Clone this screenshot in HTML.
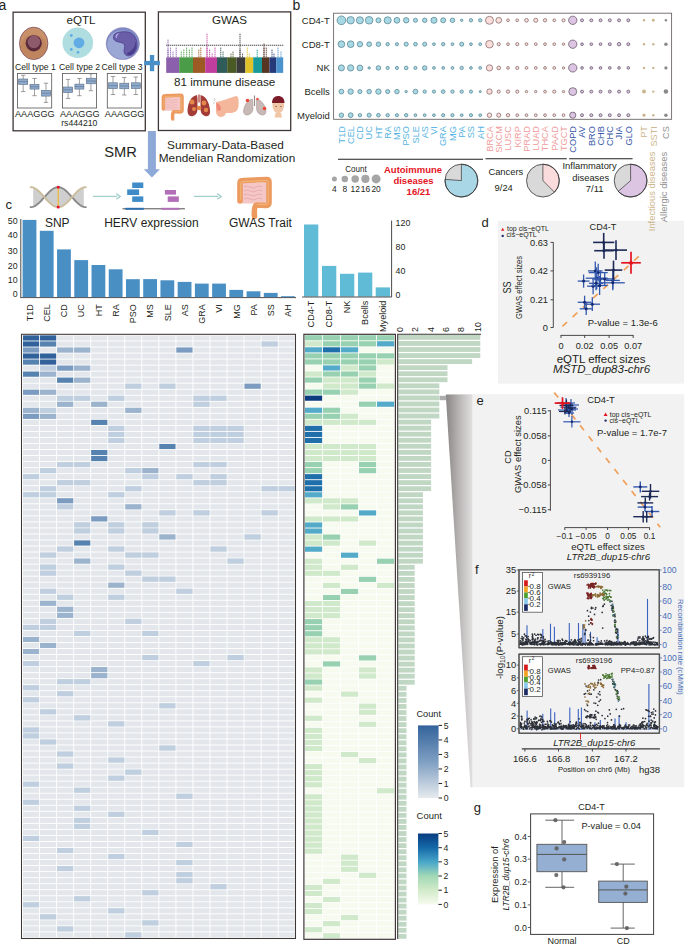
<!DOCTYPE html>
<html><head><meta charset="utf-8"><title>Figure</title>
<style>
html,body{margin:0;padding:0;background:#fff;}
body{width:685px;height:944px;overflow:hidden;}
svg{display:block;font-family:"Liberation Sans", sans-serif;}
</style></head><body>
<svg width="685" height="944" viewBox="0 0 685 944">
<text x="-1.50" y="9.90" font-size="14" fill="#231f20" text-anchor="start">a</text>
<text x="292.60" y="9.90" font-size="14" fill="#231f20" text-anchor="start">b</text>
<rect x="13.10" y="12.20" width="132.20" height="118.60" fill="none" stroke="#3f3636" stroke-width="1.3"/>
<rect x="158.40" y="11.90" width="132.30" height="118.60" fill="none" stroke="#3f3636" stroke-width="1.3"/>
<text x="81.00" y="23.60" font-size="11.6" fill="#231f20" text-anchor="middle">eQTL</text>
<text x="229.50" y="23.60" font-size="11.6" fill="#231f20" text-anchor="middle">GWAS</text>
<ellipse cx="33.7" cy="43.4" rx="14.2" ry="16.2" fill="#c8916a" stroke="#7d4a5c" stroke-width="0.8"/>
<ellipse cx="33.7" cy="46.5" rx="12.5" ry="12" fill="#b77d58" opacity="0.6"/>
<circle cx="33.70" cy="43.30" r="8.10" fill="#5a2a3c"/>
<circle cx="33.90" cy="41.90" r="6.30" fill="#8c5a6a"/>
<circle cx="77.80" cy="42.80" r="15.30" fill="#afdde0"/>
<circle cx="79.00" cy="42.80" r="5.40" fill="#62ace6"/>
<circle cx="71.30" cy="35.50" r="1.40" fill="#62ace6"/>
<circle cx="71.30" cy="49.50" r="1.40" fill="#62ace6"/>
<circle cx="78.00" cy="52.30" r="1.40" fill="#62ace6"/>
<ellipse cx="122.8" cy="43.6" rx="16.7" ry="16.0" fill="#7f8bc6" stroke="#8e7aa8" stroke-width="0.4"/>
<ellipse cx="122.3" cy="44.6" rx="15.0" ry="14.2" fill="#9ba7d5"/>
<path d="M113.5 36.5 C114 32.5 120 31.5 126 31.8 C133 32 137.5 38 137 46 C136.5 52 132 56 128 55.8 C124.5 55.5 123.5 52 124.3 49 C125 46 125 43.5 121 42.5 C117 41.8 113 41 113.5 36.5 Z" fill="#6a5ea8" stroke="#4a3d8c" stroke-width="0.8"/>
<path d="M129 52 C133 50 135.5 46 135.5 41 C136.8 45 136.5 51 132 54.5 C130 55.5 127.5 55 126.5 53.5 Z" fill="#4a3d8c"/>
<path d="M115.5 37 C115.5 34.5 117 33.5 119.5 33.2 C117.5 34.5 116.8 36 117 38.2 Z" fill="#b0a8ea"/>
<text x="14.90" y="69.90" font-size="8.7" fill="#231f20" text-anchor="start">Cell type 1</text>
<text x="59.00" y="69.90" font-size="8.7" fill="#231f20" text-anchor="start">Cell type 2</text>
<text x="101.60" y="69.90" font-size="8.7" fill="#231f20" text-anchor="start">Cell type 3</text>
<rect x="17.50" y="73.40" width="34.20" height="34.60" fill="white" stroke="#555" stroke-width="0.8"/>
<line x1="23.20" y1="75.30" x2="23.20" y2="79.00" stroke="#777" stroke-width="0.7"/>
<line x1="23.20" y1="84.40" x2="23.20" y2="91.60" stroke="#777" stroke-width="0.7"/>
<line x1="21.00" y1="75.30" x2="25.40" y2="75.30" stroke="#777" stroke-width="0.7"/>
<line x1="21.00" y1="91.60" x2="25.40" y2="91.60" stroke="#777" stroke-width="0.7"/>
<rect x="18.70" y="79.00" width="9.00" height="5.40" fill="#8eabcf" stroke="#5c6d84" stroke-width="0.6"/>
<line x1="18.70" y1="81.70" x2="27.70" y2="81.70" stroke="#5c6d84" stroke-width="0.6"/>
<line x1="34.50" y1="78.50" x2="34.50" y2="84.40" stroke="#777" stroke-width="0.7"/>
<line x1="34.50" y1="89.10" x2="34.50" y2="95.70" stroke="#777" stroke-width="0.7"/>
<line x1="32.30" y1="78.50" x2="36.70" y2="78.50" stroke="#777" stroke-width="0.7"/>
<line x1="32.30" y1="95.70" x2="36.70" y2="95.70" stroke="#777" stroke-width="0.7"/>
<rect x="30.00" y="84.40" width="9.00" height="4.70" fill="#8eabcf" stroke="#5c6d84" stroke-width="0.6"/>
<line x1="30.00" y1="86.75" x2="39.00" y2="86.75" stroke="#5c6d84" stroke-width="0.6"/>
<line x1="46.00" y1="83.20" x2="46.00" y2="90.30" stroke="#777" stroke-width="0.7"/>
<line x1="46.00" y1="96.10" x2="46.00" y2="102.40" stroke="#777" stroke-width="0.7"/>
<line x1="43.80" y1="83.20" x2="48.20" y2="83.20" stroke="#777" stroke-width="0.7"/>
<line x1="43.80" y1="102.40" x2="48.20" y2="102.40" stroke="#777" stroke-width="0.7"/>
<rect x="41.50" y="90.30" width="9.00" height="5.80" fill="#8eabcf" stroke="#5c6d84" stroke-width="0.6"/>
<line x1="41.50" y1="93.20" x2="50.50" y2="93.20" stroke="#5c6d84" stroke-width="0.6"/>
<rect x="62.40" y="73.40" width="34.20" height="34.60" fill="white" stroke="#555" stroke-width="0.8"/>
<line x1="68.10" y1="79.40" x2="68.10" y2="87.00" stroke="#777" stroke-width="0.7"/>
<line x1="68.10" y1="92.60" x2="68.10" y2="98.40" stroke="#777" stroke-width="0.7"/>
<line x1="65.90" y1="79.40" x2="70.30" y2="79.40" stroke="#777" stroke-width="0.7"/>
<line x1="65.90" y1="98.40" x2="70.30" y2="98.40" stroke="#777" stroke-width="0.7"/>
<rect x="63.60" y="87.00" width="9.00" height="5.60" fill="#8eabcf" stroke="#5c6d84" stroke-width="0.6"/>
<line x1="63.60" y1="89.80" x2="72.60" y2="89.80" stroke="#5c6d84" stroke-width="0.6"/>
<line x1="79.40" y1="78.50" x2="79.40" y2="84.10" stroke="#777" stroke-width="0.7"/>
<line x1="79.40" y1="89.10" x2="79.40" y2="95.70" stroke="#777" stroke-width="0.7"/>
<line x1="77.20" y1="78.50" x2="81.60" y2="78.50" stroke="#777" stroke-width="0.7"/>
<line x1="77.20" y1="95.70" x2="81.60" y2="95.70" stroke="#777" stroke-width="0.7"/>
<rect x="74.90" y="84.10" width="9.00" height="5.00" fill="#8eabcf" stroke="#5c6d84" stroke-width="0.6"/>
<line x1="74.90" y1="86.60" x2="83.90" y2="86.60" stroke="#5c6d84" stroke-width="0.6"/>
<line x1="90.90" y1="73.80" x2="90.90" y2="78.20" stroke="#777" stroke-width="0.7"/>
<line x1="90.90" y1="83.80" x2="90.90" y2="90.70" stroke="#777" stroke-width="0.7"/>
<line x1="88.70" y1="73.80" x2="93.10" y2="73.80" stroke="#777" stroke-width="0.7"/>
<line x1="88.70" y1="90.70" x2="93.10" y2="90.70" stroke="#777" stroke-width="0.7"/>
<rect x="86.40" y="78.20" width="9.00" height="5.60" fill="#8eabcf" stroke="#5c6d84" stroke-width="0.6"/>
<line x1="86.40" y1="81.00" x2="95.40" y2="81.00" stroke="#5c6d84" stroke-width="0.6"/>
<rect x="107.30" y="73.40" width="34.20" height="34.60" fill="white" stroke="#555" stroke-width="0.8"/>
<line x1="113.00" y1="76.50" x2="113.00" y2="82.80" stroke="#777" stroke-width="0.7"/>
<line x1="113.00" y1="88.60" x2="113.00" y2="94.50" stroke="#777" stroke-width="0.7"/>
<line x1="110.80" y1="76.50" x2="115.20" y2="76.50" stroke="#777" stroke-width="0.7"/>
<line x1="110.80" y1="94.50" x2="115.20" y2="94.50" stroke="#777" stroke-width="0.7"/>
<rect x="108.50" y="82.80" width="9.00" height="5.80" fill="#8eabcf" stroke="#5c6d84" stroke-width="0.6"/>
<line x1="108.50" y1="85.70" x2="117.50" y2="85.70" stroke="#5c6d84" stroke-width="0.6"/>
<line x1="124.30" y1="77.50" x2="124.30" y2="83.20" stroke="#777" stroke-width="0.7"/>
<line x1="124.30" y1="88.80" x2="124.30" y2="95.00" stroke="#777" stroke-width="0.7"/>
<line x1="122.10" y1="77.50" x2="126.50" y2="77.50" stroke="#777" stroke-width="0.7"/>
<line x1="122.10" y1="95.00" x2="126.50" y2="95.00" stroke="#777" stroke-width="0.7"/>
<rect x="119.80" y="83.20" width="9.00" height="5.60" fill="#8eabcf" stroke="#5c6d84" stroke-width="0.6"/>
<line x1="119.80" y1="86.00" x2="128.80" y2="86.00" stroke="#5c6d84" stroke-width="0.6"/>
<line x1="135.80" y1="77.00" x2="135.80" y2="82.80" stroke="#777" stroke-width="0.7"/>
<line x1="135.80" y1="88.60" x2="135.80" y2="94.50" stroke="#777" stroke-width="0.7"/>
<line x1="133.60" y1="77.00" x2="138.00" y2="77.00" stroke="#777" stroke-width="0.7"/>
<line x1="133.60" y1="94.50" x2="138.00" y2="94.50" stroke="#777" stroke-width="0.7"/>
<rect x="131.30" y="82.80" width="9.00" height="5.80" fill="#8eabcf" stroke="#5c6d84" stroke-width="0.6"/>
<line x1="131.30" y1="85.70" x2="140.30" y2="85.70" stroke="#5c6d84" stroke-width="0.6"/>
<text x="15.00" y="116.60" font-size="9.1" fill="#231f20" text-anchor="start" textLength="39.6" lengthAdjust="spacingAndGlyphs">AAAGGG</text>
<text x="60.00" y="116.60" font-size="9.1" fill="#231f20" text-anchor="start" textLength="39.6" lengthAdjust="spacingAndGlyphs">AAAGGG</text>
<text x="104.80" y="116.60" font-size="9.1" fill="#231f20" text-anchor="start" textLength="39.6" lengthAdjust="spacingAndGlyphs">AAAGGG</text>
<text x="79.30" y="125.90" font-size="8.7" fill="#231f20" text-anchor="middle">rs444210</text>
<rect x="166.20" y="57.30" width="13.00" height="15.60" fill="#8b5fac"/>
<rect x="179.20" y="57.30" width="13.80" height="15.60" fill="#4a9c49"/>
<rect x="193.00" y="57.30" width="12.20" height="15.60" fill="#9c5a25"/>
<rect x="205.20" y="57.30" width="11.80" height="15.60" fill="#c03f9e"/>
<rect x="217.00" y="57.30" width="10.20" height="15.60" fill="#2f5c58"/>
<rect x="227.20" y="57.30" width="9.30" height="15.60" fill="#4a5a24"/>
<rect x="236.50" y="57.30" width="8.90" height="15.60" fill="#3a3a3a"/>
<rect x="245.40" y="57.30" width="7.80" height="15.60" fill="#e0c12a"/>
<rect x="253.20" y="57.30" width="8.80" height="15.60" fill="#17999a"/>
<rect x="262.00" y="57.30" width="7.50" height="15.60" fill="#563522"/>
<rect x="269.50" y="57.30" width="6.70" height="15.60" fill="#263a7a"/>
<rect x="276.20" y="57.30" width="7.00" height="15.60" fill="#4a93cc"/>
<rect x="167.45" y="55.65" width="1.10" height="1.10" fill="#8b5fac"/>
<rect x="167.45" y="53.65" width="1.10" height="1.10" fill="#8b5fac"/>
<rect x="167.45" y="51.65" width="1.10" height="1.10" fill="#8b5fac"/>
<rect x="167.45" y="49.65" width="1.10" height="1.10" fill="#8b5fac"/>
<rect x="169.95" y="55.65" width="1.10" height="1.10" fill="#8b5fac"/>
<rect x="169.95" y="53.65" width="1.10" height="1.10" fill="#8b5fac"/>
<rect x="169.95" y="51.65" width="1.10" height="1.10" fill="#8b5fac"/>
<rect x="169.95" y="49.65" width="1.10" height="1.10" fill="#8b5fac"/>
<rect x="169.95" y="47.65" width="1.10" height="1.10" fill="#8b5fac"/>
<rect x="172.45" y="55.65" width="1.10" height="1.10" fill="#8b5fac"/>
<rect x="172.45" y="53.65" width="1.10" height="1.10" fill="#8b5fac"/>
<rect x="172.45" y="51.65" width="1.10" height="1.10" fill="#8b5fac"/>
<rect x="175.65" y="55.65" width="1.10" height="1.10" fill="#8b5fac"/>
<rect x="175.65" y="53.65" width="1.10" height="1.10" fill="#8b5fac"/>
<rect x="175.65" y="51.65" width="1.10" height="1.10" fill="#8b5fac"/>
<rect x="175.65" y="49.65" width="1.10" height="1.10" fill="#8b5fac"/>
<rect x="175.65" y="47.65" width="1.10" height="1.10" fill="#8b5fac"/>
<rect x="180.75" y="55.65" width="1.10" height="1.10" fill="#4a9c49"/>
<rect x="180.75" y="53.65" width="1.10" height="1.10" fill="#4a9c49"/>
<rect x="180.75" y="51.65" width="1.10" height="1.10" fill="#4a9c49"/>
<rect x="183.25" y="55.65" width="1.10" height="1.10" fill="#4a9c49"/>
<rect x="183.25" y="53.65" width="1.10" height="1.10" fill="#4a9c49"/>
<rect x="183.25" y="51.65" width="1.10" height="1.10" fill="#4a9c49"/>
<rect x="183.25" y="49.65" width="1.10" height="1.10" fill="#4a9c49"/>
<rect x="186.05" y="55.65" width="1.10" height="1.10" fill="#4a9c49"/>
<rect x="186.05" y="53.65" width="1.10" height="1.10" fill="#4a9c49"/>
<rect x="186.05" y="51.65" width="1.10" height="1.10" fill="#4a9c49"/>
<rect x="186.05" y="49.65" width="1.10" height="1.10" fill="#4a9c49"/>
<rect x="186.05" y="47.65" width="1.10" height="1.10" fill="#4a9c49"/>
<rect x="188.85" y="55.65" width="1.10" height="1.10" fill="#4a9c49"/>
<rect x="188.85" y="53.65" width="1.10" height="1.10" fill="#4a9c49"/>
<rect x="188.85" y="51.65" width="1.10" height="1.10" fill="#4a9c49"/>
<rect x="188.85" y="49.65" width="1.10" height="1.10" fill="#4a9c49"/>
<rect x="191.45" y="55.65" width="1.10" height="1.10" fill="#4a9c49"/>
<rect x="191.45" y="53.65" width="1.10" height="1.10" fill="#4a9c49"/>
<rect x="191.45" y="51.65" width="1.10" height="1.10" fill="#4a9c49"/>
<rect x="191.45" y="49.65" width="1.10" height="1.10" fill="#4a9c49"/>
<rect x="191.45" y="47.65" width="1.10" height="1.10" fill="#4a9c49"/>
<rect x="198.25" y="55.65" width="1.10" height="1.10" fill="#9c5a25"/>
<rect x="198.25" y="53.65" width="1.10" height="1.10" fill="#9c5a25"/>
<rect x="198.25" y="51.65" width="1.10" height="1.10" fill="#9c5a25"/>
<rect x="198.25" y="49.65" width="1.10" height="1.10" fill="#9c5a25"/>
<rect x="200.25" y="55.65" width="1.10" height="1.10" fill="#9c5a25"/>
<rect x="200.25" y="53.65" width="1.10" height="1.10" fill="#9c5a25"/>
<rect x="200.25" y="51.65" width="1.10" height="1.10" fill="#9c5a25"/>
<rect x="200.25" y="49.65" width="1.10" height="1.10" fill="#9c5a25"/>
<rect x="200.25" y="47.65" width="1.10" height="1.10" fill="#9c5a25"/>
<rect x="206.45" y="55.65" width="1.10" height="1.10" fill="#c03f9e"/>
<rect x="206.45" y="53.65" width="1.10" height="1.10" fill="#c03f9e"/>
<rect x="206.45" y="51.65" width="1.10" height="1.10" fill="#c03f9e"/>
<rect x="206.45" y="49.65" width="1.10" height="1.10" fill="#c03f9e"/>
<rect x="206.45" y="47.65" width="1.10" height="1.10" fill="#c03f9e"/>
<rect x="209.05" y="55.65" width="1.10" height="1.10" fill="#c03f9e"/>
<rect x="209.05" y="53.65" width="1.10" height="1.10" fill="#c03f9e"/>
<rect x="209.05" y="51.65" width="1.10" height="1.10" fill="#c03f9e"/>
<rect x="209.05" y="49.65" width="1.10" height="1.10" fill="#c03f9e"/>
<rect x="211.65" y="55.65" width="1.10" height="1.10" fill="#c03f9e"/>
<rect x="211.65" y="53.65" width="1.10" height="1.10" fill="#c03f9e"/>
<rect x="214.45" y="55.65" width="1.10" height="1.10" fill="#c03f9e"/>
<rect x="214.45" y="53.65" width="1.10" height="1.10" fill="#c03f9e"/>
<rect x="214.45" y="51.65" width="1.10" height="1.10" fill="#c03f9e"/>
<rect x="214.45" y="49.65" width="1.10" height="1.10" fill="#c03f9e"/>
<rect x="214.45" y="47.65" width="1.10" height="1.10" fill="#c03f9e"/>
<rect x="220.15" y="55.65" width="1.10" height="1.10" fill="#2f5c58"/>
<rect x="220.15" y="53.65" width="1.10" height="1.10" fill="#2f5c58"/>
<rect x="220.15" y="51.65" width="1.10" height="1.10" fill="#2f5c58"/>
<rect x="220.15" y="49.65" width="1.10" height="1.10" fill="#2f5c58"/>
<rect x="220.15" y="47.65" width="1.10" height="1.10" fill="#2f5c58"/>
<rect x="222.45" y="55.65" width="1.10" height="1.10" fill="#2f5c58"/>
<rect x="222.45" y="53.65" width="1.10" height="1.10" fill="#2f5c58"/>
<rect x="222.45" y="51.65" width="1.10" height="1.10" fill="#2f5c58"/>
<rect x="230.45" y="55.65" width="1.10" height="1.10" fill="#4a5a24"/>
<rect x="230.45" y="53.65" width="1.10" height="1.10" fill="#4a5a24"/>
<rect x="232.45" y="55.65" width="1.10" height="1.10" fill="#4a5a24"/>
<rect x="232.45" y="53.65" width="1.10" height="1.10" fill="#4a5a24"/>
<rect x="232.45" y="51.65" width="1.10" height="1.10" fill="#4a5a24"/>
<rect x="239.45" y="55.65" width="1.10" height="1.10" fill="#3a3a3a"/>
<rect x="239.45" y="53.65" width="1.10" height="1.10" fill="#3a3a3a"/>
<rect x="239.45" y="51.65" width="1.10" height="1.10" fill="#3a3a3a"/>
<rect x="239.45" y="49.65" width="1.10" height="1.10" fill="#3a3a3a"/>
<rect x="241.95" y="55.65" width="1.10" height="1.10" fill="#3a3a3a"/>
<rect x="241.95" y="53.65" width="1.10" height="1.10" fill="#3a3a3a"/>
<rect x="246.75" y="55.65" width="1.10" height="1.10" fill="#e0c12a"/>
<rect x="246.75" y="53.65" width="1.10" height="1.10" fill="#e0c12a"/>
<rect x="246.75" y="51.65" width="1.10" height="1.10" fill="#e0c12a"/>
<rect x="246.75" y="49.65" width="1.10" height="1.10" fill="#e0c12a"/>
<rect x="246.75" y="47.65" width="1.10" height="1.10" fill="#e0c12a"/>
<rect x="248.65" y="55.65" width="1.10" height="1.10" fill="#e0c12a"/>
<rect x="248.65" y="53.65" width="1.10" height="1.10" fill="#e0c12a"/>
<rect x="256.65" y="55.65" width="1.10" height="1.10" fill="#17999a"/>
<rect x="256.65" y="53.65" width="1.10" height="1.10" fill="#17999a"/>
<rect x="256.65" y="51.65" width="1.10" height="1.10" fill="#17999a"/>
<rect x="256.65" y="49.65" width="1.10" height="1.10" fill="#17999a"/>
<rect x="263.45" y="55.65" width="1.10" height="1.10" fill="#563522"/>
<rect x="263.45" y="53.65" width="1.10" height="1.10" fill="#563522"/>
<rect x="263.45" y="51.65" width="1.10" height="1.10" fill="#563522"/>
<rect x="263.45" y="49.65" width="1.10" height="1.10" fill="#563522"/>
<rect x="263.45" y="47.65" width="1.10" height="1.10" fill="#563522"/>
<rect x="265.75" y="55.65" width="1.10" height="1.10" fill="#563522"/>
<rect x="265.75" y="53.65" width="1.10" height="1.10" fill="#563522"/>
<rect x="265.75" y="51.65" width="1.10" height="1.10" fill="#563522"/>
<rect x="265.75" y="49.65" width="1.10" height="1.10" fill="#563522"/>
<rect x="265.75" y="47.65" width="1.10" height="1.10" fill="#563522"/>
<rect x="271.45" y="55.65" width="1.10" height="1.10" fill="#263a7a"/>
<rect x="271.45" y="53.65" width="1.10" height="1.10" fill="#263a7a"/>
<rect x="271.45" y="51.65" width="1.10" height="1.10" fill="#263a7a"/>
<rect x="271.45" y="49.65" width="1.10" height="1.10" fill="#263a7a"/>
<rect x="273.45" y="55.65" width="1.10" height="1.10" fill="#263a7a"/>
<rect x="273.45" y="53.65" width="1.10" height="1.10" fill="#263a7a"/>
<rect x="277.45" y="55.65" width="1.10" height="1.10" fill="#4a93cc"/>
<rect x="277.45" y="53.65" width="1.10" height="1.10" fill="#4a93cc"/>
<rect x="277.45" y="51.65" width="1.10" height="1.10" fill="#4a93cc"/>
<rect x="277.45" y="49.65" width="1.10" height="1.10" fill="#4a93cc"/>
<rect x="277.45" y="47.65" width="1.10" height="1.10" fill="#4a93cc"/>
<rect x="280.45" y="55.65" width="1.10" height="1.10" fill="#4a93cc"/>
<rect x="280.45" y="53.65" width="1.10" height="1.10" fill="#4a93cc"/>
<rect x="280.45" y="51.65" width="1.10" height="1.10" fill="#4a93cc"/>
<rect x="167.45" y="55.65" width="1.10" height="1.10" fill="#8b5fac"/>
<rect x="167.45" y="53.65" width="1.10" height="1.10" fill="#8b5fac"/>
<rect x="167.45" y="51.65" width="1.10" height="1.10" fill="#8b5fac"/>
<rect x="167.45" y="49.65" width="1.10" height="1.10" fill="#8b5fac"/>
<rect x="167.45" y="47.65" width="1.10" height="1.10" fill="#8b5fac"/>
<rect x="167.45" y="45.65" width="1.10" height="1.10" fill="#8b5fac"/>
<rect x="167.45" y="43.65" width="1.10" height="1.10" fill="#8b5fac"/>
<rect x="167.45" y="41.65" width="1.10" height="1.10" fill="#8b5fac"/>
<rect x="167.45" y="39.65" width="1.10" height="1.10" fill="#8b5fac"/>
<rect x="206.45" y="55.65" width="1.10" height="1.10" fill="#c03f9e"/>
<rect x="206.45" y="53.65" width="1.10" height="1.10" fill="#c03f9e"/>
<rect x="206.45" y="51.65" width="1.10" height="1.10" fill="#c03f9e"/>
<rect x="206.45" y="49.65" width="1.10" height="1.10" fill="#c03f9e"/>
<rect x="206.45" y="47.65" width="1.10" height="1.10" fill="#c03f9e"/>
<rect x="206.45" y="45.65" width="1.10" height="1.10" fill="#c03f9e"/>
<rect x="206.45" y="43.65" width="1.10" height="1.10" fill="#c03f9e"/>
<rect x="206.45" y="41.65" width="1.10" height="1.10" fill="#c03f9e"/>
<rect x="206.45" y="39.65" width="1.10" height="1.10" fill="#c03f9e"/>
<rect x="206.45" y="37.65" width="1.10" height="1.10" fill="#c03f9e"/>
<rect x="206.45" y="35.65" width="1.10" height="1.10" fill="#c03f9e"/>
<rect x="206.45" y="33.65" width="1.10" height="1.10" fill="#c03f9e"/>
<rect x="239.45" y="55.65" width="1.10" height="1.10" fill="#3a3a3a"/>
<rect x="239.45" y="53.65" width="1.10" height="1.10" fill="#3a3a3a"/>
<rect x="239.45" y="51.65" width="1.10" height="1.10" fill="#3a3a3a"/>
<rect x="239.45" y="49.65" width="1.10" height="1.10" fill="#3a3a3a"/>
<rect x="239.45" y="47.65" width="1.10" height="1.10" fill="#3a3a3a"/>
<rect x="239.45" y="45.65" width="1.10" height="1.10" fill="#3a3a3a"/>
<rect x="239.45" y="43.65" width="1.10" height="1.10" fill="#3a3a3a"/>
<rect x="239.45" y="41.65" width="1.10" height="1.10" fill="#3a3a3a"/>
<rect x="239.45" y="39.65" width="1.10" height="1.10" fill="#3a3a3a"/>
<rect x="239.45" y="37.65" width="1.10" height="1.10" fill="#3a3a3a"/>
<rect x="239.45" y="35.65" width="1.10" height="1.10" fill="#3a3a3a"/>
<rect x="239.45" y="33.65" width="1.10" height="1.10" fill="#3a3a3a"/>
<rect x="263.45" y="55.65" width="1.10" height="1.10" fill="#563522"/>
<rect x="263.45" y="53.65" width="1.10" height="1.10" fill="#563522"/>
<rect x="263.45" y="51.65" width="1.10" height="1.10" fill="#563522"/>
<rect x="263.45" y="49.65" width="1.10" height="1.10" fill="#563522"/>
<rect x="263.45" y="47.65" width="1.10" height="1.10" fill="#563522"/>
<rect x="263.45" y="45.65" width="1.10" height="1.10" fill="#563522"/>
<rect x="263.45" y="43.65" width="1.10" height="1.10" fill="#563522"/>
<line x1="166.20" y1="45.20" x2="283.20" y2="45.20" stroke="#222" stroke-width="1.1" stroke-dasharray="1.1 0.9"/>
<text x="224.60" y="86.40" font-size="11.7" fill="#231f20" text-anchor="middle">81 immune disease</text>
<g transform="translate(9.82 -19.64) scale(0.64)">
<rect x="242" y="182.6" width="25" height="21" rx="1" fill="#f5c6c6"/>
<path d="M244 187 Q247 185 250 187 T256 187 T262 187 M244 191 Q247 189 250 191 T256 191 T262 191 M244 195 Q247 193 250 195 T256 195 T262 195 M244 199 Q247 197 250 199 T256 199 T262 199" fill="none" stroke="#e2a2a8" stroke-width="0.7"/>
<path d="M240 201 L240 183 Q240 180.5 243 180.5 L266.5 179.5 Q269 179.5 269 182 L269 202.5 Q269 205.5 265.5 205.5 L257 205 Q253.5 205.5 254.5 216.5" fill="none" stroke="#ec9a60" stroke-width="5.6" stroke-linecap="round" stroke-linejoin="round"/>
<path d="M240.8 200 L240.8 183.5 Q240.8 181.5 243 181.5 L266.5 180.5 Q268.2 180.5 268.2 182.5 L268.2 202 Q268.2 204.5 265.5 204.5 L257 204.2" fill="none" stroke="#f4c07c" stroke-width="0.8"/>
</g>
<path d="M197 95 C191 96 188 103 187.5 110 C187.5 114 189 117 193 116 C196 115 197.5 113 197.5 108 L197.5 98 Z" fill="#a33c36"/>
<path d="M200.5 95 C206 96 209.5 103 210 110 C210.5 114 209 117 205 116 C202 115 200.5 113 200.5 108 L200.5 98 Z" fill="#a33c36"/>
<rect x="198.3" y="94.5" width="1.4" height="8" fill="#b5544a"/>
<circle cx="192.00" cy="102.00" r="2.50" fill="#e4884a"/>
<circle cx="194.00" cy="109.00" r="2.00" fill="#e4884a"/>
<circle cx="204.00" cy="103.00" r="2.40" fill="#e4884a"/>
<circle cx="206.00" cy="110.00" r="2.20" fill="#e4884a"/>
<circle cx="199.00" cy="108.00" r="2.30" fill="#e4884a"/>
<path d="M216 102 C222 101 229 98 236 96 C238.5 96 239 100 238.5 106 C238 111 235 113 230 113 L226 113 C225 116 223 117 220 117 C217 116 215.5 113 216 109 Z" fill="#f4b79c"/>
<path d="M216.5 103 C219 103 221 106 221 110 L218 111 C216.5 109 216 106 216.5 103 Z" fill="#ec7d74" opacity="0.8"/>
<line x1="213.50" y1="100.00" x2="215.50" y2="101.50" stroke="#999" stroke-width="0.5"/>
<line x1="213.00" y1="103.00" x2="215.00" y2="103.00" stroke="#999" stroke-width="0.5"/>
<line x1="214.00" y1="98.00" x2="215.50" y2="100.00" stroke="#999" stroke-width="0.5"/>
<path d="M252.5 99 C247 100 244 106 243.5 111 C243.5 114 245 115.5 248 115 C251 114 253 112 253 108 Z" fill="#c9b9b6" stroke="#8e7d7b" stroke-width="0.4"/>
<path d="M256.5 99 C262 100 265.5 106 266 111 C266 114 264.5 115.5 261.5 115 C258.5 114 256.5 112 256.5 108 Z" fill="#c9b9b6" stroke="#8e7d7b" stroke-width="0.4"/>
<line x1="254.50" y1="95.50" x2="254.50" y2="106.00" stroke="#9c8c8a" stroke-width="1.2"/>
<circle cx="247.50" cy="100.50" r="1.80" fill="#ee4a3a"/>
<circle cx="264.50" cy="108.50" r="1.80" fill="#ee4a3a"/>
<circle cx="257.50" cy="99.00" r="1.20" fill="#ee4a3a"/>
<path d="M272 103 C272 99 274 96 278 96 C282 96 284.5 98.5 284.5 103 Z" fill="#7c1c2a"/>
<path d="M272.5 103 C272 108 274 113 278.3 113.5 C282.5 113 284.5 108 284 103 Z" fill="#f1c6a6"/>
<path d="M275.5 113 L281 113 L282 117.5 L274.5 117.5 Z" fill="#f1c6a6"/>
<circle cx="276.00" cy="106.50" r="0.60" fill="#333"/>
<circle cx="281.00" cy="106.50" r="0.60" fill="#333"/>
<rect x="144.20" y="60.90" width="15.70" height="4.30" fill="#4a90c8"/>
<rect x="149.90" y="55.00" width="4.30" height="16.20" fill="#4a90c8"/>
<path d="M147.9 131.1 L155.9 131.1 L155.9 169.2 L159.9 169.2 L151.9 177.6 L143.8 169.2 L147.9 169.2 Z" fill="#8ea8d8"/>
<text x="104.20" y="156.80" font-size="14.7" fill="#231f20" text-anchor="start">SMR</text>
<text x="167.10" y="148.60" font-size="11.8" fill="#231f20" text-anchor="start">Summary-Data-Based</text>
<text x="158.80" y="162.40" font-size="11.8" fill="#231f20" text-anchor="start">Mendelian Randomization</text>
<text x="5.40" y="209.40" font-size="13" fill="#231f20" text-anchor="start">c</text>
<path d="M33.20 187.58 L34.04 187.91 L34.89 188.32 L35.73 188.81 L36.57 189.37 L37.42 190.01 L38.26 190.72 L39.10 191.48 L39.95 192.30 L40.79 193.16 L41.63 194.05 L42.48 194.98 L43.32 195.92 L44.16 196.88 L45.01 197.84 L45.85 198.79 L46.69 199.73 L47.54 200.64 L48.38 201.53 L49.22 202.37 L50.07 203.16 L50.91 203.90 L51.75 204.58 L52.60 205.18 L53.44 205.72 L54.28 206.17 L55.13 206.54 L55.97 206.83 L56.81 207.03 L57.66 207.13 L58.50 207.14 L59.34 207.07 L60.19 206.90 L61.03 206.64 L61.87 206.29 L62.72 205.86 L63.56 205.35 L64.40 204.76 L65.25 204.10 L66.09 203.38 L66.93 202.60 L67.78 201.77 L68.62 200.90 L69.46 200.00 L70.31 199.07 L71.15 198.12 L71.99 197.16 L72.84 196.20 L73.68 195.25 L74.52 194.32 L75.37 193.41 L76.21 192.54 L77.05 191.71 L77.90 190.93 L78.74 190.21 L79.58 189.55 L80.43 188.96 L81.27 188.45 L82.11 188.02 L82.96 187.67 L83.80 187.41 L83.80 206.89 L82.96 206.63 L82.11 206.28 L81.27 205.85 L80.43 205.34 L79.58 204.75 L78.74 204.09 L77.90 203.37 L77.05 202.59 L76.21 201.76 L75.37 200.89 L74.52 199.98 L73.68 199.05 L72.84 198.10 L71.99 197.14 L71.15 196.18 L70.31 195.23 L69.46 194.30 L68.62 193.40 L67.78 192.53 L66.93 191.70 L66.09 190.92 L65.25 190.20 L64.40 189.54 L63.56 188.95 L62.72 188.44 L61.87 188.01 L61.03 187.66 L60.19 187.40 L59.34 187.23 L58.50 187.16 L57.66 187.17 L56.81 187.27 L55.97 187.47 L55.13 187.76 L54.28 188.13 L53.44 188.58 L52.60 189.12 L51.75 189.72 L50.91 190.40 L50.07 191.14 L49.22 191.93 L48.38 192.77 L47.54 193.66 L46.69 194.57 L45.85 195.51 L45.01 196.46 L44.16 197.42 L43.32 198.38 L42.48 199.32 L41.63 200.25 L40.79 201.14 L39.95 202.00 L39.10 202.82 L38.26 203.58 L37.42 204.29 L36.57 204.93 L35.73 205.49 L34.89 205.98 L34.04 206.39 L33.20 206.72 Z" fill="#cfcfcf"/>
<path d="M30.60 207.15 L31.52 207.10 L32.44 206.93 L33.36 206.66 L34.28 206.29 L35.20 205.81 L36.12 205.24 L37.04 204.58 L37.96 203.84 L38.88 203.03 L39.80 202.15 L40.72 201.22 L41.64 200.24 L42.56 199.23 L43.48 198.20 L44.40 197.15 L45.32 196.10 L46.24 195.07 L47.16 194.06 L48.08 193.08 L49.00 192.15 L49.92 191.27 L50.84 190.46 L51.76 189.72 L52.68 189.06 L53.60 188.49 L54.52 188.01 L55.44 187.64 L56.36 187.37 L57.28 187.20 L58.20 187.15 L59.12 187.20 L60.04 187.37 L60.96 187.64 L61.88 188.01 L62.80 188.49 L63.72 189.06 L64.64 189.72 L65.56 190.46 L66.48 191.27 L67.40 192.15 L68.32 193.08 L69.24 194.06 L70.16 195.07 L71.08 196.10 L72.00 197.15 L72.92 198.20 L73.84 199.23 L74.76 200.24 L75.68 201.22 L76.60 202.15 L77.52 203.03 L78.44 203.84 L79.36 204.58 L80.28 205.24 L81.20 205.81 L82.12 206.29 L83.04 206.66 L83.96 206.93 L84.88 207.10 L85.80 207.15" fill="none" stroke="#8a8a8a" stroke-width="1.9" stroke-linecap="round"/>
<path d="M30.60 187.15 L31.52 187.20 L32.44 187.37 L33.36 187.64 L34.28 188.01 L35.20 188.49 L36.12 189.06 L37.04 189.72 L37.96 190.46 L38.88 191.27 L39.80 192.15 L40.72 193.08 L41.64 194.06 L42.56 195.07 L43.48 196.10 L44.40 197.15 L45.32 198.20 L46.24 199.23 L47.16 200.24 L48.08 201.22 L49.00 202.15 L49.92 203.03 L50.84 203.84 L51.76 204.58 L52.68 205.24 L53.60 205.81 L54.52 206.29 L55.44 206.66 L56.36 206.93 L57.28 207.10 L58.20 207.15 L59.12 207.10 L60.04 206.93 L60.96 206.66 L61.88 206.29 L62.80 205.81 L63.72 205.24 L64.64 204.58 L65.56 203.84 L66.48 203.03 L67.40 202.15 L68.32 201.22 L69.24 200.24 L70.16 199.23 L71.08 198.20 L72.00 197.15 L72.92 196.10 L73.84 195.07 L74.76 194.06 L75.68 193.08 L76.60 192.15 L77.52 191.27 L78.44 190.46 L79.36 189.72 L80.28 189.06 L81.20 188.49 L82.12 188.01 L83.04 187.64 L83.96 187.37 L84.88 187.20 L85.80 187.15" fill="none" stroke="#cbbd9b" stroke-width="1.9" stroke-linecap="round"/>
<line x1="58.20" y1="187.50" x2="58.20" y2="207.00" stroke="#f3b323" stroke-width="1.1"/>
<rect x="56.90" y="185.90" width="2.60" height="2.60" fill="#e5102a"/>
<rect x="56.90" y="205.80" width="2.60" height="2.60" fill="#e5102a"/>
<line x1="93.00" y1="196.40" x2="117.30" y2="196.40" stroke="#a5cfca" stroke-width="1.3"/>
<path d="M116.30 193.60 L120.30 196.40 L116.30 199.20" fill="none" stroke="#a5cfca" stroke-width="1.3"/>
<line x1="193.80" y1="196.40" x2="218.20" y2="196.40" stroke="#a5cfca" stroke-width="1.3"/>
<path d="M217.20 193.60 L221.20 196.40 L217.20 199.20" fill="none" stroke="#a5cfca" stroke-width="1.3"/>
<rect x="132.20" y="182.50" width="11.10" height="5.50" fill="#3f8cc8"/>
<rect x="127.20" y="189.40" width="11.90" height="5.60" fill="#3f8cc8"/>
<rect x="132.20" y="196.40" width="11.10" height="5.50" fill="#3f8cc8"/>
<rect x="164.90" y="190.00" width="11.10" height="4.60" fill="#b26fb8"/>
<rect x="167.70" y="196.40" width="11.10" height="5.50" fill="#b26fb8"/>
<line x1="122.50" y1="208.80" x2="184.90" y2="208.80" stroke="#222" stroke-width="0.8"/>
<line x1="125.30" y1="208.80" x2="143.80" y2="208.80" stroke="#2b6fb0" stroke-width="2.0"/>
<line x1="161.30" y1="208.80" x2="179.30" y2="208.80" stroke="#b26fb8" stroke-width="2.0"/>
<g transform="translate(0.00 0.00) scale(1)">
<rect x="242" y="182.6" width="25" height="21" rx="1" fill="#f5c6c6"/>
<path d="M244 187 Q247 185 250 187 T256 187 T262 187 M244 191 Q247 189 250 191 T256 191 T262 191 M244 195 Q247 193 250 195 T256 195 T262 195 M244 199 Q247 197 250 199 T256 199 T262 199" fill="none" stroke="#e2a2a8" stroke-width="0.7"/>
<path d="M240 201 L240 183 Q240 180.5 243 180.5 L266.5 179.5 Q269 179.5 269 182 L269 202.5 Q269 205.5 265.5 205.5 L257 205 Q253.5 205.5 254.5 216.5" fill="none" stroke="#ec9a60" stroke-width="5.6" stroke-linecap="round" stroke-linejoin="round"/>
<path d="M240.8 200 L240.8 183.5 Q240.8 181.5 243 181.5 L266.5 180.5 Q268.2 180.5 268.2 182.5 L268.2 202 Q268.2 204.5 265.5 204.5 L257 204.2" fill="none" stroke="#f4c07c" stroke-width="0.8"/>
</g>
<text x="44.90" y="227.10" font-size="12" fill="#231f20" text-anchor="start">SNP</text>
<text x="104.20" y="227.10" font-size="12" fill="#231f20" text-anchor="start">HERV expression</text>
<text x="229.00" y="227.10" font-size="12" fill="#231f20" text-anchor="start">GWAS Trait</text>
<line x1="20.80" y1="219.00" x2="20.80" y2="297.60" stroke="#3a3535" stroke-width="0.9"/>
<line x1="20.30" y1="297.60" x2="296.00" y2="297.60" stroke="#3a3535" stroke-width="0.9"/>
<text x="17.60" y="223.70" font-size="8.8" fill="#231f20" text-anchor="end">50</text>
<text x="17.60" y="238.30" font-size="8.8" fill="#231f20" text-anchor="end">40</text>
<text x="17.60" y="253.60" font-size="8.8" fill="#231f20" text-anchor="end">30</text>
<text x="17.60" y="268.50" font-size="8.8" fill="#231f20" text-anchor="end">20</text>
<text x="17.60" y="283.10" font-size="8.8" fill="#231f20" text-anchor="end">10</text>
<text x="17.60" y="297.40" font-size="8.8" fill="#231f20" text-anchor="end">0</text>
<rect x="22.60" y="219.90" width="13.80" height="77.20" fill="#4a8fc3"/>
<text x="32.80" y="304.20" font-size="9.0" fill="#231f20" text-anchor="end" transform="rotate(-90 32.80 304.20)">T1D</text>
<rect x="39.83" y="230.80" width="13.80" height="66.30" fill="#4a8fc3"/>
<text x="50.03" y="304.20" font-size="9.0" fill="#231f20" text-anchor="end" transform="rotate(-90 50.03 304.20)">CEL</text>
<rect x="57.06" y="249.40" width="13.80" height="47.70" fill="#4a8fc3"/>
<text x="67.26" y="304.20" font-size="9.0" fill="#231f20" text-anchor="end" transform="rotate(-90 67.26 304.20)">CD</text>
<rect x="74.29" y="260.10" width="13.80" height="37.00" fill="#4a8fc3"/>
<text x="84.49" y="304.20" font-size="9.0" fill="#231f20" text-anchor="end" transform="rotate(-90 84.49 304.20)">UC</text>
<rect x="91.52" y="265.00" width="13.80" height="32.10" fill="#4a8fc3"/>
<text x="101.72" y="304.20" font-size="9.0" fill="#231f20" text-anchor="end" transform="rotate(-90 101.72 304.20)">HT</text>
<rect x="108.75" y="269.30" width="13.80" height="27.80" fill="#4a8fc3"/>
<text x="118.95" y="304.20" font-size="9.0" fill="#231f20" text-anchor="end" transform="rotate(-90 118.95 304.20)">RA</text>
<rect x="125.98" y="279.20" width="13.80" height="17.90" fill="#4a8fc3"/>
<text x="136.18" y="304.20" font-size="9.0" fill="#231f20" text-anchor="end" transform="rotate(-90 136.18 304.20)">PSO</text>
<rect x="143.21" y="279.10" width="13.80" height="18.00" fill="#4a8fc3"/>
<text x="153.41" y="304.20" font-size="9.0" fill="#231f20" text-anchor="end" transform="rotate(-90 153.41 304.20)">MS</text>
<rect x="160.44" y="280.30" width="13.80" height="16.80" fill="#4a8fc3"/>
<text x="170.64" y="304.20" font-size="9.0" fill="#231f20" text-anchor="end" transform="rotate(-90 170.64 304.20)">SLE</text>
<rect x="177.67" y="281.90" width="13.80" height="15.20" fill="#4a8fc3"/>
<text x="187.87" y="304.20" font-size="9.0" fill="#231f20" text-anchor="end" transform="rotate(-90 187.87 304.20)">AS</text>
<rect x="194.90" y="283.60" width="13.80" height="13.50" fill="#4a8fc3"/>
<text x="205.10" y="304.20" font-size="9.0" fill="#231f20" text-anchor="end" transform="rotate(-90 205.10 304.20)">GRA</text>
<rect x="212.13" y="283.60" width="13.80" height="13.50" fill="#4a8fc3"/>
<text x="222.33" y="304.20" font-size="9.0" fill="#231f20" text-anchor="end" transform="rotate(-90 222.33 304.20)">VI</text>
<rect x="229.36" y="289.90" width="13.80" height="7.20" fill="#4a8fc3"/>
<text x="239.56" y="304.20" font-size="9.0" fill="#231f20" text-anchor="end" transform="rotate(-90 239.56 304.20)">MG</text>
<rect x="246.59" y="291.30" width="13.80" height="5.80" fill="#4a8fc3"/>
<text x="256.79" y="304.20" font-size="9.0" fill="#231f20" text-anchor="end" transform="rotate(-90 256.79 304.20)">PA</text>
<rect x="263.82" y="292.90" width="13.80" height="4.20" fill="#4a8fc3"/>
<text x="274.02" y="304.20" font-size="9.0" fill="#231f20" text-anchor="end" transform="rotate(-90 274.02 304.20)">SS</text>
<rect x="281.05" y="296.20" width="13.80" height="0.90" fill="#4a8fc3"/>
<text x="291.25" y="304.20" font-size="9.0" fill="#231f20" text-anchor="end" transform="rotate(-90 291.25 304.20)">AH</text>
<rect x="304.00" y="224.50" width="14.30" height="72.10" fill="#5fbbd6"/>
<text x="314.45" y="300.60" font-size="9.1" fill="#231f20" text-anchor="end" transform="rotate(-90 314.45 300.60)">CD4-T</text>
<rect x="322.00" y="265.90" width="14.30" height="30.70" fill="#5fbbd6"/>
<text x="332.45" y="300.60" font-size="9.1" fill="#231f20" text-anchor="end" transform="rotate(-90 332.45 300.60)">CD8-T</text>
<rect x="340.00" y="273.80" width="14.30" height="22.80" fill="#5fbbd6"/>
<text x="350.45" y="300.60" font-size="9.1" fill="#231f20" text-anchor="end" transform="rotate(-90 350.45 300.60)">NK</text>
<rect x="358.00" y="272.60" width="14.30" height="24.00" fill="#5fbbd6"/>
<text x="368.45" y="300.60" font-size="9.1" fill="#231f20" text-anchor="end" transform="rotate(-90 368.45 300.60)">Bcells</text>
<rect x="375.70" y="287.40" width="14.30" height="9.20" fill="#5fbbd6"/>
<text x="386.15" y="300.60" font-size="9.1" fill="#231f20" text-anchor="end" transform="rotate(-90 386.15 300.60)">Myeloid</text>
<line x1="391.60" y1="220.60" x2="391.60" y2="297.00" stroke="#3a3535" stroke-width="0.9"/>
<line x1="302.10" y1="297.00" x2="391.60" y2="297.00" stroke="#3a3535" stroke-width="0.9"/>
<text x="395.60" y="225.90" font-size="8.8" fill="#231f20" text-anchor="start">120</text>
<text x="395.60" y="249.90" font-size="8.8" fill="#231f20" text-anchor="start">80</text>
<text x="395.60" y="273.90" font-size="8.8" fill="#231f20" text-anchor="start">40</text>
<text x="395.60" y="298.00" font-size="8.8" fill="#231f20" text-anchor="start">0</text>
<rect x="21.50" y="334.30" width="274.00" height="604.20" fill="white"/>
<rect x="23.00" y="335.40" width="271.75" height="602.10" fill="#e3e7eb"/>
<rect x="23.00" y="340.53" width="271.75" height="0.90" fill="white"/>
<rect x="23.00" y="346.56" width="271.75" height="0.90" fill="white"/>
<rect x="23.00" y="352.59" width="271.75" height="0.90" fill="white"/>
<rect x="23.00" y="358.62" width="271.75" height="0.90" fill="white"/>
<rect x="23.00" y="364.65" width="271.75" height="0.90" fill="white"/>
<rect x="23.00" y="370.68" width="271.75" height="0.90" fill="white"/>
<rect x="23.00" y="376.71" width="271.75" height="0.90" fill="white"/>
<rect x="23.00" y="382.74" width="271.75" height="0.90" fill="white"/>
<rect x="23.00" y="388.77" width="271.75" height="0.90" fill="white"/>
<rect x="23.00" y="394.80" width="271.75" height="0.90" fill="white"/>
<rect x="23.00" y="400.83" width="271.75" height="0.90" fill="white"/>
<rect x="23.00" y="406.86" width="271.75" height="0.90" fill="white"/>
<rect x="23.00" y="412.89" width="271.75" height="0.90" fill="white"/>
<rect x="23.00" y="418.92" width="271.75" height="0.90" fill="white"/>
<rect x="23.00" y="424.95" width="271.75" height="0.90" fill="white"/>
<rect x="23.00" y="430.98" width="271.75" height="0.90" fill="white"/>
<rect x="23.00" y="437.01" width="271.75" height="0.90" fill="white"/>
<rect x="23.00" y="443.04" width="271.75" height="0.90" fill="white"/>
<rect x="23.00" y="449.07" width="271.75" height="0.90" fill="white"/>
<rect x="23.00" y="455.10" width="271.75" height="0.90" fill="white"/>
<rect x="23.00" y="461.13" width="271.75" height="0.90" fill="white"/>
<rect x="23.00" y="467.16" width="271.75" height="0.90" fill="white"/>
<rect x="23.00" y="473.19" width="271.75" height="0.90" fill="white"/>
<rect x="23.00" y="479.22" width="271.75" height="0.90" fill="white"/>
<rect x="23.00" y="485.25" width="271.75" height="0.90" fill="white"/>
<rect x="23.00" y="491.28" width="271.75" height="0.90" fill="white"/>
<rect x="23.00" y="497.31" width="271.75" height="0.90" fill="white"/>
<rect x="23.00" y="503.34" width="271.75" height="0.90" fill="white"/>
<rect x="23.00" y="509.37" width="271.75" height="0.90" fill="white"/>
<rect x="23.00" y="515.40" width="271.75" height="0.90" fill="white"/>
<rect x="23.00" y="521.43" width="271.75" height="0.90" fill="white"/>
<rect x="23.00" y="527.46" width="271.75" height="0.90" fill="white"/>
<rect x="23.00" y="533.49" width="271.75" height="0.90" fill="white"/>
<rect x="23.00" y="539.52" width="271.75" height="0.90" fill="white"/>
<rect x="23.00" y="545.55" width="271.75" height="0.90" fill="white"/>
<rect x="23.00" y="551.58" width="271.75" height="0.90" fill="white"/>
<rect x="23.00" y="557.61" width="271.75" height="0.90" fill="white"/>
<rect x="23.00" y="563.64" width="271.75" height="0.90" fill="white"/>
<rect x="23.00" y="569.67" width="271.75" height="0.90" fill="white"/>
<rect x="23.00" y="575.70" width="271.75" height="0.90" fill="white"/>
<rect x="23.00" y="581.73" width="271.75" height="0.90" fill="white"/>
<rect x="23.00" y="587.76" width="271.75" height="0.90" fill="white"/>
<rect x="23.00" y="593.79" width="271.75" height="0.90" fill="white"/>
<rect x="23.00" y="599.82" width="271.75" height="0.90" fill="white"/>
<rect x="23.00" y="605.85" width="271.75" height="0.90" fill="white"/>
<rect x="23.00" y="611.88" width="271.75" height="0.90" fill="white"/>
<rect x="23.00" y="617.91" width="271.75" height="0.90" fill="white"/>
<rect x="23.00" y="623.94" width="271.75" height="0.90" fill="white"/>
<rect x="23.00" y="629.97" width="271.75" height="0.90" fill="white"/>
<rect x="23.00" y="636.00" width="271.75" height="0.90" fill="white"/>
<rect x="23.00" y="642.03" width="271.75" height="0.90" fill="white"/>
<rect x="23.00" y="648.06" width="271.75" height="0.90" fill="white"/>
<rect x="23.00" y="654.09" width="271.75" height="0.90" fill="white"/>
<rect x="23.00" y="660.12" width="271.75" height="0.90" fill="white"/>
<rect x="23.00" y="666.15" width="271.75" height="0.90" fill="white"/>
<rect x="23.00" y="672.18" width="271.75" height="0.90" fill="white"/>
<rect x="23.00" y="678.21" width="271.75" height="0.90" fill="white"/>
<rect x="23.00" y="684.24" width="271.75" height="0.90" fill="white"/>
<rect x="23.00" y="690.27" width="271.75" height="0.90" fill="white"/>
<rect x="23.00" y="696.30" width="271.75" height="0.90" fill="white"/>
<rect x="23.00" y="702.33" width="271.75" height="0.90" fill="white"/>
<rect x="23.00" y="708.36" width="271.75" height="0.90" fill="white"/>
<rect x="23.00" y="714.39" width="271.75" height="0.90" fill="white"/>
<rect x="23.00" y="720.42" width="271.75" height="0.90" fill="white"/>
<rect x="23.00" y="726.45" width="271.75" height="0.90" fill="white"/>
<rect x="23.00" y="732.48" width="271.75" height="0.90" fill="white"/>
<rect x="23.00" y="738.51" width="271.75" height="0.90" fill="white"/>
<rect x="23.00" y="744.54" width="271.75" height="0.90" fill="white"/>
<rect x="23.00" y="750.57" width="271.75" height="0.90" fill="white"/>
<rect x="23.00" y="756.60" width="271.75" height="0.90" fill="white"/>
<rect x="23.00" y="762.63" width="271.75" height="0.90" fill="white"/>
<rect x="23.00" y="768.66" width="271.75" height="0.90" fill="white"/>
<rect x="23.00" y="774.69" width="271.75" height="0.90" fill="white"/>
<rect x="23.00" y="780.72" width="271.75" height="0.90" fill="white"/>
<rect x="23.00" y="786.75" width="271.75" height="0.90" fill="white"/>
<rect x="23.00" y="792.78" width="271.75" height="0.90" fill="white"/>
<rect x="23.00" y="798.81" width="271.75" height="0.90" fill="white"/>
<rect x="23.00" y="804.84" width="271.75" height="0.90" fill="white"/>
<rect x="23.00" y="810.87" width="271.75" height="0.90" fill="white"/>
<rect x="23.00" y="816.90" width="271.75" height="0.90" fill="white"/>
<rect x="23.00" y="822.93" width="271.75" height="0.90" fill="white"/>
<rect x="23.00" y="828.96" width="271.75" height="0.90" fill="white"/>
<rect x="23.00" y="834.99" width="271.75" height="0.90" fill="white"/>
<rect x="23.00" y="841.02" width="271.75" height="0.90" fill="white"/>
<rect x="23.00" y="847.05" width="271.75" height="0.90" fill="white"/>
<rect x="23.00" y="853.08" width="271.75" height="0.90" fill="white"/>
<rect x="23.00" y="859.11" width="271.75" height="0.90" fill="white"/>
<rect x="23.00" y="865.14" width="271.75" height="0.90" fill="white"/>
<rect x="23.00" y="871.17" width="271.75" height="0.90" fill="white"/>
<rect x="23.00" y="877.20" width="271.75" height="0.90" fill="white"/>
<rect x="23.00" y="883.23" width="271.75" height="0.90" fill="white"/>
<rect x="23.00" y="889.26" width="271.75" height="0.90" fill="white"/>
<rect x="23.00" y="895.29" width="271.75" height="0.90" fill="white"/>
<rect x="23.00" y="901.32" width="271.75" height="0.90" fill="white"/>
<rect x="23.00" y="907.35" width="271.75" height="0.90" fill="white"/>
<rect x="23.00" y="913.38" width="271.75" height="0.90" fill="white"/>
<rect x="23.00" y="919.41" width="271.75" height="0.90" fill="white"/>
<rect x="23.00" y="925.44" width="271.75" height="0.90" fill="white"/>
<rect x="23.00" y="931.47" width="271.75" height="0.90" fill="white"/>
<rect x="39.15" y="335.40" width="0.89" height="602.10" fill="white"/>
<rect x="56.19" y="335.40" width="0.89" height="602.10" fill="white"/>
<rect x="73.23" y="335.40" width="0.89" height="602.10" fill="white"/>
<rect x="90.27" y="335.40" width="0.89" height="602.10" fill="white"/>
<rect x="107.31" y="335.40" width="0.89" height="602.10" fill="white"/>
<rect x="124.35" y="335.40" width="0.89" height="602.10" fill="white"/>
<rect x="141.39" y="335.40" width="0.89" height="602.10" fill="white"/>
<rect x="158.43" y="335.40" width="0.89" height="602.10" fill="white"/>
<rect x="175.47" y="335.40" width="0.89" height="602.10" fill="white"/>
<rect x="192.51" y="335.40" width="0.89" height="602.10" fill="white"/>
<rect x="209.55" y="335.40" width="0.89" height="602.10" fill="white"/>
<rect x="226.59" y="335.40" width="0.89" height="602.10" fill="white"/>
<rect x="243.63" y="335.40" width="0.89" height="602.10" fill="white"/>
<rect x="260.67" y="335.40" width="0.89" height="602.10" fill="white"/>
<rect x="277.71" y="335.40" width="0.89" height="602.10" fill="white"/>
<rect x="23.00" y="335.40" width="16.15" height="5.13" fill="#30619b"/>
<rect x="40.04" y="335.40" width="16.15" height="5.13" fill="#30619b"/>
<rect x="23.00" y="341.43" width="16.15" height="5.13" fill="#30619b"/>
<rect x="40.04" y="341.43" width="16.15" height="5.13" fill="#5682b0"/>
<rect x="261.56" y="341.43" width="16.15" height="5.13" fill="#c0cfdf"/>
<rect x="23.00" y="347.46" width="16.15" height="5.13" fill="#7b9cc0"/>
<rect x="57.08" y="347.46" width="16.15" height="5.13" fill="#9cb3cd"/>
<rect x="74.12" y="347.46" width="16.15" height="5.13" fill="#9cb3cd"/>
<rect x="176.36" y="347.46" width="16.15" height="5.13" fill="#7b9cc0"/>
<rect x="23.00" y="353.49" width="16.15" height="5.13" fill="#30619b"/>
<rect x="40.04" y="353.49" width="16.15" height="5.13" fill="#30619b"/>
<rect x="23.00" y="359.52" width="16.15" height="5.13" fill="#5682b0"/>
<rect x="40.04" y="359.52" width="16.15" height="5.13" fill="#30619b"/>
<rect x="40.04" y="365.55" width="16.15" height="5.13" fill="#c0cfdf"/>
<rect x="57.08" y="365.55" width="16.15" height="5.13" fill="#7b9cc0"/>
<rect x="74.12" y="365.55" width="16.15" height="5.13" fill="#9cb3cd"/>
<rect x="23.00" y="371.58" width="16.15" height="5.13" fill="#5682b0"/>
<rect x="40.04" y="371.58" width="16.15" height="5.13" fill="#9cb3cd"/>
<rect x="57.08" y="377.61" width="16.15" height="5.13" fill="#5682b0"/>
<rect x="74.12" y="377.61" width="16.15" height="5.13" fill="#9cb3cd"/>
<rect x="125.24" y="383.64" width="16.15" height="5.13" fill="#c0cfdf"/>
<rect x="159.32" y="383.64" width="16.15" height="5.13" fill="#c0cfdf"/>
<rect x="244.52" y="383.64" width="16.15" height="5.13" fill="#7b9cc0"/>
<rect x="23.00" y="389.67" width="16.15" height="5.13" fill="#7b9cc0"/>
<rect x="40.04" y="389.67" width="16.15" height="5.13" fill="#9cb3cd"/>
<rect x="57.08" y="395.70" width="16.15" height="5.13" fill="#c0cfdf"/>
<rect x="74.12" y="395.70" width="16.15" height="5.13" fill="#c0cfdf"/>
<rect x="108.20" y="395.70" width="16.15" height="5.13" fill="#c0cfdf"/>
<rect x="193.40" y="395.70" width="16.15" height="5.13" fill="#c0cfdf"/>
<rect x="210.44" y="395.70" width="16.15" height="5.13" fill="#c0cfdf"/>
<rect x="57.08" y="401.73" width="16.15" height="5.13" fill="#9cb3cd"/>
<rect x="91.16" y="401.73" width="16.15" height="5.13" fill="#9cb3cd"/>
<rect x="193.40" y="401.73" width="16.15" height="5.13" fill="#c0cfdf"/>
<rect x="23.00" y="407.76" width="16.15" height="5.13" fill="#9cb3cd"/>
<rect x="40.04" y="407.76" width="16.15" height="5.13" fill="#c0cfdf"/>
<rect x="125.24" y="407.76" width="16.15" height="5.13" fill="#9cb3cd"/>
<rect x="23.00" y="413.79" width="16.15" height="5.13" fill="#7b9cc0"/>
<rect x="40.04" y="413.79" width="16.15" height="5.13" fill="#9cb3cd"/>
<rect x="91.16" y="419.82" width="16.15" height="5.13" fill="#5682b0"/>
<rect x="108.20" y="425.85" width="16.15" height="5.13" fill="#c0cfdf"/>
<rect x="193.40" y="425.85" width="16.15" height="5.13" fill="#c0cfdf"/>
<rect x="210.44" y="425.85" width="16.15" height="5.13" fill="#c0cfdf"/>
<rect x="227.48" y="425.85" width="16.15" height="5.13" fill="#c0cfdf"/>
<rect x="108.20" y="431.88" width="16.15" height="5.13" fill="#c0cfdf"/>
<rect x="193.40" y="431.88" width="16.15" height="5.13" fill="#c0cfdf"/>
<rect x="210.44" y="431.88" width="16.15" height="5.13" fill="#c0cfdf"/>
<rect x="227.48" y="431.88" width="16.15" height="5.13" fill="#c0cfdf"/>
<rect x="108.20" y="437.91" width="16.15" height="5.13" fill="#c0cfdf"/>
<rect x="193.40" y="437.91" width="16.15" height="5.13" fill="#c0cfdf"/>
<rect x="210.44" y="437.91" width="16.15" height="5.13" fill="#c0cfdf"/>
<rect x="227.48" y="437.91" width="16.15" height="5.13" fill="#c0cfdf"/>
<rect x="159.32" y="443.94" width="16.15" height="5.13" fill="#5682b0"/>
<rect x="91.16" y="449.97" width="16.15" height="5.13" fill="#5682b0"/>
<rect x="91.16" y="456.00" width="16.15" height="5.13" fill="#5682b0"/>
<rect x="57.08" y="462.03" width="16.15" height="5.13" fill="#c0cfdf"/>
<rect x="74.12" y="462.03" width="16.15" height="5.13" fill="#c0cfdf"/>
<rect x="193.40" y="462.03" width="16.15" height="5.13" fill="#c0cfdf"/>
<rect x="210.44" y="462.03" width="16.15" height="5.13" fill="#c0cfdf"/>
<rect x="40.04" y="468.06" width="16.15" height="5.13" fill="#c0cfdf"/>
<rect x="125.24" y="468.06" width="16.15" height="5.13" fill="#c0cfdf"/>
<rect x="142.28" y="468.06" width="16.15" height="5.13" fill="#9cb3cd"/>
<rect x="23.00" y="474.09" width="16.15" height="5.13" fill="#c0cfdf"/>
<rect x="142.28" y="474.09" width="16.15" height="5.13" fill="#c0cfdf"/>
<rect x="176.36" y="474.09" width="16.15" height="5.13" fill="#c0cfdf"/>
<rect x="210.44" y="474.09" width="16.15" height="5.13" fill="#c0cfdf"/>
<rect x="57.08" y="480.12" width="16.15" height="5.13" fill="#c0cfdf"/>
<rect x="74.12" y="480.12" width="16.15" height="5.13" fill="#c0cfdf"/>
<rect x="193.40" y="480.12" width="16.15" height="5.13" fill="#c0cfdf"/>
<rect x="210.44" y="480.12" width="16.15" height="5.13" fill="#c0cfdf"/>
<rect x="40.04" y="486.15" width="16.15" height="5.13" fill="#c0cfdf"/>
<rect x="125.24" y="486.15" width="16.15" height="5.13" fill="#c0cfdf"/>
<rect x="261.56" y="486.15" width="16.15" height="5.13" fill="#c0cfdf"/>
<rect x="278.60" y="486.15" width="16.15" height="5.13" fill="#c0cfdf"/>
<rect x="23.00" y="492.18" width="16.15" height="5.13" fill="#c0cfdf"/>
<rect x="40.04" y="492.18" width="16.15" height="5.13" fill="#c0cfdf"/>
<rect x="108.20" y="492.18" width="16.15" height="5.13" fill="#c0cfdf"/>
<rect x="57.08" y="498.21" width="16.15" height="5.13" fill="#7b9cc0"/>
<rect x="57.08" y="504.24" width="16.15" height="5.13" fill="#c0cfdf"/>
<rect x="125.24" y="504.24" width="16.15" height="5.13" fill="#9cb3cd"/>
<rect x="159.32" y="510.27" width="16.15" height="5.13" fill="#c0cfdf"/>
<rect x="193.40" y="510.27" width="16.15" height="5.13" fill="#c0cfdf"/>
<rect x="261.56" y="510.27" width="16.15" height="5.13" fill="#c0cfdf"/>
<rect x="91.16" y="516.30" width="16.15" height="5.13" fill="#7b9cc0"/>
<rect x="74.12" y="522.33" width="16.15" height="5.13" fill="#c0cfdf"/>
<rect x="108.20" y="522.33" width="16.15" height="5.13" fill="#c0cfdf"/>
<rect x="142.28" y="522.33" width="16.15" height="5.13" fill="#c0cfdf"/>
<rect x="74.12" y="528.36" width="16.15" height="5.13" fill="#c0cfdf"/>
<rect x="108.20" y="528.36" width="16.15" height="5.13" fill="#c0cfdf"/>
<rect x="142.28" y="528.36" width="16.15" height="5.13" fill="#c0cfdf"/>
<rect x="159.32" y="534.39" width="16.15" height="5.13" fill="#9cb3cd"/>
<rect x="244.52" y="534.39" width="16.15" height="5.13" fill="#c0cfdf"/>
<rect x="74.12" y="540.42" width="16.15" height="5.13" fill="#5682b0"/>
<rect x="57.08" y="546.45" width="16.15" height="5.13" fill="#c0cfdf"/>
<rect x="108.20" y="546.45" width="16.15" height="5.13" fill="#c0cfdf"/>
<rect x="210.44" y="546.45" width="16.15" height="5.13" fill="#c0cfdf"/>
<rect x="40.04" y="552.48" width="16.15" height="5.13" fill="#c0cfdf"/>
<rect x="125.24" y="552.48" width="16.15" height="5.13" fill="#c0cfdf"/>
<rect x="142.28" y="552.48" width="16.15" height="5.13" fill="#c0cfdf"/>
<rect x="74.12" y="558.51" width="16.15" height="5.13" fill="#9cb3cd"/>
<rect x="227.48" y="558.51" width="16.15" height="5.13" fill="#c0cfdf"/>
<rect x="40.04" y="564.54" width="16.15" height="5.13" fill="#c0cfdf"/>
<rect x="108.20" y="564.54" width="16.15" height="5.13" fill="#c0cfdf"/>
<rect x="40.04" y="570.57" width="16.15" height="5.13" fill="#c0cfdf"/>
<rect x="125.24" y="570.57" width="16.15" height="5.13" fill="#c0cfdf"/>
<rect x="142.28" y="576.60" width="16.15" height="5.13" fill="#c0cfdf"/>
<rect x="159.32" y="576.60" width="16.15" height="5.13" fill="#c0cfdf"/>
<rect x="108.20" y="582.63" width="16.15" height="5.13" fill="#9cb3cd"/>
<rect x="40.04" y="588.66" width="16.15" height="5.13" fill="#c0cfdf"/>
<rect x="176.36" y="588.66" width="16.15" height="5.13" fill="#c0cfdf"/>
<rect x="57.08" y="594.69" width="16.15" height="5.13" fill="#c0cfdf"/>
<rect x="108.20" y="594.69" width="16.15" height="5.13" fill="#c0cfdf"/>
<rect x="40.04" y="600.72" width="16.15" height="5.13" fill="#9cb3cd"/>
<rect x="57.08" y="606.75" width="16.15" height="5.13" fill="#9cb3cd"/>
<rect x="57.08" y="612.78" width="16.15" height="5.13" fill="#9cb3cd"/>
<rect x="40.04" y="618.81" width="16.15" height="5.13" fill="#c0cfdf"/>
<rect x="125.24" y="618.81" width="16.15" height="5.13" fill="#c0cfdf"/>
<rect x="23.00" y="624.84" width="16.15" height="5.13" fill="#c0cfdf"/>
<rect x="40.04" y="624.84" width="16.15" height="5.13" fill="#c0cfdf"/>
<rect x="74.12" y="630.87" width="16.15" height="5.13" fill="#c0cfdf"/>
<rect x="142.28" y="630.87" width="16.15" height="5.13" fill="#c0cfdf"/>
<rect x="23.00" y="636.90" width="16.15" height="5.13" fill="#9cb3cd"/>
<rect x="40.04" y="642.93" width="16.15" height="5.13" fill="#9cb3cd"/>
<rect x="23.00" y="648.96" width="16.15" height="5.13" fill="#9cb3cd"/>
<rect x="142.28" y="654.99" width="16.15" height="5.13" fill="#c0cfdf"/>
<rect x="227.48" y="654.99" width="16.15" height="5.13" fill="#c0cfdf"/>
<rect x="23.00" y="661.02" width="16.15" height="5.13" fill="#c0cfdf"/>
<rect x="193.40" y="661.02" width="16.15" height="5.13" fill="#c0cfdf"/>
<rect x="91.16" y="667.05" width="16.15" height="5.13" fill="#9cb3cd"/>
<rect x="91.16" y="673.08" width="16.15" height="5.13" fill="#9cb3cd"/>
<rect x="57.08" y="679.11" width="16.15" height="5.13" fill="#c0cfdf"/>
<rect x="74.12" y="679.11" width="16.15" height="5.13" fill="#c0cfdf"/>
<rect x="23.00" y="685.14" width="16.15" height="5.13" fill="#c0cfdf"/>
<rect x="57.08" y="691.17" width="16.15" height="5.13" fill="#c0cfdf"/>
<rect x="23.00" y="697.20" width="16.15" height="5.13" fill="#c0cfdf"/>
<rect x="159.32" y="703.23" width="16.15" height="5.13" fill="#c0cfdf"/>
<rect x="40.04" y="709.26" width="16.15" height="5.13" fill="#c0cfdf"/>
<rect x="74.12" y="715.29" width="16.15" height="5.13" fill="#c0cfdf"/>
<rect x="108.20" y="721.32" width="16.15" height="5.13" fill="#c0cfdf"/>
<rect x="23.00" y="727.35" width="16.15" height="5.13" fill="#c0cfdf"/>
<rect x="23.00" y="733.38" width="16.15" height="5.13" fill="#c0cfdf"/>
<rect x="40.04" y="739.41" width="16.15" height="5.13" fill="#c0cfdf"/>
<rect x="159.32" y="745.44" width="16.15" height="5.13" fill="#c0cfdf"/>
<rect x="57.08" y="751.47" width="16.15" height="5.13" fill="#c0cfdf"/>
<rect x="108.20" y="757.50" width="16.15" height="5.13" fill="#c0cfdf"/>
<rect x="57.08" y="763.53" width="16.15" height="5.13" fill="#c0cfdf"/>
<rect x="125.24" y="769.56" width="16.15" height="5.13" fill="#c0cfdf"/>
<rect x="108.20" y="775.59" width="16.15" height="5.13" fill="#c0cfdf"/>
<rect x="23.00" y="781.62" width="16.15" height="5.13" fill="#c0cfdf"/>
<rect x="74.12" y="787.65" width="16.15" height="5.13" fill="#c0cfdf"/>
<rect x="176.36" y="793.68" width="16.15" height="5.13" fill="#c0cfdf"/>
<rect x="23.00" y="799.71" width="16.15" height="5.13" fill="#c0cfdf"/>
<rect x="74.12" y="805.74" width="16.15" height="5.13" fill="#c0cfdf"/>
<rect x="108.20" y="811.77" width="16.15" height="5.13" fill="#c0cfdf"/>
<rect x="74.12" y="817.80" width="16.15" height="5.13" fill="#c0cfdf"/>
<rect x="74.12" y="823.83" width="16.15" height="5.13" fill="#c0cfdf"/>
<rect x="142.28" y="829.86" width="16.15" height="5.13" fill="#c0cfdf"/>
<rect x="23.00" y="835.89" width="16.15" height="5.13" fill="#c0cfdf"/>
<rect x="176.36" y="841.92" width="16.15" height="5.13" fill="#c0cfdf"/>
<rect x="57.08" y="847.95" width="16.15" height="5.13" fill="#c0cfdf"/>
<rect x="108.20" y="853.98" width="16.15" height="5.13" fill="#c0cfdf"/>
<rect x="176.36" y="860.01" width="16.15" height="5.13" fill="#c0cfdf"/>
<rect x="57.08" y="866.04" width="16.15" height="5.13" fill="#c0cfdf"/>
<rect x="176.36" y="872.07" width="16.15" height="5.13" fill="#c0cfdf"/>
<rect x="176.36" y="878.10" width="16.15" height="5.13" fill="#c0cfdf"/>
<rect x="210.44" y="884.13" width="16.15" height="5.13" fill="#c0cfdf"/>
<rect x="142.28" y="890.16" width="16.15" height="5.13" fill="#c0cfdf"/>
<rect x="74.12" y="896.19" width="16.15" height="5.13" fill="#c0cfdf"/>
<rect x="23.00" y="902.22" width="16.15" height="5.13" fill="#c0cfdf"/>
<rect x="108.20" y="908.25" width="16.15" height="5.13" fill="#c0cfdf"/>
<rect x="40.04" y="914.28" width="16.15" height="5.13" fill="#c0cfdf"/>
<rect x="142.28" y="920.31" width="16.15" height="5.13" fill="#c0cfdf"/>
<rect x="57.08" y="926.34" width="16.15" height="5.13" fill="#c0cfdf"/>
<rect x="125.24" y="932.37" width="16.15" height="5.13" fill="#c0cfdf"/>
<rect x="21.50" y="334.30" width="274.00" height="604.20" fill="none" stroke="#3f3636" stroke-width="1.05"/>
<rect x="303.90" y="334.30" width="91.50" height="605.00" fill="white"/>
<rect x="305.00" y="335.20" width="89.15" height="603.10" fill="#f6faef"/>
<rect x="305.00" y="340.34" width="89.15" height="0.90" fill="white"/>
<rect x="305.00" y="346.38" width="89.15" height="0.90" fill="white"/>
<rect x="305.00" y="352.42" width="89.15" height="0.90" fill="white"/>
<rect x="305.00" y="358.46" width="89.15" height="0.90" fill="white"/>
<rect x="305.00" y="364.50" width="89.15" height="0.90" fill="white"/>
<rect x="305.00" y="370.54" width="89.15" height="0.90" fill="white"/>
<rect x="305.00" y="376.58" width="89.15" height="0.90" fill="white"/>
<rect x="305.00" y="382.62" width="89.15" height="0.90" fill="white"/>
<rect x="305.00" y="388.66" width="89.15" height="0.90" fill="white"/>
<rect x="305.00" y="394.70" width="89.15" height="0.90" fill="white"/>
<rect x="305.00" y="400.74" width="89.15" height="0.90" fill="white"/>
<rect x="305.00" y="406.78" width="89.15" height="0.90" fill="white"/>
<rect x="305.00" y="412.82" width="89.15" height="0.90" fill="white"/>
<rect x="305.00" y="418.86" width="89.15" height="0.90" fill="white"/>
<rect x="305.00" y="424.90" width="89.15" height="0.90" fill="white"/>
<rect x="305.00" y="430.94" width="89.15" height="0.90" fill="white"/>
<rect x="305.00" y="436.98" width="89.15" height="0.90" fill="white"/>
<rect x="305.00" y="443.02" width="89.15" height="0.90" fill="white"/>
<rect x="305.00" y="449.06" width="89.15" height="0.90" fill="white"/>
<rect x="305.00" y="455.10" width="89.15" height="0.90" fill="white"/>
<rect x="305.00" y="461.14" width="89.15" height="0.90" fill="white"/>
<rect x="305.00" y="467.18" width="89.15" height="0.90" fill="white"/>
<rect x="305.00" y="473.22" width="89.15" height="0.90" fill="white"/>
<rect x="305.00" y="479.26" width="89.15" height="0.90" fill="white"/>
<rect x="305.00" y="485.30" width="89.15" height="0.90" fill="white"/>
<rect x="305.00" y="491.34" width="89.15" height="0.90" fill="white"/>
<rect x="305.00" y="497.38" width="89.15" height="0.90" fill="white"/>
<rect x="305.00" y="503.42" width="89.15" height="0.90" fill="white"/>
<rect x="305.00" y="509.46" width="89.15" height="0.90" fill="white"/>
<rect x="305.00" y="515.50" width="89.15" height="0.90" fill="white"/>
<rect x="305.00" y="521.54" width="89.15" height="0.90" fill="white"/>
<rect x="305.00" y="527.58" width="89.15" height="0.90" fill="white"/>
<rect x="305.00" y="533.62" width="89.15" height="0.90" fill="white"/>
<rect x="305.00" y="539.66" width="89.15" height="0.90" fill="white"/>
<rect x="305.00" y="545.70" width="89.15" height="0.90" fill="white"/>
<rect x="305.00" y="551.74" width="89.15" height="0.90" fill="white"/>
<rect x="305.00" y="557.78" width="89.15" height="0.90" fill="white"/>
<rect x="305.00" y="563.82" width="89.15" height="0.90" fill="white"/>
<rect x="305.00" y="569.86" width="89.15" height="0.90" fill="white"/>
<rect x="305.00" y="575.90" width="89.15" height="0.90" fill="white"/>
<rect x="305.00" y="581.94" width="89.15" height="0.90" fill="white"/>
<rect x="305.00" y="587.98" width="89.15" height="0.90" fill="white"/>
<rect x="305.00" y="594.02" width="89.15" height="0.90" fill="white"/>
<rect x="305.00" y="600.06" width="89.15" height="0.90" fill="white"/>
<rect x="305.00" y="606.10" width="89.15" height="0.90" fill="white"/>
<rect x="305.00" y="612.14" width="89.15" height="0.90" fill="white"/>
<rect x="305.00" y="618.18" width="89.15" height="0.90" fill="white"/>
<rect x="305.00" y="624.22" width="89.15" height="0.90" fill="white"/>
<rect x="305.00" y="630.26" width="89.15" height="0.90" fill="white"/>
<rect x="305.00" y="636.30" width="89.15" height="0.90" fill="white"/>
<rect x="305.00" y="642.34" width="89.15" height="0.90" fill="white"/>
<rect x="305.00" y="648.38" width="89.15" height="0.90" fill="white"/>
<rect x="305.00" y="654.42" width="89.15" height="0.90" fill="white"/>
<rect x="305.00" y="660.46" width="89.15" height="0.90" fill="white"/>
<rect x="305.00" y="666.50" width="89.15" height="0.90" fill="white"/>
<rect x="305.00" y="672.54" width="89.15" height="0.90" fill="white"/>
<rect x="305.00" y="678.58" width="89.15" height="0.90" fill="white"/>
<rect x="305.00" y="684.62" width="89.15" height="0.90" fill="white"/>
<rect x="305.00" y="690.66" width="89.15" height="0.90" fill="white"/>
<rect x="305.00" y="696.70" width="89.15" height="0.90" fill="white"/>
<rect x="305.00" y="702.74" width="89.15" height="0.90" fill="white"/>
<rect x="305.00" y="708.78" width="89.15" height="0.90" fill="white"/>
<rect x="305.00" y="714.82" width="89.15" height="0.90" fill="white"/>
<rect x="305.00" y="720.86" width="89.15" height="0.90" fill="white"/>
<rect x="305.00" y="726.90" width="89.15" height="0.90" fill="white"/>
<rect x="305.00" y="732.94" width="89.15" height="0.90" fill="white"/>
<rect x="305.00" y="738.98" width="89.15" height="0.90" fill="white"/>
<rect x="305.00" y="745.02" width="89.15" height="0.90" fill="white"/>
<rect x="305.00" y="751.06" width="89.15" height="0.90" fill="white"/>
<rect x="305.00" y="757.10" width="89.15" height="0.90" fill="white"/>
<rect x="305.00" y="763.14" width="89.15" height="0.90" fill="white"/>
<rect x="305.00" y="769.18" width="89.15" height="0.90" fill="white"/>
<rect x="305.00" y="775.22" width="89.15" height="0.90" fill="white"/>
<rect x="305.00" y="781.26" width="89.15" height="0.90" fill="white"/>
<rect x="305.00" y="787.30" width="89.15" height="0.90" fill="white"/>
<rect x="305.00" y="793.34" width="89.15" height="0.90" fill="white"/>
<rect x="305.00" y="799.38" width="89.15" height="0.90" fill="white"/>
<rect x="305.00" y="805.42" width="89.15" height="0.90" fill="white"/>
<rect x="305.00" y="811.46" width="89.15" height="0.90" fill="white"/>
<rect x="305.00" y="817.50" width="89.15" height="0.90" fill="white"/>
<rect x="305.00" y="823.54" width="89.15" height="0.90" fill="white"/>
<rect x="305.00" y="829.58" width="89.15" height="0.90" fill="white"/>
<rect x="305.00" y="835.62" width="89.15" height="0.90" fill="white"/>
<rect x="305.00" y="841.66" width="89.15" height="0.90" fill="white"/>
<rect x="305.00" y="847.70" width="89.15" height="0.90" fill="white"/>
<rect x="305.00" y="853.74" width="89.15" height="0.90" fill="white"/>
<rect x="305.00" y="859.78" width="89.15" height="0.90" fill="white"/>
<rect x="305.00" y="865.82" width="89.15" height="0.90" fill="white"/>
<rect x="305.00" y="871.86" width="89.15" height="0.90" fill="white"/>
<rect x="305.00" y="877.90" width="89.15" height="0.90" fill="white"/>
<rect x="305.00" y="883.94" width="89.15" height="0.90" fill="white"/>
<rect x="305.00" y="889.98" width="89.15" height="0.90" fill="white"/>
<rect x="305.00" y="896.02" width="89.15" height="0.90" fill="white"/>
<rect x="305.00" y="902.06" width="89.15" height="0.90" fill="white"/>
<rect x="305.00" y="908.10" width="89.15" height="0.90" fill="white"/>
<rect x="305.00" y="914.14" width="89.15" height="0.90" fill="white"/>
<rect x="305.00" y="920.18" width="89.15" height="0.90" fill="white"/>
<rect x="305.00" y="926.22" width="89.15" height="0.90" fill="white"/>
<rect x="305.00" y="932.26" width="89.15" height="0.90" fill="white"/>
<rect x="322.15" y="335.20" width="0.85" height="603.10" fill="white"/>
<rect x="340.15" y="335.20" width="0.85" height="603.10" fill="white"/>
<rect x="358.15" y="335.20" width="0.85" height="603.10" fill="white"/>
<rect x="376.15" y="335.20" width="0.85" height="603.10" fill="white"/>
<rect x="305.00" y="335.20" width="17.15" height="5.14" fill="#98d1b1"/>
<rect x="323.00" y="335.20" width="17.15" height="5.14" fill="#98d1b1"/>
<rect x="341.00" y="335.20" width="17.15" height="5.14" fill="#98d1b1"/>
<rect x="359.00" y="335.20" width="17.15" height="5.14" fill="#98d1b1"/>
<rect x="377.00" y="335.20" width="17.15" height="5.14" fill="#98d1b1"/>
<rect x="305.00" y="341.24" width="17.15" height="5.14" fill="#d1e9cb"/>
<rect x="323.00" y="341.24" width="17.15" height="5.14" fill="#98d1b1"/>
<rect x="341.00" y="341.24" width="17.15" height="5.14" fill="#98d1b1"/>
<rect x="359.00" y="341.24" width="17.15" height="5.14" fill="#98d1b1"/>
<rect x="377.00" y="341.24" width="17.15" height="5.14" fill="#53abc9"/>
<rect x="305.00" y="347.28" width="17.15" height="5.14" fill="#53abc9"/>
<rect x="323.00" y="347.28" width="17.15" height="5.14" fill="#1f6fab"/>
<rect x="341.00" y="347.28" width="17.15" height="5.14" fill="#53abc9"/>
<rect x="305.00" y="353.32" width="17.15" height="5.14" fill="#98d1b1"/>
<rect x="323.00" y="353.32" width="17.15" height="5.14" fill="#98d1b1"/>
<rect x="341.00" y="353.32" width="17.15" height="5.14" fill="#98d1b1"/>
<rect x="359.00" y="353.32" width="17.15" height="5.14" fill="#98d1b1"/>
<rect x="377.00" y="353.32" width="17.15" height="5.14" fill="#98d1b1"/>
<rect x="305.00" y="359.36" width="17.15" height="5.14" fill="#98d1b1"/>
<rect x="323.00" y="359.36" width="17.15" height="5.14" fill="#98d1b1"/>
<rect x="341.00" y="359.36" width="17.15" height="5.14" fill="#98d1b1"/>
<rect x="359.00" y="359.36" width="17.15" height="5.14" fill="#98d1b1"/>
<rect x="377.00" y="359.36" width="17.15" height="5.14" fill="#d1e9cb"/>
<rect x="323.00" y="365.40" width="17.15" height="5.14" fill="#53abc9"/>
<rect x="341.00" y="365.40" width="17.15" height="5.14" fill="#d1e9cb"/>
<rect x="359.00" y="365.40" width="17.15" height="5.14" fill="#98d1b1"/>
<rect x="305.00" y="371.44" width="17.15" height="5.14" fill="#d1e9cb"/>
<rect x="323.00" y="371.44" width="17.15" height="5.14" fill="#98d1b1"/>
<rect x="341.00" y="371.44" width="17.15" height="5.14" fill="#98d1b1"/>
<rect x="359.00" y="371.44" width="17.15" height="5.14" fill="#d1e9cb"/>
<rect x="305.00" y="377.48" width="17.15" height="5.14" fill="#98d1b1"/>
<rect x="323.00" y="377.48" width="17.15" height="5.14" fill="#d1e9cb"/>
<rect x="341.00" y="377.48" width="17.15" height="5.14" fill="#d1e9cb"/>
<rect x="359.00" y="377.48" width="17.15" height="5.14" fill="#98d1b1"/>
<rect x="323.00" y="383.52" width="17.15" height="5.14" fill="#d1e9cb"/>
<rect x="341.00" y="383.52" width="17.15" height="5.14" fill="#d1e9cb"/>
<rect x="359.00" y="383.52" width="17.15" height="5.14" fill="#98d1b1"/>
<rect x="377.00" y="383.52" width="17.15" height="5.14" fill="#d1e9cb"/>
<rect x="305.00" y="389.56" width="17.15" height="5.14" fill="#98d1b1"/>
<rect x="323.00" y="389.56" width="17.15" height="5.14" fill="#98d1b1"/>
<rect x="341.00" y="389.56" width="17.15" height="5.14" fill="#d1e9cb"/>
<rect x="305.00" y="395.60" width="17.15" height="5.14" fill="#0a3b7f"/>
<rect x="359.00" y="401.64" width="17.15" height="5.14" fill="#98d1b1"/>
<rect x="377.00" y="401.64" width="17.15" height="5.14" fill="#53abc9"/>
<rect x="305.00" y="407.68" width="17.15" height="5.14" fill="#53abc9"/>
<rect x="323.00" y="407.68" width="17.15" height="5.14" fill="#98d1b1"/>
<rect x="305.00" y="413.72" width="17.15" height="5.14" fill="#98d1b1"/>
<rect x="323.00" y="413.72" width="17.15" height="5.14" fill="#98d1b1"/>
<rect x="341.00" y="413.72" width="17.15" height="5.14" fill="#d1e9cb"/>
<rect x="305.00" y="419.76" width="17.15" height="5.14" fill="#d1e9cb"/>
<rect x="323.00" y="419.76" width="17.15" height="5.14" fill="#d1e9cb"/>
<rect x="341.00" y="419.76" width="17.15" height="5.14" fill="#d1e9cb"/>
<rect x="359.00" y="419.76" width="17.15" height="5.14" fill="#d1e9cb"/>
<rect x="305.00" y="425.80" width="17.15" height="5.14" fill="#1f6fab"/>
<rect x="305.00" y="431.84" width="17.15" height="5.14" fill="#1f6fab"/>
<rect x="305.00" y="437.88" width="17.15" height="5.14" fill="#1f6fab"/>
<rect x="305.00" y="443.92" width="17.15" height="5.14" fill="#d1e9cb"/>
<rect x="323.00" y="443.92" width="17.15" height="5.14" fill="#d1e9cb"/>
<rect x="341.00" y="443.92" width="17.15" height="5.14" fill="#d1e9cb"/>
<rect x="359.00" y="443.92" width="17.15" height="5.14" fill="#d1e9cb"/>
<rect x="305.00" y="449.96" width="17.15" height="5.14" fill="#d1e9cb"/>
<rect x="323.00" y="449.96" width="17.15" height="5.14" fill="#d1e9cb"/>
<rect x="341.00" y="449.96" width="17.15" height="5.14" fill="#d1e9cb"/>
<rect x="359.00" y="449.96" width="17.15" height="5.14" fill="#d1e9cb"/>
<rect x="305.00" y="456.00" width="17.15" height="5.14" fill="#d1e9cb"/>
<rect x="323.00" y="456.00" width="17.15" height="5.14" fill="#d1e9cb"/>
<rect x="341.00" y="456.00" width="17.15" height="5.14" fill="#d1e9cb"/>
<rect x="359.00" y="456.00" width="17.15" height="5.14" fill="#d1e9cb"/>
<rect x="305.00" y="462.04" width="17.15" height="5.14" fill="#98d1b1"/>
<rect x="359.00" y="462.04" width="17.15" height="5.14" fill="#98d1b1"/>
<rect x="305.00" y="468.08" width="17.15" height="5.14" fill="#98d1b1"/>
<rect x="359.00" y="468.08" width="17.15" height="5.14" fill="#98d1b1"/>
<rect x="305.00" y="474.12" width="17.15" height="5.14" fill="#1f6fab"/>
<rect x="305.00" y="480.16" width="17.15" height="5.14" fill="#1f6fab"/>
<rect x="305.00" y="486.20" width="17.15" height="5.14" fill="#1f6fab"/>
<rect x="305.00" y="492.24" width="17.15" height="5.14" fill="#53abc9"/>
<rect x="305.00" y="498.28" width="17.15" height="5.14" fill="#d1e9cb"/>
<rect x="323.00" y="498.28" width="17.15" height="5.14" fill="#d1e9cb"/>
<rect x="341.00" y="498.28" width="17.15" height="5.14" fill="#d1e9cb"/>
<rect x="323.00" y="504.32" width="17.15" height="5.14" fill="#d1e9cb"/>
<rect x="341.00" y="504.32" width="17.15" height="5.14" fill="#98d1b1"/>
<rect x="359.00" y="510.36" width="17.15" height="5.14" fill="#53abc9"/>
<rect x="305.00" y="516.40" width="17.15" height="5.14" fill="#d1e9cb"/>
<rect x="323.00" y="516.40" width="17.15" height="5.14" fill="#d1e9cb"/>
<rect x="341.00" y="516.40" width="17.15" height="5.14" fill="#d1e9cb"/>
<rect x="305.00" y="522.44" width="17.15" height="5.14" fill="#53abc9"/>
<rect x="305.00" y="528.48" width="17.15" height="5.14" fill="#53abc9"/>
<rect x="305.00" y="534.52" width="17.15" height="5.14" fill="#d1e9cb"/>
<rect x="323.00" y="534.52" width="17.15" height="5.14" fill="#98d1b1"/>
<rect x="305.00" y="540.56" width="17.15" height="5.14" fill="#d1e9cb"/>
<rect x="323.00" y="540.56" width="17.15" height="5.14" fill="#d1e9cb"/>
<rect x="359.00" y="540.56" width="17.15" height="5.14" fill="#d1e9cb"/>
<rect x="305.00" y="546.60" width="17.15" height="5.14" fill="#53abc9"/>
<rect x="341.00" y="552.64" width="17.15" height="5.14" fill="#53abc9"/>
<rect x="305.00" y="558.68" width="17.15" height="5.14" fill="#d1e9cb"/>
<rect x="377.00" y="558.68" width="17.15" height="5.14" fill="#98d1b1"/>
<rect x="305.00" y="564.72" width="17.15" height="5.14" fill="#d1e9cb"/>
<rect x="341.00" y="564.72" width="17.15" height="5.14" fill="#d1e9cb"/>
<rect x="305.00" y="570.76" width="17.15" height="5.14" fill="#d1e9cb"/>
<rect x="323.00" y="570.76" width="17.15" height="5.14" fill="#d1e9cb"/>
<rect x="359.00" y="576.80" width="17.15" height="5.14" fill="#98d1b1"/>
<rect x="323.00" y="582.84" width="17.15" height="5.14" fill="#d1e9cb"/>
<rect x="377.00" y="582.84" width="17.15" height="5.14" fill="#d1e9cb"/>
<rect x="341.00" y="588.88" width="17.15" height="5.14" fill="#98d1b1"/>
<rect x="323.00" y="594.92" width="17.15" height="5.14" fill="#98d1b1"/>
<rect x="305.00" y="600.96" width="17.15" height="5.14" fill="#d1e9cb"/>
<rect x="323.00" y="600.96" width="17.15" height="5.14" fill="#d1e9cb"/>
<rect x="305.00" y="607.00" width="17.15" height="5.14" fill="#d1e9cb"/>
<rect x="323.00" y="607.00" width="17.15" height="5.14" fill="#d1e9cb"/>
<rect x="305.00" y="613.04" width="17.15" height="5.14" fill="#d1e9cb"/>
<rect x="323.00" y="613.04" width="17.15" height="5.14" fill="#d1e9cb"/>
<rect x="305.00" y="619.08" width="17.15" height="5.14" fill="#98d1b1"/>
<rect x="305.00" y="625.12" width="17.15" height="5.14" fill="#98d1b1"/>
<rect x="305.00" y="631.16" width="17.15" height="5.14" fill="#98d1b1"/>
<rect x="305.00" y="637.20" width="17.15" height="5.14" fill="#d1e9cb"/>
<rect x="323.00" y="637.20" width="17.15" height="5.14" fill="#d1e9cb"/>
<rect x="305.00" y="643.24" width="17.15" height="5.14" fill="#d1e9cb"/>
<rect x="323.00" y="643.24" width="17.15" height="5.14" fill="#d1e9cb"/>
<rect x="305.00" y="649.28" width="17.15" height="5.14" fill="#d1e9cb"/>
<rect x="323.00" y="649.28" width="17.15" height="5.14" fill="#d1e9cb"/>
<rect x="359.00" y="655.32" width="17.15" height="5.14" fill="#98d1b1"/>
<rect x="323.00" y="661.36" width="17.15" height="5.14" fill="#98d1b1"/>
<rect x="305.00" y="667.40" width="17.15" height="5.14" fill="#d1e9cb"/>
<rect x="359.00" y="667.40" width="17.15" height="5.14" fill="#d1e9cb"/>
<rect x="305.00" y="673.44" width="17.15" height="5.14" fill="#d1e9cb"/>
<rect x="359.00" y="673.44" width="17.15" height="5.14" fill="#d1e9cb"/>
<rect x="305.00" y="679.48" width="17.15" height="5.14" fill="#98d1b1"/>
<rect x="305.00" y="685.52" width="17.15" height="5.14" fill="#d1e9cb"/>
<rect x="341.00" y="691.56" width="17.15" height="5.14" fill="#d1e9cb"/>
<rect x="305.00" y="697.60" width="17.15" height="5.14" fill="#d1e9cb"/>
<rect x="359.00" y="703.64" width="17.15" height="5.14" fill="#d1e9cb"/>
<rect x="359.00" y="709.68" width="17.15" height="5.14" fill="#d1e9cb"/>
<rect x="305.00" y="715.72" width="17.15" height="5.14" fill="#d1e9cb"/>
<rect x="359.00" y="721.76" width="17.15" height="5.14" fill="#d1e9cb"/>
<rect x="305.00" y="727.80" width="17.15" height="5.14" fill="#d1e9cb"/>
<rect x="305.00" y="733.84" width="17.15" height="5.14" fill="#d1e9cb"/>
<rect x="305.00" y="739.88" width="17.15" height="5.14" fill="#d1e9cb"/>
<rect x="305.00" y="745.92" width="17.15" height="5.14" fill="#d1e9cb"/>
<rect x="341.00" y="751.96" width="17.15" height="5.14" fill="#d1e9cb"/>
<rect x="359.00" y="758.00" width="17.15" height="5.14" fill="#d1e9cb"/>
<rect x="305.00" y="764.04" width="17.15" height="5.14" fill="#d1e9cb"/>
<rect x="305.00" y="770.08" width="17.15" height="5.14" fill="#d1e9cb"/>
<rect x="305.00" y="776.12" width="17.15" height="5.14" fill="#d1e9cb"/>
<rect x="305.00" y="782.16" width="17.15" height="5.14" fill="#d1e9cb"/>
<rect x="377.00" y="788.20" width="17.15" height="5.14" fill="#d1e9cb"/>
<rect x="305.00" y="794.24" width="17.15" height="5.14" fill="#d1e9cb"/>
<rect x="305.00" y="800.28" width="17.15" height="5.14" fill="#d1e9cb"/>
<rect x="305.00" y="806.32" width="17.15" height="5.14" fill="#d1e9cb"/>
<rect x="305.00" y="812.36" width="17.15" height="5.14" fill="#d1e9cb"/>
<rect x="305.00" y="818.40" width="17.15" height="5.14" fill="#d1e9cb"/>
<rect x="305.00" y="824.44" width="17.15" height="5.14" fill="#d1e9cb"/>
<rect x="305.00" y="830.48" width="17.15" height="5.14" fill="#d1e9cb"/>
<rect x="305.00" y="836.52" width="17.15" height="5.14" fill="#d1e9cb"/>
<rect x="305.00" y="842.56" width="17.15" height="5.14" fill="#d1e9cb"/>
<rect x="305.00" y="848.60" width="17.15" height="5.14" fill="#d1e9cb"/>
<rect x="341.00" y="854.64" width="17.15" height="5.14" fill="#d1e9cb"/>
<rect x="341.00" y="860.68" width="17.15" height="5.14" fill="#d1e9cb"/>
<rect x="341.00" y="866.72" width="17.15" height="5.14" fill="#d1e9cb"/>
<rect x="359.00" y="872.76" width="17.15" height="5.14" fill="#d1e9cb"/>
<rect x="323.00" y="878.80" width="17.15" height="5.14" fill="#d1e9cb"/>
<rect x="305.00" y="884.84" width="17.15" height="5.14" fill="#d1e9cb"/>
<rect x="305.00" y="890.88" width="17.15" height="5.14" fill="#d1e9cb"/>
<rect x="323.00" y="896.92" width="17.15" height="5.14" fill="#d1e9cb"/>
<rect x="305.00" y="902.96" width="17.15" height="5.14" fill="#d1e9cb"/>
<rect x="305.00" y="909.00" width="17.15" height="5.14" fill="#d1e9cb"/>
<rect x="341.00" y="915.04" width="17.15" height="5.14" fill="#d1e9cb"/>
<rect x="323.00" y="921.08" width="17.15" height="5.14" fill="#d1e9cb"/>
<rect x="305.00" y="927.12" width="17.15" height="5.14" fill="#d1e9cb"/>
<rect x="323.00" y="933.16" width="17.15" height="5.14" fill="#d1e9cb"/>
<rect x="303.90" y="334.30" width="91.50" height="605.00" fill="none" stroke="#3f3636" stroke-width="1.2"/>
<rect x="398.30" y="335.00" width="82.00" height="4.80" fill="#bfd7c3"/>
<rect x="398.30" y="341.05" width="82.00" height="4.80" fill="#bfd7c3"/>
<rect x="398.30" y="347.10" width="82.00" height="4.80" fill="#bfd7c3"/>
<rect x="398.30" y="353.15" width="82.00" height="4.80" fill="#bfd7c3"/>
<rect x="398.30" y="359.20" width="73.80" height="4.80" fill="#bfd7c3"/>
<rect x="398.30" y="365.25" width="49.20" height="4.80" fill="#bfd7c3"/>
<rect x="398.30" y="371.30" width="49.20" height="4.80" fill="#bfd7c3"/>
<rect x="398.30" y="377.35" width="49.20" height="4.80" fill="#bfd7c3"/>
<rect x="398.30" y="383.40" width="41.00" height="4.80" fill="#bfd7c3"/>
<rect x="398.30" y="389.45" width="41.00" height="4.80" fill="#bfd7c3"/>
<rect x="398.30" y="395.50" width="41.00" height="4.80" fill="#bfd7c3"/>
<rect x="398.30" y="401.55" width="41.00" height="4.80" fill="#bfd7c3"/>
<rect x="398.30" y="407.60" width="41.00" height="4.80" fill="#bfd7c3"/>
<rect x="398.30" y="413.65" width="41.00" height="4.80" fill="#bfd7c3"/>
<rect x="398.30" y="419.70" width="32.80" height="4.80" fill="#bfd7c3"/>
<rect x="398.30" y="425.75" width="32.80" height="4.80" fill="#bfd7c3"/>
<rect x="398.30" y="431.80" width="32.80" height="4.80" fill="#bfd7c3"/>
<rect x="398.30" y="437.85" width="32.80" height="4.80" fill="#bfd7c3"/>
<rect x="398.30" y="443.90" width="32.80" height="4.80" fill="#bfd7c3"/>
<rect x="398.30" y="449.95" width="32.80" height="4.80" fill="#bfd7c3"/>
<rect x="398.30" y="456.00" width="32.80" height="4.80" fill="#bfd7c3"/>
<rect x="398.30" y="462.05" width="32.80" height="4.80" fill="#bfd7c3"/>
<rect x="398.30" y="468.10" width="32.80" height="4.80" fill="#bfd7c3"/>
<rect x="398.30" y="474.15" width="32.80" height="4.80" fill="#bfd7c3"/>
<rect x="398.30" y="480.20" width="32.80" height="4.80" fill="#bfd7c3"/>
<rect x="398.30" y="486.25" width="32.80" height="4.80" fill="#bfd7c3"/>
<rect x="398.30" y="492.30" width="24.60" height="4.80" fill="#bfd7c3"/>
<rect x="398.30" y="498.35" width="24.60" height="4.80" fill="#bfd7c3"/>
<rect x="398.30" y="504.40" width="24.60" height="4.80" fill="#bfd7c3"/>
<rect x="398.30" y="510.45" width="24.60" height="4.80" fill="#bfd7c3"/>
<rect x="398.30" y="516.50" width="24.60" height="4.80" fill="#bfd7c3"/>
<rect x="398.30" y="522.55" width="24.60" height="4.80" fill="#bfd7c3"/>
<rect x="398.30" y="528.60" width="24.60" height="4.80" fill="#bfd7c3"/>
<rect x="398.30" y="534.65" width="24.60" height="4.80" fill="#bfd7c3"/>
<rect x="398.30" y="540.70" width="24.60" height="4.80" fill="#bfd7c3"/>
<rect x="398.30" y="546.75" width="24.60" height="4.80" fill="#bfd7c3"/>
<rect x="398.30" y="552.80" width="24.60" height="4.80" fill="#bfd7c3"/>
<rect x="398.30" y="558.85" width="24.60" height="4.80" fill="#bfd7c3"/>
<rect x="398.30" y="564.90" width="16.40" height="4.80" fill="#bfd7c3"/>
<rect x="398.30" y="570.95" width="16.40" height="4.80" fill="#bfd7c3"/>
<rect x="398.30" y="577.00" width="16.40" height="4.80" fill="#bfd7c3"/>
<rect x="398.30" y="583.05" width="16.40" height="4.80" fill="#bfd7c3"/>
<rect x="398.30" y="589.10" width="16.40" height="4.80" fill="#bfd7c3"/>
<rect x="398.30" y="595.15" width="16.40" height="4.80" fill="#bfd7c3"/>
<rect x="398.30" y="601.20" width="16.40" height="4.80" fill="#bfd7c3"/>
<rect x="398.30" y="607.25" width="16.40" height="4.80" fill="#bfd7c3"/>
<rect x="398.30" y="613.30" width="16.40" height="4.80" fill="#bfd7c3"/>
<rect x="398.30" y="619.35" width="16.40" height="4.80" fill="#bfd7c3"/>
<rect x="398.30" y="625.40" width="16.40" height="4.80" fill="#bfd7c3"/>
<rect x="398.30" y="631.45" width="16.40" height="4.80" fill="#bfd7c3"/>
<rect x="398.30" y="637.50" width="16.40" height="4.80" fill="#bfd7c3"/>
<rect x="398.30" y="643.55" width="16.40" height="4.80" fill="#bfd7c3"/>
<rect x="398.30" y="649.60" width="16.40" height="4.80" fill="#bfd7c3"/>
<rect x="398.30" y="655.65" width="16.40" height="4.80" fill="#bfd7c3"/>
<rect x="398.30" y="661.70" width="16.40" height="4.80" fill="#bfd7c3"/>
<rect x="398.30" y="667.75" width="16.40" height="4.80" fill="#bfd7c3"/>
<rect x="398.30" y="673.80" width="16.40" height="4.80" fill="#bfd7c3"/>
<rect x="398.30" y="679.85" width="16.40" height="4.80" fill="#bfd7c3"/>
<rect x="398.30" y="685.90" width="8.20" height="4.80" fill="#bfd7c3"/>
<rect x="398.30" y="691.95" width="8.20" height="4.80" fill="#bfd7c3"/>
<rect x="398.30" y="698.00" width="8.20" height="4.80" fill="#bfd7c3"/>
<rect x="398.30" y="704.05" width="8.20" height="4.80" fill="#bfd7c3"/>
<rect x="398.30" y="710.10" width="8.20" height="4.80" fill="#bfd7c3"/>
<rect x="398.30" y="716.15" width="8.20" height="4.80" fill="#bfd7c3"/>
<rect x="398.30" y="722.20" width="8.20" height="4.80" fill="#bfd7c3"/>
<rect x="398.30" y="728.25" width="8.20" height="4.80" fill="#bfd7c3"/>
<rect x="398.30" y="734.30" width="8.20" height="4.80" fill="#bfd7c3"/>
<rect x="398.30" y="740.35" width="8.20" height="4.80" fill="#bfd7c3"/>
<rect x="398.30" y="746.40" width="8.20" height="4.80" fill="#bfd7c3"/>
<rect x="398.30" y="752.45" width="8.20" height="4.80" fill="#bfd7c3"/>
<rect x="398.30" y="758.50" width="8.20" height="4.80" fill="#bfd7c3"/>
<rect x="398.30" y="764.55" width="8.20" height="4.80" fill="#bfd7c3"/>
<rect x="398.30" y="770.60" width="8.20" height="4.80" fill="#bfd7c3"/>
<rect x="398.30" y="776.65" width="8.20" height="4.80" fill="#bfd7c3"/>
<rect x="398.30" y="782.70" width="8.20" height="4.80" fill="#bfd7c3"/>
<rect x="398.30" y="788.75" width="8.20" height="4.80" fill="#bfd7c3"/>
<rect x="398.30" y="794.80" width="8.20" height="4.80" fill="#bfd7c3"/>
<rect x="398.30" y="800.85" width="8.20" height="4.80" fill="#bfd7c3"/>
<rect x="398.30" y="806.90" width="8.20" height="4.80" fill="#bfd7c3"/>
<rect x="398.30" y="812.95" width="8.20" height="4.80" fill="#bfd7c3"/>
<rect x="398.30" y="819.00" width="8.20" height="4.80" fill="#bfd7c3"/>
<rect x="398.30" y="825.05" width="8.20" height="4.80" fill="#bfd7c3"/>
<rect x="398.30" y="831.10" width="8.20" height="4.80" fill="#bfd7c3"/>
<rect x="398.30" y="837.15" width="8.20" height="4.80" fill="#bfd7c3"/>
<rect x="398.30" y="843.20" width="8.20" height="4.80" fill="#bfd7c3"/>
<rect x="398.30" y="849.25" width="8.20" height="4.80" fill="#bfd7c3"/>
<rect x="398.30" y="855.30" width="8.20" height="4.80" fill="#bfd7c3"/>
<rect x="398.30" y="861.35" width="8.20" height="4.80" fill="#bfd7c3"/>
<rect x="398.30" y="867.40" width="8.20" height="4.80" fill="#bfd7c3"/>
<rect x="398.30" y="873.45" width="8.20" height="4.80" fill="#bfd7c3"/>
<rect x="398.30" y="879.50" width="8.20" height="4.80" fill="#bfd7c3"/>
<rect x="398.30" y="885.55" width="8.20" height="4.80" fill="#bfd7c3"/>
<rect x="398.30" y="891.60" width="8.20" height="4.80" fill="#bfd7c3"/>
<rect x="398.30" y="897.65" width="8.20" height="4.80" fill="#bfd7c3"/>
<rect x="398.30" y="903.70" width="8.20" height="4.80" fill="#bfd7c3"/>
<rect x="398.30" y="909.75" width="8.20" height="4.80" fill="#bfd7c3"/>
<rect x="398.30" y="915.80" width="8.20" height="4.80" fill="#bfd7c3"/>
<rect x="398.30" y="921.85" width="8.20" height="4.80" fill="#bfd7c3"/>
<rect x="398.30" y="927.90" width="8.20" height="4.80" fill="#bfd7c3"/>
<rect x="398.30" y="933.95" width="8.20" height="4.80" fill="#bfd7c3"/>
<line x1="397.70" y1="334.20" x2="397.70" y2="938.90" stroke="#3a3535" stroke-width="1.1"/>
<line x1="397.20" y1="334.20" x2="481.00" y2="334.20" stroke="#3a3535" stroke-width="1.1"/>
<text x="402.90" y="331.90" font-size="8.8" fill="#231f20" text-anchor="start" transform="rotate(-90 402.90 331.90)">0</text>
<text x="418.50" y="331.90" font-size="8.8" fill="#231f20" text-anchor="start" transform="rotate(-90 418.50 331.90)">2</text>
<text x="433.70" y="331.90" font-size="8.8" fill="#231f20" text-anchor="start" transform="rotate(-90 433.70 331.90)">4</text>
<text x="448.80" y="331.90" font-size="8.8" fill="#231f20" text-anchor="start" transform="rotate(-90 448.80 331.90)">6</text>
<text x="464.40" y="331.90" font-size="8.8" fill="#231f20" text-anchor="start" transform="rotate(-90 464.40 331.90)">8</text>
<text x="480.80" y="331.90" font-size="8.8" fill="#231f20" text-anchor="start" transform="rotate(-90 480.80 331.90)">10</text>
<text x="416.40" y="716.80" font-size="9.0" fill="#231f20" text-anchor="start" textLength="24.6" lengthAdjust="spacingAndGlyphs">Count</text>
<defs><linearGradient id="gb" x1="0" y1="0" x2="0" y2="1"><stop offset="0" stop-color="#33639c"/><stop offset="0.5" stop-color="#7f9fc2"/><stop offset="1" stop-color="#e6eaee"/></linearGradient><linearGradient id="gg" x1="0" y1="0" x2="0" y2="1"><stop offset="0" stop-color="#083d80"/><stop offset="0.2" stop-color="#1569a8"/><stop offset="0.4" stop-color="#48a6c9"/><stop offset="0.6" stop-color="#a2d8b6"/><stop offset="0.8" stop-color="#d2ebc9"/><stop offset="1" stop-color="#f6faef"/></linearGradient><linearGradient id="gconn" gradientUnits="userSpaceOnUse" x1="446" y1="0" x2="472.5" y2="0"><stop offset="0" stop-color="#8b8686"/><stop offset="0.55" stop-color="#bdbaba"/><stop offset="1" stop-color="#e2e0e0"/></linearGradient></defs>
<rect x="418.00" y="725.40" width="20.60" height="72.60" fill="url(#gb)"/>
<line x1="438.60" y1="798.00" x2="442.10" y2="798.00" stroke="#222" stroke-width="1.0"/>
<text x="443.80" y="801.10" font-size="8.7" fill="#231f20" text-anchor="start">0</text>
<line x1="438.60" y1="783.48" x2="442.10" y2="783.48" stroke="#222" stroke-width="1.0"/>
<text x="443.80" y="786.58" font-size="8.7" fill="#231f20" text-anchor="start">1</text>
<line x1="438.60" y1="768.96" x2="442.10" y2="768.96" stroke="#222" stroke-width="1.0"/>
<text x="443.80" y="772.06" font-size="8.7" fill="#231f20" text-anchor="start">2</text>
<line x1="438.60" y1="754.44" x2="442.10" y2="754.44" stroke="#222" stroke-width="1.0"/>
<text x="443.80" y="757.54" font-size="8.7" fill="#231f20" text-anchor="start">3</text>
<line x1="438.60" y1="739.92" x2="442.10" y2="739.92" stroke="#222" stroke-width="1.0"/>
<text x="443.80" y="743.02" font-size="8.7" fill="#231f20" text-anchor="start">4</text>
<line x1="438.60" y1="725.40" x2="442.10" y2="725.40" stroke="#222" stroke-width="1.0"/>
<text x="443.80" y="728.50" font-size="8.7" fill="#231f20" text-anchor="start">5</text>
<text x="416.60" y="818.80" font-size="9.0" fill="#231f20" text-anchor="start" textLength="25.3" lengthAdjust="spacingAndGlyphs">Count</text>
<rect x="418.00" y="833.50" width="20.40" height="70.90" fill="url(#gg)"/>
<line x1="438.40" y1="904.40" x2="441.90" y2="904.40" stroke="#222" stroke-width="1.0"/>
<text x="443.60" y="907.50" font-size="8.7" fill="#231f20" text-anchor="start">0</text>
<line x1="438.40" y1="890.22" x2="441.90" y2="890.22" stroke="#222" stroke-width="1.0"/>
<text x="443.60" y="893.32" font-size="8.7" fill="#231f20" text-anchor="start">1</text>
<line x1="438.40" y1="876.04" x2="441.90" y2="876.04" stroke="#222" stroke-width="1.0"/>
<text x="443.60" y="879.14" font-size="8.7" fill="#231f20" text-anchor="start">2</text>
<line x1="438.40" y1="861.86" x2="441.90" y2="861.86" stroke="#222" stroke-width="1.0"/>
<text x="443.60" y="864.96" font-size="8.7" fill="#231f20" text-anchor="start">3</text>
<line x1="438.40" y1="847.68" x2="441.90" y2="847.68" stroke="#222" stroke-width="1.0"/>
<text x="443.60" y="850.78" font-size="8.7" fill="#231f20" text-anchor="start">4</text>
<line x1="438.40" y1="833.50" x2="441.90" y2="833.50" stroke="#222" stroke-width="1.0"/>
<text x="443.60" y="836.60" font-size="8.7" fill="#231f20" text-anchor="start">5</text>
<rect x="333.60" y="13.20" width="338.00" height="106.10" fill="white" stroke="#6d6666" stroke-width="0.9"/>
<text x="329.80" y="23.70" font-size="9.5" fill="#231f20" text-anchor="end">CD4-T</text>
<text x="329.80" y="47.60" font-size="9.5" fill="#231f20" text-anchor="end">CD8-T</text>
<text x="329.80" y="71.30" font-size="9.5" fill="#231f20" text-anchor="end">NK</text>
<text x="329.80" y="95.00" font-size="9.5" fill="#231f20" text-anchor="end">Bcells</text>
<text x="329.80" y="118.60" font-size="9.5" fill="#231f20" text-anchor="end">Myeloid</text>
<circle cx="341.40" cy="20.30" r="4.35" fill="#a9d8e5" stroke="#4c7c8a" stroke-width="0.7"/>
<circle cx="350.65" cy="20.30" r="3.70" fill="#a9d8e5" stroke="#4c7c8a" stroke-width="0.7"/>
<circle cx="359.91" cy="20.30" r="3.55" fill="#a9d8e5" stroke="#4c7c8a" stroke-width="0.7"/>
<circle cx="369.16" cy="20.30" r="3.80" fill="#a9d8e5" stroke="#4c7c8a" stroke-width="0.7"/>
<circle cx="378.42" cy="20.30" r="2.50" fill="#a9d8e5" stroke="#4c7c8a" stroke-width="0.7"/>
<circle cx="387.67" cy="20.30" r="3.55" fill="#a9d8e5" stroke="#4c7c8a" stroke-width="0.7"/>
<circle cx="396.93" cy="20.30" r="2.90" fill="#a9d8e5" stroke="#4c7c8a" stroke-width="0.7"/>
<circle cx="406.19" cy="20.30" r="2.70" fill="#a9d8e5" stroke="#4c7c8a" stroke-width="0.7"/>
<circle cx="415.44" cy="20.30" r="2.05" fill="#a9d8e5" stroke="#4c7c8a" stroke-width="0.7"/>
<circle cx="424.69" cy="20.30" r="2.25" fill="#a9d8e5" stroke="#4c7c8a" stroke-width="0.7"/>
<circle cx="433.95" cy="20.30" r="3.05" fill="#a9d8e5" stroke="#4c7c8a" stroke-width="0.7"/>
<circle cx="443.20" cy="20.30" r="2.50" fill="#a9d8e5" stroke="#4c7c8a" stroke-width="0.7"/>
<circle cx="452.46" cy="20.30" r="2.25" fill="#a9d8e5" stroke="#4c7c8a" stroke-width="0.7"/>
<circle cx="461.71" cy="20.30" r="1.20" fill="#a9d8e5" stroke="#4c7c8a" stroke-width="0.7"/>
<circle cx="470.97" cy="20.30" r="1.70" fill="#a9d8e5" stroke="#4c7c8a" stroke-width="0.7"/>
<circle cx="480.23" cy="20.30" r="1.70" fill="#a9d8e5" stroke="#4c7c8a" stroke-width="0.7"/>
<circle cx="489.48" cy="20.30" r="4.00" fill="#fbdddc" stroke="#7a5e5e" stroke-width="0.7"/>
<circle cx="498.74" cy="20.30" r="2.90" fill="#fbdddc" stroke="#7a5e5e" stroke-width="0.7"/>
<circle cx="507.99" cy="20.30" r="1.40" fill="#fbdddc" stroke="#7a5e5e" stroke-width="0.7"/>
<circle cx="517.25" cy="20.30" r="1.40" fill="#fbdddc" stroke="#7a5e5e" stroke-width="0.7"/>
<circle cx="526.50" cy="20.30" r="1.85" fill="#fbdddc" stroke="#7a5e5e" stroke-width="0.7"/>
<circle cx="535.75" cy="20.30" r="2.05" fill="#fbdddc" stroke="#7a5e5e" stroke-width="0.7"/>
<circle cx="545.01" cy="20.30" r="1.70" fill="#fbdddc" stroke="#7a5e5e" stroke-width="0.7"/>
<circle cx="554.26" cy="20.30" r="1.40" fill="#fbdddc" stroke="#7a5e5e" stroke-width="0.7"/>
<circle cx="563.52" cy="20.30" r="1.60" fill="#fbdddc" stroke="#7a5e5e" stroke-width="0.7"/>
<circle cx="572.77" cy="20.30" r="4.15" fill="#dcc5e3" stroke="#5a4a5c" stroke-width="0.7"/>
<circle cx="582.03" cy="20.30" r="1.50" fill="#dcc5e3" stroke="#5a4a5c" stroke-width="0.7"/>
<circle cx="591.28" cy="20.30" r="1.50" fill="#dcc5e3" stroke="#5a4a5c" stroke-width="0.7"/>
<circle cx="600.54" cy="20.30" r="1.50" fill="#dcc5e3" stroke="#5a4a5c" stroke-width="0.7"/>
<circle cx="609.80" cy="20.30" r="1.50" fill="#dcc5e3" stroke="#5a4a5c" stroke-width="0.7"/>
<circle cx="619.05" cy="20.30" r="1.50" fill="#dcc5e3" stroke="#5a4a5c" stroke-width="0.7"/>
<circle cx="628.31" cy="20.30" r="1.50" fill="#dcc5e3" stroke="#5a4a5c" stroke-width="0.7"/>
<circle cx="644.00" cy="20.30" r="1.20" fill="#c9b68f"/>
<circle cx="653.30" cy="20.30" r="1.45" fill="#c9b68f"/>
<circle cx="665.90" cy="20.30" r="1.20" fill="#8a8a8a"/>
<circle cx="341.40" cy="44.20" r="3.35" fill="#a9d8e5" stroke="#4c7c8a" stroke-width="0.7"/>
<circle cx="350.65" cy="44.20" r="3.35" fill="#a9d8e5" stroke="#4c7c8a" stroke-width="0.7"/>
<circle cx="359.91" cy="44.20" r="2.70" fill="#a9d8e5" stroke="#4c7c8a" stroke-width="0.7"/>
<circle cx="369.16" cy="44.20" r="2.40" fill="#a9d8e5" stroke="#4c7c8a" stroke-width="0.7"/>
<circle cx="378.42" cy="44.20" r="2.25" fill="#a9d8e5" stroke="#4c7c8a" stroke-width="0.7"/>
<circle cx="387.67" cy="44.20" r="1.70" fill="#a9d8e5" stroke="#4c7c8a" stroke-width="0.7"/>
<circle cx="396.93" cy="44.20" r="1.60" fill="#a9d8e5" stroke="#4c7c8a" stroke-width="0.7"/>
<circle cx="406.19" cy="44.20" r="2.05" fill="#a9d8e5" stroke="#4c7c8a" stroke-width="0.7"/>
<circle cx="415.44" cy="44.20" r="1.85" fill="#a9d8e5" stroke="#4c7c8a" stroke-width="0.7"/>
<circle cx="424.69" cy="44.20" r="2.05" fill="#a9d8e5" stroke="#4c7c8a" stroke-width="0.7"/>
<circle cx="433.95" cy="44.20" r="1.40" fill="#a9d8e5" stroke="#4c7c8a" stroke-width="0.7"/>
<circle cx="443.20" cy="44.20" r="1.70" fill="#a9d8e5" stroke="#4c7c8a" stroke-width="0.7"/>
<circle cx="452.46" cy="44.20" r="1.40" fill="#a9d8e5" stroke="#4c7c8a" stroke-width="0.7"/>
<circle cx="461.71" cy="44.20" r="2.05" fill="#a9d8e5" stroke="#4c7c8a" stroke-width="0.7"/>
<circle cx="470.97" cy="44.20" r="1.40" fill="#a9d8e5" stroke="#4c7c8a" stroke-width="0.7"/>
<circle cx="480.23" cy="44.20" r="1.40" fill="#a9d8e5" stroke="#4c7c8a" stroke-width="0.7"/>
<circle cx="489.48" cy="44.20" r="3.80" fill="#fbdddc" stroke="#7a5e5e" stroke-width="0.7"/>
<circle cx="498.74" cy="44.20" r="1.60" fill="#fbdddc" stroke="#7a5e5e" stroke-width="0.7"/>
<circle cx="507.99" cy="44.20" r="1.40" fill="#fbdddc" stroke="#7a5e5e" stroke-width="0.7"/>
<circle cx="517.25" cy="44.20" r="1.60" fill="#fbdddc" stroke="#7a5e5e" stroke-width="0.7"/>
<circle cx="526.50" cy="44.20" r="1.40" fill="#fbdddc" stroke="#7a5e5e" stroke-width="0.7"/>
<circle cx="535.75" cy="44.20" r="1.40" fill="#fbdddc" stroke="#7a5e5e" stroke-width="0.7"/>
<circle cx="545.01" cy="44.20" r="1.40" fill="#fbdddc" stroke="#7a5e5e" stroke-width="0.7"/>
<circle cx="554.26" cy="44.20" r="1.40" fill="#fbdddc" stroke="#7a5e5e" stroke-width="0.7"/>
<circle cx="563.52" cy="44.20" r="1.20" fill="#fbdddc" stroke="#7a5e5e" stroke-width="0.7"/>
<circle cx="572.77" cy="44.20" r="4.15" fill="#dcc5e3" stroke="#5a4a5c" stroke-width="0.7"/>
<circle cx="582.03" cy="44.20" r="1.35" fill="#dcc5e3" stroke="#5a4a5c" stroke-width="0.7"/>
<circle cx="591.28" cy="44.20" r="1.35" fill="#dcc5e3" stroke="#5a4a5c" stroke-width="0.7"/>
<circle cx="600.54" cy="44.20" r="1.35" fill="#dcc5e3" stroke="#5a4a5c" stroke-width="0.7"/>
<circle cx="609.80" cy="44.20" r="1.50" fill="#dcc5e3" stroke="#5a4a5c" stroke-width="0.7"/>
<circle cx="619.05" cy="44.20" r="1.75" fill="#dcc5e3" stroke="#5a4a5c" stroke-width="0.7"/>
<circle cx="628.31" cy="44.20" r="1.50" fill="#dcc5e3" stroke="#5a4a5c" stroke-width="0.7"/>
<circle cx="644.00" cy="44.20" r="1.20" fill="#c9b68f"/>
<circle cx="653.30" cy="44.20" r="1.20" fill="#c9b68f"/>
<circle cx="665.90" cy="44.20" r="1.75" fill="#8a8a8a"/>
<circle cx="341.40" cy="67.90" r="3.05" fill="#a9d8e5" stroke="#4c7c8a" stroke-width="0.7"/>
<circle cx="350.65" cy="67.90" r="3.15" fill="#a9d8e5" stroke="#4c7c8a" stroke-width="0.7"/>
<circle cx="359.91" cy="67.90" r="2.90" fill="#a9d8e5" stroke="#4c7c8a" stroke-width="0.7"/>
<circle cx="369.16" cy="67.90" r="1.20" fill="#a9d8e5" stroke="#4c7c8a" stroke-width="0.7"/>
<circle cx="378.42" cy="67.90" r="2.25" fill="#a9d8e5" stroke="#4c7c8a" stroke-width="0.7"/>
<circle cx="387.67" cy="67.90" r="1.60" fill="#a9d8e5" stroke="#4c7c8a" stroke-width="0.7"/>
<circle cx="396.93" cy="67.90" r="1.60" fill="#a9d8e5" stroke="#4c7c8a" stroke-width="0.7"/>
<circle cx="406.19" cy="67.90" r="1.85" fill="#a9d8e5" stroke="#4c7c8a" stroke-width="0.7"/>
<circle cx="415.44" cy="67.90" r="1.60" fill="#a9d8e5" stroke="#4c7c8a" stroke-width="0.7"/>
<circle cx="424.69" cy="67.90" r="2.25" fill="#a9d8e5" stroke="#4c7c8a" stroke-width="0.7"/>
<circle cx="433.95" cy="67.90" r="1.40" fill="#a9d8e5" stroke="#4c7c8a" stroke-width="0.7"/>
<circle cx="443.20" cy="67.90" r="1.40" fill="#a9d8e5" stroke="#4c7c8a" stroke-width="0.7"/>
<circle cx="452.46" cy="67.90" r="1.40" fill="#a9d8e5" stroke="#4c7c8a" stroke-width="0.7"/>
<circle cx="461.71" cy="67.90" r="1.70" fill="#a9d8e5" stroke="#4c7c8a" stroke-width="0.7"/>
<circle cx="470.97" cy="67.90" r="1.40" fill="#a9d8e5" stroke="#4c7c8a" stroke-width="0.7"/>
<circle cx="480.23" cy="67.90" r="1.40" fill="#a9d8e5" stroke="#4c7c8a" stroke-width="0.7"/>
<circle cx="489.48" cy="67.90" r="3.15" fill="#fbdddc" stroke="#7a5e5e" stroke-width="0.7"/>
<circle cx="498.74" cy="67.90" r="1.85" fill="#fbdddc" stroke="#7a5e5e" stroke-width="0.7"/>
<circle cx="507.99" cy="67.90" r="1.40" fill="#fbdddc" stroke="#7a5e5e" stroke-width="0.7"/>
<circle cx="517.25" cy="67.90" r="1.60" fill="#fbdddc" stroke="#7a5e5e" stroke-width="0.7"/>
<circle cx="526.50" cy="67.90" r="1.40" fill="#fbdddc" stroke="#7a5e5e" stroke-width="0.7"/>
<circle cx="535.75" cy="67.90" r="1.40" fill="#fbdddc" stroke="#7a5e5e" stroke-width="0.7"/>
<circle cx="545.01" cy="67.90" r="1.40" fill="#fbdddc" stroke="#7a5e5e" stroke-width="0.7"/>
<circle cx="554.26" cy="67.90" r="1.40" fill="#fbdddc" stroke="#7a5e5e" stroke-width="0.7"/>
<circle cx="563.52" cy="67.90" r="1.20" fill="#fbdddc" stroke="#7a5e5e" stroke-width="0.7"/>
<circle cx="572.77" cy="67.90" r="4.15" fill="#dcc5e3" stroke="#5a4a5c" stroke-width="0.7"/>
<circle cx="582.03" cy="67.90" r="1.35" fill="#dcc5e3" stroke="#5a4a5c" stroke-width="0.7"/>
<circle cx="591.28" cy="67.90" r="1.35" fill="#dcc5e3" stroke="#5a4a5c" stroke-width="0.7"/>
<circle cx="600.54" cy="67.90" r="1.35" fill="#dcc5e3" stroke="#5a4a5c" stroke-width="0.7"/>
<circle cx="609.80" cy="67.90" r="1.35" fill="#dcc5e3" stroke="#5a4a5c" stroke-width="0.7"/>
<circle cx="619.05" cy="67.90" r="1.35" fill="#dcc5e3" stroke="#5a4a5c" stroke-width="0.7"/>
<circle cx="628.31" cy="67.90" r="1.35" fill="#dcc5e3" stroke="#5a4a5c" stroke-width="0.7"/>
<circle cx="644.00" cy="67.90" r="1.20" fill="#c9b68f"/>
<circle cx="653.30" cy="67.90" r="1.20" fill="#c9b68f"/>
<circle cx="665.90" cy="67.90" r="1.60" fill="#8a8a8a"/>
<circle cx="341.40" cy="91.60" r="2.40" fill="#a9d8e5" stroke="#4c7c8a" stroke-width="0.7"/>
<circle cx="350.65" cy="91.60" r="2.70" fill="#a9d8e5" stroke="#4c7c8a" stroke-width="0.7"/>
<circle cx="359.91" cy="91.60" r="2.05" fill="#a9d8e5" stroke="#4c7c8a" stroke-width="0.7"/>
<circle cx="369.16" cy="91.60" r="2.25" fill="#a9d8e5" stroke="#4c7c8a" stroke-width="0.7"/>
<circle cx="378.42" cy="91.60" r="2.70" fill="#a9d8e5" stroke="#4c7c8a" stroke-width="0.7"/>
<circle cx="387.67" cy="91.60" r="2.05" fill="#a9d8e5" stroke="#4c7c8a" stroke-width="0.7"/>
<circle cx="396.93" cy="91.60" r="2.25" fill="#a9d8e5" stroke="#4c7c8a" stroke-width="0.7"/>
<circle cx="406.19" cy="91.60" r="1.20" fill="#a9d8e5" stroke="#4c7c8a" stroke-width="0.7"/>
<circle cx="415.44" cy="91.60" r="2.40" fill="#a9d8e5" stroke="#4c7c8a" stroke-width="0.7"/>
<circle cx="424.69" cy="91.60" r="1.70" fill="#a9d8e5" stroke="#4c7c8a" stroke-width="0.7"/>
<circle cx="433.95" cy="91.60" r="1.60" fill="#a9d8e5" stroke="#4c7c8a" stroke-width="0.7"/>
<circle cx="443.20" cy="91.60" r="1.85" fill="#a9d8e5" stroke="#4c7c8a" stroke-width="0.7"/>
<circle cx="452.46" cy="91.60" r="1.70" fill="#a9d8e5" stroke="#4c7c8a" stroke-width="0.7"/>
<circle cx="461.71" cy="91.60" r="1.70" fill="#a9d8e5" stroke="#4c7c8a" stroke-width="0.7"/>
<circle cx="470.97" cy="91.60" r="1.60" fill="#a9d8e5" stroke="#4c7c8a" stroke-width="0.7"/>
<circle cx="480.23" cy="91.60" r="1.05" fill="#a9d8e5" stroke="#4c7c8a" stroke-width="0.7"/>
<circle cx="489.48" cy="91.60" r="2.70" fill="#fbdddc" stroke="#7a5e5e" stroke-width="0.7"/>
<circle cx="498.74" cy="91.60" r="1.60" fill="#fbdddc" stroke="#7a5e5e" stroke-width="0.7"/>
<circle cx="507.99" cy="91.60" r="1.70" fill="#fbdddc" stroke="#7a5e5e" stroke-width="0.7"/>
<circle cx="517.25" cy="91.60" r="1.60" fill="#fbdddc" stroke="#7a5e5e" stroke-width="0.7"/>
<circle cx="526.50" cy="91.60" r="1.20" fill="#fbdddc" stroke="#7a5e5e" stroke-width="0.7"/>
<circle cx="535.75" cy="91.60" r="1.20" fill="#fbdddc" stroke="#7a5e5e" stroke-width="0.7"/>
<circle cx="545.01" cy="91.60" r="1.40" fill="#fbdddc" stroke="#7a5e5e" stroke-width="0.7"/>
<circle cx="554.26" cy="91.60" r="1.60" fill="#fbdddc" stroke="#7a5e5e" stroke-width="0.7"/>
<circle cx="563.52" cy="91.60" r="1.20" fill="#fbdddc" stroke="#7a5e5e" stroke-width="0.7"/>
<circle cx="572.77" cy="91.60" r="3.95" fill="#dcc5e3" stroke="#5a4a5c" stroke-width="0.7"/>
<circle cx="582.03" cy="91.60" r="1.50" fill="#dcc5e3" stroke="#5a4a5c" stroke-width="0.7"/>
<circle cx="591.28" cy="91.60" r="1.50" fill="#dcc5e3" stroke="#5a4a5c" stroke-width="0.7"/>
<circle cx="600.54" cy="91.60" r="1.50" fill="#dcc5e3" stroke="#5a4a5c" stroke-width="0.7"/>
<circle cx="609.80" cy="91.60" r="1.50" fill="#dcc5e3" stroke="#5a4a5c" stroke-width="0.7"/>
<circle cx="619.05" cy="91.60" r="1.50" fill="#dcc5e3" stroke="#5a4a5c" stroke-width="0.7"/>
<circle cx="628.31" cy="91.60" r="1.50" fill="#dcc5e3" stroke="#5a4a5c" stroke-width="0.7"/>
<circle cx="644.00" cy="91.60" r="2.00" fill="#c9b68f"/>
<circle cx="653.30" cy="91.60" r="1.20" fill="#c9b68f"/>
<circle cx="665.90" cy="91.60" r="2.25" fill="#8a8a8a"/>
<circle cx="341.40" cy="115.20" r="2.25" fill="#a9d8e5" stroke="#4c7c8a" stroke-width="0.7"/>
<circle cx="350.65" cy="115.20" r="2.40" fill="#a9d8e5" stroke="#4c7c8a" stroke-width="0.7"/>
<circle cx="359.91" cy="115.20" r="1.70" fill="#a9d8e5" stroke="#4c7c8a" stroke-width="0.7"/>
<circle cx="369.16" cy="115.20" r="2.05" fill="#a9d8e5" stroke="#4c7c8a" stroke-width="0.7"/>
<circle cx="378.42" cy="115.20" r="1.85" fill="#a9d8e5" stroke="#4c7c8a" stroke-width="0.7"/>
<circle cx="387.67" cy="115.20" r="1.70" fill="#a9d8e5" stroke="#4c7c8a" stroke-width="0.7"/>
<circle cx="396.93" cy="115.20" r="1.60" fill="#a9d8e5" stroke="#4c7c8a" stroke-width="0.7"/>
<circle cx="406.19" cy="115.20" r="1.70" fill="#a9d8e5" stroke="#4c7c8a" stroke-width="0.7"/>
<circle cx="415.44" cy="115.20" r="1.40" fill="#a9d8e5" stroke="#4c7c8a" stroke-width="0.7"/>
<circle cx="424.69" cy="115.20" r="1.40" fill="#a9d8e5" stroke="#4c7c8a" stroke-width="0.7"/>
<circle cx="433.95" cy="115.20" r="1.40" fill="#a9d8e5" stroke="#4c7c8a" stroke-width="0.7"/>
<circle cx="443.20" cy="115.20" r="1.60" fill="#a9d8e5" stroke="#4c7c8a" stroke-width="0.7"/>
<circle cx="452.46" cy="115.20" r="1.60" fill="#a9d8e5" stroke="#4c7c8a" stroke-width="0.7"/>
<circle cx="461.71" cy="115.20" r="1.40" fill="#a9d8e5" stroke="#4c7c8a" stroke-width="0.7"/>
<circle cx="470.97" cy="115.20" r="1.60" fill="#a9d8e5" stroke="#4c7c8a" stroke-width="0.7"/>
<circle cx="480.23" cy="115.20" r="1.40" fill="#a9d8e5" stroke="#4c7c8a" stroke-width="0.7"/>
<circle cx="489.48" cy="115.20" r="2.25" fill="#fbdddc" stroke="#7a5e5e" stroke-width="0.7"/>
<circle cx="498.74" cy="115.20" r="2.05" fill="#fbdddc" stroke="#7a5e5e" stroke-width="0.7"/>
<circle cx="507.99" cy="115.20" r="1.70" fill="#fbdddc" stroke="#7a5e5e" stroke-width="0.7"/>
<circle cx="517.25" cy="115.20" r="1.40" fill="#fbdddc" stroke="#7a5e5e" stroke-width="0.7"/>
<circle cx="526.50" cy="115.20" r="1.40" fill="#fbdddc" stroke="#7a5e5e" stroke-width="0.7"/>
<circle cx="535.75" cy="115.20" r="1.40" fill="#fbdddc" stroke="#7a5e5e" stroke-width="0.7"/>
<circle cx="545.01" cy="115.20" r="1.40" fill="#fbdddc" stroke="#7a5e5e" stroke-width="0.7"/>
<circle cx="554.26" cy="115.20" r="1.40" fill="#fbdddc" stroke="#7a5e5e" stroke-width="0.7"/>
<circle cx="563.52" cy="115.20" r="1.40" fill="#fbdddc" stroke="#7a5e5e" stroke-width="0.7"/>
<circle cx="572.77" cy="115.20" r="3.10" fill="#dcc5e3" stroke="#5a4a5c" stroke-width="0.7"/>
<circle cx="582.03" cy="115.20" r="1.50" fill="#dcc5e3" stroke="#5a4a5c" stroke-width="0.7"/>
<circle cx="591.28" cy="115.20" r="1.50" fill="#dcc5e3" stroke="#5a4a5c" stroke-width="0.7"/>
<circle cx="600.54" cy="115.20" r="1.50" fill="#dcc5e3" stroke="#5a4a5c" stroke-width="0.7"/>
<circle cx="609.80" cy="115.20" r="1.50" fill="#dcc5e3" stroke="#5a4a5c" stroke-width="0.7"/>
<circle cx="619.05" cy="115.20" r="1.50" fill="#dcc5e3" stroke="#5a4a5c" stroke-width="0.7"/>
<circle cx="628.31" cy="115.20" r="1.50" fill="#dcc5e3" stroke="#5a4a5c" stroke-width="0.7"/>
<circle cx="644.00" cy="115.20" r="1.60" fill="#c9b68f"/>
<circle cx="653.30" cy="115.20" r="1.20" fill="#c9b68f"/>
<circle cx="665.90" cy="115.20" r="1.75" fill="#8a8a8a"/>
<text x="344.70" y="126.10" font-size="9.2" fill="#56b3e2" text-anchor="end" transform="rotate(-90 344.70 126.10)">T1D</text>
<text x="353.95" y="126.10" font-size="9.2" fill="#56b3e2" text-anchor="end" transform="rotate(-90 353.95 126.10)">CEL</text>
<text x="363.21" y="126.10" font-size="9.2" fill="#56b3e2" text-anchor="end" transform="rotate(-90 363.21 126.10)">CD</text>
<text x="372.46" y="126.10" font-size="9.2" fill="#56b3e2" text-anchor="end" transform="rotate(-90 372.46 126.10)">UC</text>
<text x="381.72" y="126.10" font-size="9.2" fill="#56b3e2" text-anchor="end" transform="rotate(-90 381.72 126.10)">HT</text>
<text x="390.97" y="126.10" font-size="9.2" fill="#56b3e2" text-anchor="end" transform="rotate(-90 390.97 126.10)">RA</text>
<text x="400.23" y="126.10" font-size="9.2" fill="#56b3e2" text-anchor="end" transform="rotate(-90 400.23 126.10)">MS</text>
<text x="409.49" y="126.10" font-size="9.2" fill="#56b3e2" text-anchor="end" transform="rotate(-90 409.49 126.10)">PSO</text>
<text x="418.74" y="126.10" font-size="9.2" fill="#56b3e2" text-anchor="end" transform="rotate(-90 418.74 126.10)">SLE</text>
<text x="428.00" y="126.10" font-size="9.2" fill="#56b3e2" text-anchor="end" transform="rotate(-90 428.00 126.10)">AS</text>
<text x="437.25" y="126.10" font-size="9.2" fill="#56b3e2" text-anchor="end" transform="rotate(-90 437.25 126.10)">VI</text>
<text x="446.50" y="126.10" font-size="9.2" fill="#56b3e2" text-anchor="end" transform="rotate(-90 446.50 126.10)">GRA</text>
<text x="455.76" y="126.10" font-size="9.2" fill="#56b3e2" text-anchor="end" transform="rotate(-90 455.76 126.10)">MG</text>
<text x="465.01" y="126.10" font-size="9.2" fill="#56b3e2" text-anchor="end" transform="rotate(-90 465.01 126.10)">PA</text>
<text x="474.27" y="126.10" font-size="9.2" fill="#56b3e2" text-anchor="end" transform="rotate(-90 474.27 126.10)">SS</text>
<text x="483.53" y="126.10" font-size="9.2" fill="#56b3e2" text-anchor="end" transform="rotate(-90 483.53 126.10)">AH</text>
<text x="492.78" y="126.10" font-size="9.2" fill="#f09c9c" text-anchor="end" transform="rotate(-90 492.78 126.10)">BRCA</text>
<text x="502.04" y="126.10" font-size="9.2" fill="#f09c9c" text-anchor="end" transform="rotate(-90 502.04 126.10)">SKCM</text>
<text x="511.29" y="126.10" font-size="9.2" fill="#f09c9c" text-anchor="end" transform="rotate(-90 511.29 126.10)">LUSC</text>
<text x="520.54" y="126.10" font-size="9.2" fill="#f09c9c" text-anchor="end" transform="rotate(-90 520.54 126.10)">KIRP</text>
<text x="529.80" y="126.10" font-size="9.2" fill="#f09c9c" text-anchor="end" transform="rotate(-90 529.80 126.10)">PRAD</text>
<text x="539.05" y="126.10" font-size="9.2" fill="#f09c9c" text-anchor="end" transform="rotate(-90 539.05 126.10)">LUAD</text>
<text x="548.31" y="126.10" font-size="9.2" fill="#f09c9c" text-anchor="end" transform="rotate(-90 548.31 126.10)">THCA</text>
<text x="557.56" y="126.10" font-size="9.2" fill="#f09c9c" text-anchor="end" transform="rotate(-90 557.56 126.10)">PAAD</text>
<text x="566.82" y="126.10" font-size="9.2" fill="#f09c9c" text-anchor="end" transform="rotate(-90 566.82 126.10)">TGCT</text>
<text x="576.07" y="126.10" font-size="9.2" fill="#3b5aa8" text-anchor="end" transform="rotate(-90 576.07 126.10)">COPD</text>
<text x="585.33" y="126.10" font-size="9.2" fill="#3b5aa8" text-anchor="end" transform="rotate(-90 585.33 126.10)">AV</text>
<text x="594.58" y="126.10" font-size="9.2" fill="#3b5aa8" text-anchor="end" transform="rotate(-90 594.58 126.10)">BRO</text>
<text x="603.84" y="126.10" font-size="9.2" fill="#3b5aa8" text-anchor="end" transform="rotate(-90 603.84 126.10)">CHB</text>
<text x="613.10" y="126.10" font-size="9.2" fill="#3b5aa8" text-anchor="end" transform="rotate(-90 613.10 126.10)">CHC</text>
<text x="622.35" y="126.10" font-size="9.2" fill="#3b5aa8" text-anchor="end" transform="rotate(-90 622.35 126.10)">JIA</text>
<text x="631.61" y="126.10" font-size="9.2" fill="#3b5aa8" text-anchor="end" transform="rotate(-90 631.61 126.10)">GLO</text>
<text x="647.30" y="126.10" font-size="9.2" fill="#cdb68c" text-anchor="end" transform="rotate(-90 647.30 126.10)">PT</text>
<text x="656.60" y="126.10" font-size="9.2" fill="#cdb68c" text-anchor="end" transform="rotate(-90 656.60 126.10)">SSTI</text>
<text x="669.20" y="126.10" font-size="9.2" fill="#8f8f8f" text-anchor="end" transform="rotate(-90 669.20 126.10)">CS</text>
<line x1="338.00" y1="159.20" x2="483.00" y2="159.20" stroke="#231f20" stroke-width="1.1"/>
<line x1="485.50" y1="158.80" x2="566.80" y2="158.80" stroke="#231f20" stroke-width="1.1"/>
<line x1="569.20" y1="158.80" x2="632.60" y2="158.80" stroke="#231f20" stroke-width="1.1"/>
<text x="345.30" y="172.30" font-size="9.0" fill="#231f20" text-anchor="start" textLength="21.4" lengthAdjust="spacingAndGlyphs">Count</text>
<circle cx="334.40" cy="178.90" r="2.50" fill="#a6a6a6"/>
<text x="334.40" y="192.30" font-size="8.4" fill="#231f20" text-anchor="middle">4</text>
<circle cx="344.80" cy="178.90" r="3.25" fill="#a6a6a6"/>
<text x="344.80" y="192.30" font-size="8.4" fill="#231f20" text-anchor="middle">8</text>
<circle cx="355.20" cy="178.90" r="3.75" fill="#a6a6a6"/>
<text x="355.20" y="192.30" font-size="8.4" fill="#231f20" text-anchor="middle">12</text>
<circle cx="365.40" cy="178.90" r="4.10" fill="#a6a6a6"/>
<text x="365.40" y="192.30" font-size="8.4" fill="#231f20" text-anchor="middle">16</text>
<circle cx="376.10" cy="178.90" r="4.50" fill="#a6a6a6"/>
<text x="376.10" y="192.30" font-size="8.4" fill="#231f20" text-anchor="middle">20</text>
<text x="413.00" y="173.20" font-size="9.5" fill="#e3141e" text-anchor="middle" font-weight="bold">Autoimmune</text>
<text x="413.50" y="184.40" font-size="9.5" fill="#e3141e" text-anchor="middle" font-weight="bold">diseases</text>
<text x="418.50" y="195.00" font-size="9.5" fill="#e3141e" text-anchor="middle" font-weight="bold">16/21</text>
<circle cx="461.40" cy="180.60" r="16.40" fill="#d9d9d9"/>
<path d="M461.40 180.60 L461.40 164.20 A16.4 16.4 0 1 1 445.05 179.37 Z" fill="#a9d7e5" stroke="#333" stroke-width="0.7"/>
<circle cx="461.40" cy="180.60" r="16.40" fill="none" stroke="#333" stroke-width="0.8"/>
<circle cx="542.90" cy="180.60" r="16.40" fill="#d9d9d9"/>
<path d="M542.90 180.60 L542.90 164.20 A16.4 16.4 0 0 1 554.50 192.20 Z" fill="#fbdcdc" stroke="#333" stroke-width="0.7"/>
<circle cx="542.90" cy="180.60" r="16.40" fill="none" stroke="#333" stroke-width="0.8"/>
<circle cx="630.60" cy="180.60" r="16.40" fill="#d9d9d9"/>
<path d="M630.60 180.60 L630.60 164.20 A16.4 16.4 0 1 1 618.21 191.34 Z" fill="#dcc5e3" stroke="#333" stroke-width="0.7"/>
<circle cx="630.60" cy="180.60" r="16.40" fill="none" stroke="#333" stroke-width="0.8"/>
<text x="488.40" y="174.70" font-size="9.4" fill="#231f20" text-anchor="start">Cancers</text>
<text x="503.70" y="190.50" font-size="9.4" fill="#231f20" text-anchor="middle">9/24</text>
<text x="589.60" y="169.30" font-size="9.4" fill="#231f20" text-anchor="middle">Inflammatory</text>
<text x="590.70" y="180.60" font-size="9.4" fill="#231f20" text-anchor="middle">diseases</text>
<text x="594.60" y="191.70" font-size="9.4" fill="#231f20" text-anchor="middle">7/11</text>
<rect x="498.00" y="220.80" width="186.00" height="162.80" fill="#f2f2f2"/>
<text x="481.60" y="227.30" font-size="13" fill="#231f20" text-anchor="start">d</text>
<text x="655.40" y="231.20" font-size="9.4" fill="#cdb68c" text-anchor="start" transform="rotate(-90 655.40 231.20)">Infectious diseases</text>
<text x="667.40" y="222.20" font-size="9.4" fill="#8f8f8f" text-anchor="start" transform="rotate(-90 667.40 222.20)">Allergic diseases</text>
<path d="M502.7 227.8 L504.3 230.8 L501.1 230.8 Z" fill="#e3141e"/>
<text x="507.00" y="230.80" font-size="7.0" fill="#231f20" text-anchor="start">top cis−eQTL</text>
<circle cx="502.70" cy="235.90" r="1.20" fill="#1f2f6e"/>
<text x="506.60" y="237.20" font-size="7.0" fill="#231f20" text-anchor="start">cis−eQTL</text>
<text x="603.00" y="229.90" font-size="9.1" fill="#231f20" text-anchor="middle">CD4-T</text>
<line x1="553.30" y1="242.20" x2="553.30" y2="327.60" stroke="#3a3535" stroke-width="0.9"/>
<line x1="550.50" y1="242.40" x2="553.30" y2="242.40" stroke="#3a3535" stroke-width="0.9"/>
<text x="548.00" y="245.70" font-size="9.25" fill="#231f20" text-anchor="end">0.63</text>
<line x1="550.50" y1="270.90" x2="553.30" y2="270.90" stroke="#3a3535" stroke-width="0.9"/>
<text x="548.00" y="274.20" font-size="9.25" fill="#231f20" text-anchor="end">0.42</text>
<line x1="550.50" y1="299.80" x2="553.30" y2="299.80" stroke="#3a3535" stroke-width="0.9"/>
<text x="548.00" y="303.10" font-size="9.25" fill="#231f20" text-anchor="end">0.21</text>
<line x1="550.50" y1="327.50" x2="553.30" y2="327.50" stroke="#3a3535" stroke-width="0.9"/>
<text x="548.00" y="330.80" font-size="9.25" fill="#231f20" text-anchor="end">0</text>
<line x1="560.70" y1="335.40" x2="633.40" y2="335.40" stroke="#3a3535" stroke-width="0.9"/>
<line x1="561.00" y1="335.20" x2="561.00" y2="338.00" stroke="#3a3535" stroke-width="0.9"/>
<text x="561.00" y="349.30" font-size="9.2" fill="#231f20" text-anchor="middle">0</text>
<line x1="584.70" y1="335.20" x2="584.70" y2="338.00" stroke="#3a3535" stroke-width="0.9"/>
<text x="584.70" y="349.30" font-size="9.2" fill="#231f20" text-anchor="middle">0.02</text>
<line x1="609.10" y1="335.20" x2="609.10" y2="338.00" stroke="#3a3535" stroke-width="0.9"/>
<text x="609.10" y="349.30" font-size="9.2" fill="#231f20" text-anchor="middle">0.05</text>
<line x1="633.20" y1="335.20" x2="633.20" y2="338.00" stroke="#3a3535" stroke-width="0.9"/>
<text x="633.20" y="349.30" font-size="9.2" fill="#231f20" text-anchor="middle">0.07</text>
<text x="601.10" y="363.30" font-size="11.5" fill="#231f20" text-anchor="middle">eQTL effect sizes</text>
<text x="601.50" y="373.40" font-size="11.5" fill="#231f20" text-anchor="middle" font-style="italic">MSTD_dup83-chr6</text>
<text x="511.10" y="287.40" font-size="10" fill="#231f20" text-anchor="middle" transform="rotate(-90 511.10 287.40)" textLength="12.2" lengthAdjust="spacingAndGlyphs">SS</text>
<text x="522.00" y="287.40" font-size="8.5" fill="#231f20" text-anchor="middle" transform="rotate(-90 522.00 287.40)" textLength="63" lengthAdjust="spacingAndGlyphs">GWAS effect sizes</text>
<line x1="562.40" y1="326.40" x2="640.80" y2="254.50" stroke="#f0a05a" stroke-width="1.7" stroke-dasharray="6.3 7.6"/>
<line x1="577.70" y1="281.10" x2="589.50" y2="281.10" stroke="#3358ae" stroke-width="1.3"/>
<line x1="583.60" y1="274.50" x2="583.60" y2="287.70" stroke="#3358ae" stroke-width="1.3"/>
<circle cx="583.60" cy="281.10" r="1.50" fill="#16286e"/>
<line x1="588.00" y1="270.90" x2="602.60" y2="270.90" stroke="#3358ae" stroke-width="1.3"/>
<line x1="595.30" y1="261.40" x2="595.30" y2="280.40" stroke="#3358ae" stroke-width="1.3"/>
<circle cx="595.30" cy="270.90" r="1.50" fill="#16286e"/>
<line x1="588.70" y1="272.60" x2="607.70" y2="272.60" stroke="#3358ae" stroke-width="1.3"/>
<line x1="598.20" y1="263.80" x2="598.20" y2="281.40" stroke="#3358ae" stroke-width="1.3"/>
<circle cx="598.20" cy="272.60" r="1.50" fill="#16286e"/>
<line x1="585.70" y1="278.20" x2="607.70" y2="278.20" stroke="#3358ae" stroke-width="1.3"/>
<line x1="596.70" y1="267.20" x2="596.70" y2="289.20" stroke="#3358ae" stroke-width="1.3"/>
<circle cx="596.70" cy="278.20" r="1.50" fill="#16286e"/>
<line x1="592.40" y1="278.90" x2="608.40" y2="278.90" stroke="#3358ae" stroke-width="1.3"/>
<line x1="600.40" y1="270.90" x2="600.40" y2="286.90" stroke="#3358ae" stroke-width="1.3"/>
<circle cx="600.40" cy="278.90" r="1.50" fill="#16286e"/>
<line x1="594.70" y1="278.90" x2="614.70" y2="278.90" stroke="#3358ae" stroke-width="1.3"/>
<line x1="604.70" y1="271.90" x2="604.70" y2="285.90" stroke="#3358ae" stroke-width="1.3"/>
<circle cx="604.70" cy="278.90" r="1.50" fill="#16286e"/>
<line x1="605.80" y1="280.40" x2="619.80" y2="280.40" stroke="#3358ae" stroke-width="1.3"/>
<line x1="612.80" y1="270.60" x2="612.80" y2="290.20" stroke="#3358ae" stroke-width="1.3"/>
<circle cx="612.80" cy="280.40" r="1.50" fill="#16286e"/>
<line x1="600.80" y1="282.80" x2="624.80" y2="282.80" stroke="#3358ae" stroke-width="1.3"/>
<line x1="612.80" y1="276.80" x2="612.80" y2="288.80" stroke="#3358ae" stroke-width="1.3"/>
<circle cx="612.80" cy="282.80" r="1.50" fill="#16286e"/>
<line x1="587.10" y1="286.20" x2="599.10" y2="286.20" stroke="#3358ae" stroke-width="1.3"/>
<line x1="593.10" y1="278.20" x2="593.10" y2="294.20" stroke="#3358ae" stroke-width="1.3"/>
<circle cx="593.10" cy="286.20" r="1.50" fill="#16286e"/>
<line x1="591.60" y1="285.50" x2="607.60" y2="285.50" stroke="#3358ae" stroke-width="1.3"/>
<line x1="599.60" y1="276.00" x2="599.60" y2="295.00" stroke="#3358ae" stroke-width="1.3"/>
<circle cx="599.60" cy="285.50" r="1.50" fill="#16286e"/>
<line x1="589.00" y1="283.30" x2="603.00" y2="283.30" stroke="#3358ae" stroke-width="1.3"/>
<line x1="596.00" y1="276.30" x2="596.00" y2="290.30" stroke="#3358ae" stroke-width="1.3"/>
<circle cx="596.00" cy="283.30" r="1.50" fill="#16286e"/>
<line x1="577.70" y1="302.30" x2="591.50" y2="302.30" stroke="#3358ae" stroke-width="1.3"/>
<line x1="584.60" y1="295.70" x2="584.60" y2="308.90" stroke="#3358ae" stroke-width="1.3"/>
<circle cx="584.60" cy="302.30" r="1.50" fill="#16286e"/>
<line x1="584.60" y1="304.20" x2="600.00" y2="304.20" stroke="#3358ae" stroke-width="1.3"/>
<line x1="592.30" y1="297.30" x2="592.30" y2="311.10" stroke="#3358ae" stroke-width="1.3"/>
<circle cx="592.30" cy="304.20" r="1.50" fill="#16286e"/>
<line x1="579.70" y1="308.80" x2="592.70" y2="308.80" stroke="#3358ae" stroke-width="1.3"/>
<line x1="586.20" y1="302.60" x2="586.20" y2="315.00" stroke="#3358ae" stroke-width="1.3"/>
<circle cx="586.20" cy="308.80" r="1.50" fill="#16286e"/>
<line x1="593.10" y1="242.40" x2="614.30" y2="242.40" stroke="#1d2a57" stroke-width="1.6"/>
<line x1="603.70" y1="232.90" x2="603.70" y2="251.90" stroke="#1d2a57" stroke-width="1.6"/>
<circle cx="603.70" cy="242.40" r="1.50" fill="#1d2a57"/>
<line x1="605.00" y1="250.10" x2="627.00" y2="250.10" stroke="#1d2a57" stroke-width="1.6"/>
<line x1="616.00" y1="240.30" x2="616.00" y2="259.90" stroke="#1d2a57" stroke-width="1.6"/>
<circle cx="616.00" cy="250.10" r="1.50" fill="#1d2a57"/>
<line x1="594.20" y1="250.70" x2="613.80" y2="250.70" stroke="#1d2a57" stroke-width="1.6"/>
<line x1="604.00" y1="242.70" x2="604.00" y2="258.70" stroke="#1d2a57" stroke-width="1.6"/>
<circle cx="604.00" cy="250.70" r="1.50" fill="#1d2a57"/>
<line x1="604.70" y1="270.10" x2="622.30" y2="270.10" stroke="#1d2a57" stroke-width="1.6"/>
<line x1="613.50" y1="260.60" x2="613.50" y2="279.60" stroke="#1d2a57" stroke-width="1.6"/>
<circle cx="613.50" cy="270.10" r="1.50" fill="#1d2a57"/>
<line x1="621.20" y1="262.80" x2="640.80" y2="262.80" stroke="#e3141e" stroke-width="1.7"/>
<line x1="631.00" y1="251.80" x2="631.00" y2="273.80" stroke="#e3141e" stroke-width="1.7"/>
<circle cx="631.00" cy="262.80" r="1.80" fill="#e3141e"/>
<path d="M631 260.5 L633.2 264.3 L628.8 264.3 Z" fill="#e3141e"/>
<text x="587.70" y="326.40" font-size="9.5" fill="#231f20" text-anchor="start">P-value = 1.3e-6</text>
<rect x="472.30" y="394.20" width="212.00" height="393.00" fill="#f2f2f2"/>
<path d="M445.8 394.6 L472.5 394.2 L472.5 787.2 L470.5 787.2 Z" fill="url(#gconn)"/>
<rect x="439.60" y="395.80" width="6.60" height="4.40" fill="#adadad"/>
<text x="476.50" y="405.20" font-size="13" fill="#231f20" text-anchor="start">e</text>
<text x="601.00" y="403.40" font-size="9.4" fill="#231f20" text-anchor="middle">CD4-T</text>
<path d="M605.6 412.4 L607.6 415.9 L603.6 415.9 Z" fill="#e3141e"/>
<text x="609.70" y="416.60" font-size="7.0" fill="#231f20" text-anchor="start">top cis−eQTL</text>
<circle cx="605.60" cy="420.60" r="1.20" fill="#1f2f6e"/>
<text x="609.40" y="423.00" font-size="7.0" fill="#231f20" text-anchor="start">cis−eQTL</text>
<text x="597.00" y="436.20" font-size="9.5" fill="#231f20" text-anchor="start">P-value = 1.7e-7</text>
<line x1="550.40" y1="410.20" x2="550.40" y2="510.70" stroke="#3a3535" stroke-width="0.9"/>
<line x1="547.80" y1="410.80" x2="550.40" y2="410.80" stroke="#3a3535" stroke-width="0.9"/>
<text x="546.60" y="414.10" font-size="9.3" fill="#231f20" text-anchor="end">0.115</text>
<line x1="547.80" y1="435.90" x2="550.40" y2="435.90" stroke="#3a3535" stroke-width="0.9"/>
<text x="546.60" y="439.20" font-size="9.3" fill="#231f20" text-anchor="end">0.058</text>
<line x1="547.80" y1="460.40" x2="550.40" y2="460.40" stroke="#3a3535" stroke-width="0.9"/>
<text x="546.60" y="463.70" font-size="9.3" fill="#231f20" text-anchor="end">0</text>
<line x1="547.80" y1="485.00" x2="550.40" y2="485.00" stroke="#3a3535" stroke-width="0.9"/>
<text x="546.60" y="488.30" font-size="9.3" fill="#231f20" text-anchor="end">−0.058</text>
<line x1="547.80" y1="509.70" x2="550.40" y2="509.70" stroke="#3a3535" stroke-width="0.9"/>
<text x="546.60" y="513.00" font-size="9.3" fill="#231f20" text-anchor="end">−0.115</text>
<line x1="564.60" y1="527.60" x2="649.80" y2="527.60" stroke="#3a3535" stroke-width="0.9"/>
<line x1="564.80" y1="527.60" x2="564.80" y2="530.00" stroke="#3a3535" stroke-width="0.9"/>
<text x="564.80" y="539.00" font-size="8.3" fill="#231f20" text-anchor="middle">−0.1</text>
<line x1="586.10" y1="527.60" x2="586.10" y2="530.00" stroke="#3a3535" stroke-width="0.9"/>
<text x="586.10" y="539.00" font-size="8.3" fill="#231f20" text-anchor="middle">−0.05</text>
<line x1="607.60" y1="527.60" x2="607.60" y2="530.00" stroke="#3a3535" stroke-width="0.9"/>
<text x="607.60" y="539.00" font-size="8.3" fill="#231f20" text-anchor="middle">0</text>
<line x1="628.40" y1="527.60" x2="628.40" y2="530.00" stroke="#3a3535" stroke-width="0.9"/>
<text x="628.40" y="539.00" font-size="8.3" fill="#231f20" text-anchor="middle">0.05</text>
<line x1="649.60" y1="527.60" x2="649.60" y2="530.00" stroke="#3a3535" stroke-width="0.9"/>
<text x="649.60" y="539.00" font-size="8.3" fill="#231f20" text-anchor="middle">0.1</text>
<text x="608.00" y="550.00" font-size="9.5" fill="#231f20" text-anchor="middle">eQTL effect sizes</text>
<text x="608.40" y="560.20" font-size="9.65" fill="#231f20" text-anchor="middle" font-style="italic">LTR2B_dup15-chr6</text>
<text x="510.60" y="457.00" font-size="9.2" fill="#231f20" text-anchor="middle" transform="rotate(-90 510.60 457.00)">CD</text>
<text x="520.90" y="454.10" font-size="9.4" fill="#231f20" text-anchor="middle" transform="rotate(-90 520.90 454.10)">GWAS effect sizes</text>
<line x1="554.30" y1="392.60" x2="660.20" y2="527.20" stroke="#f0a05a" stroke-width="1.7" stroke-dasharray="6.3 7.6"/>
<line x1="560.40" y1="407.20" x2="576.40" y2="407.20" stroke="#3358ae" stroke-width="1.2"/>
<line x1="568.40" y1="402.20" x2="568.40" y2="412.20" stroke="#3358ae" stroke-width="1.2"/>
<circle cx="568.40" cy="407.20" r="1.20" fill="#16286e"/>
<line x1="557.00" y1="403.00" x2="575.00" y2="403.00" stroke="#3358ae" stroke-width="1.2"/>
<line x1="566.00" y1="398.00" x2="566.00" y2="408.00" stroke="#3358ae" stroke-width="1.2"/>
<circle cx="566.00" cy="403.00" r="1.20" fill="#16286e"/>
<line x1="563.00" y1="405.00" x2="579.00" y2="405.00" stroke="#3358ae" stroke-width="1.2"/>
<line x1="571.00" y1="399.00" x2="571.00" y2="411.00" stroke="#3358ae" stroke-width="1.2"/>
<circle cx="571.00" cy="405.00" r="1.20" fill="#16286e"/>
<line x1="558.00" y1="410.00" x2="576.00" y2="410.00" stroke="#3358ae" stroke-width="1.2"/>
<line x1="567.00" y1="406.00" x2="567.00" y2="414.00" stroke="#3358ae" stroke-width="1.2"/>
<circle cx="567.00" cy="410.00" r="1.20" fill="#16286e"/>
<line x1="566.00" y1="409.00" x2="578.00" y2="409.00" stroke="#3358ae" stroke-width="1.2"/>
<line x1="572.00" y1="403.00" x2="572.00" y2="415.00" stroke="#3358ae" stroke-width="1.2"/>
<circle cx="572.00" cy="409.00" r="1.20" fill="#16286e"/>
<line x1="564.00" y1="413.00" x2="574.00" y2="413.00" stroke="#3358ae" stroke-width="1.2"/>
<line x1="569.00" y1="409.00" x2="569.00" y2="417.00" stroke="#3358ae" stroke-width="1.2"/>
<circle cx="569.00" cy="413.00" r="1.20" fill="#16286e"/>
<line x1="563.30" y1="421.80" x2="580.50" y2="421.80" stroke="#3358ae" stroke-width="1.2"/>
<line x1="571.90" y1="416.00" x2="571.90" y2="427.60" stroke="#3358ae" stroke-width="1.2"/>
<circle cx="571.90" cy="421.80" r="1.20" fill="#16286e"/>
<line x1="559.50" y1="405.50" x2="573.50" y2="405.50" stroke="#1d2a57" stroke-width="1.2"/>
<line x1="566.50" y1="399.50" x2="566.50" y2="411.50" stroke="#1d2a57" stroke-width="1.2"/>
<circle cx="566.50" cy="405.50" r="1.20" fill="#1d2a57"/>
<line x1="564.00" y1="408.00" x2="576.00" y2="408.00" stroke="#1d2a57" stroke-width="1.2"/>
<line x1="570.00" y1="403.00" x2="570.00" y2="413.00" stroke="#1d2a57" stroke-width="1.2"/>
<circle cx="570.00" cy="408.00" r="1.20" fill="#1d2a57"/>
<line x1="559.00" y1="411.50" x2="571.00" y2="411.50" stroke="#1d2a57" stroke-width="1.2"/>
<line x1="565.00" y1="408.50" x2="565.00" y2="414.50" stroke="#1d2a57" stroke-width="1.2"/>
<circle cx="565.00" cy="411.50" r="1.20" fill="#1d2a57"/>
<line x1="554.70" y1="403.10" x2="570.30" y2="403.10" stroke="#e3141e" stroke-width="1.7"/>
<line x1="562.50" y1="397.30" x2="562.50" y2="408.90" stroke="#e3141e" stroke-width="1.7"/>
<circle cx="562.50" cy="403.10" r="1.60" fill="#e3141e"/>
<path d="M562.5 400.8 L564.6 404.4 L560.4 404.4 Z" fill="#e3141e"/>
<line x1="633.30" y1="486.90" x2="647.30" y2="486.90" stroke="#3358ae" stroke-width="1.4"/>
<line x1="640.30" y1="481.40" x2="640.30" y2="492.40" stroke="#3358ae" stroke-width="1.4"/>
<circle cx="640.30" cy="486.90" r="1.30" fill="#16286e"/>
<line x1="641.70" y1="491.30" x2="659.30" y2="491.30" stroke="#1d2a57" stroke-width="1.4"/>
<line x1="650.50" y1="484.00" x2="650.50" y2="498.60" stroke="#1d2a57" stroke-width="1.4"/>
<circle cx="650.50" cy="491.30" r="1.30" fill="#1d2a57"/>
<line x1="641.10" y1="496.60" x2="658.10" y2="496.60" stroke="#1d2a57" stroke-width="1.4"/>
<line x1="649.60" y1="492.60" x2="649.60" y2="500.60" stroke="#1d2a57" stroke-width="1.4"/>
<circle cx="649.60" cy="496.60" r="1.30" fill="#1d2a57"/>
<line x1="637.40" y1="502.90" x2="653.20" y2="502.90" stroke="#1d2a57" stroke-width="1.4"/>
<line x1="645.30" y1="497.60" x2="645.30" y2="508.20" stroke="#1d2a57" stroke-width="1.4"/>
<circle cx="645.30" cy="502.90" r="1.30" fill="#1d2a57"/>
<line x1="637.70" y1="507.10" x2="652.30" y2="507.10" stroke="#3358ae" stroke-width="1.4"/>
<line x1="645.00" y1="503.10" x2="645.00" y2="511.10" stroke="#3358ae" stroke-width="1.4"/>
<circle cx="645.00" cy="507.10" r="1.30" fill="#16286e"/>
<line x1="644.70" y1="511.50" x2="659.30" y2="511.50" stroke="#3358ae" stroke-width="1.4"/>
<line x1="652.00" y1="506.00" x2="652.00" y2="517.00" stroke="#3358ae" stroke-width="1.4"/>
<circle cx="652.00" cy="511.50" r="1.30" fill="#16286e"/>
<line x1="633.30" y1="516.70" x2="653.10" y2="516.70" stroke="#1d2a57" stroke-width="1.4"/>
<line x1="643.20" y1="510.90" x2="643.20" y2="522.50" stroke="#1d2a57" stroke-width="1.4"/>
<circle cx="643.20" cy="516.70" r="1.30" fill="#1d2a57"/>
<line x1="641.70" y1="516.70" x2="651.70" y2="516.70" stroke="#1d2a57" stroke-width="1.4"/>
<line x1="646.70" y1="510.90" x2="646.70" y2="522.50" stroke="#1d2a57" stroke-width="1.4"/>
<circle cx="646.70" cy="516.70" r="1.30" fill="#1d2a57"/>
<text x="475.00" y="573.80" font-size="13" fill="#231f20" text-anchor="start">f</text>
<rect x="519.00" y="569.80" width="140.20" height="78.00" fill="#f1f1f1" stroke="#4d4d4d" stroke-width="1.0"/>
<line x1="527.00" y1="644.30" x2="527.00" y2="625.20" stroke="#3a62c0" stroke-width="1.1"/>
<line x1="542.80" y1="644.30" x2="542.80" y2="628.90" stroke="#3a62c0" stroke-width="1.1"/>
<line x1="550.50" y1="644.30" x2="550.50" y2="623.70" stroke="#3a62c0" stroke-width="1.1"/>
<line x1="554.40" y1="644.30" x2="554.40" y2="626.70" stroke="#3a62c0" stroke-width="1.1"/>
<line x1="569.30" y1="644.30" x2="569.30" y2="623.00" stroke="#3a62c0" stroke-width="1.1"/>
<line x1="578.50" y1="644.30" x2="578.50" y2="623.00" stroke="#3a62c0" stroke-width="1.1"/>
<line x1="582.90" y1="644.30" x2="582.90" y2="624.10" stroke="#3a62c0" stroke-width="1.1"/>
<line x1="585.10" y1="644.30" x2="585.10" y2="628.50" stroke="#3a62c0" stroke-width="1.1"/>
<line x1="590.50" y1="644.30" x2="590.50" y2="631.80" stroke="#3a62c0" stroke-width="1.1"/>
<line x1="597.10" y1="644.30" x2="597.10" y2="637.30" stroke="#3a62c0" stroke-width="1.1"/>
<line x1="617.90" y1="644.30" x2="617.90" y2="628.50" stroke="#3a62c0" stroke-width="1.1"/>
<line x1="647.50" y1="644.30" x2="647.50" y2="598.90" stroke="#3a62c0" stroke-width="1.1"/>
<line x1="519.50" y1="644.20" x2="658.50" y2="644.20" stroke="#4a6fb8" stroke-width="0.6" opacity="0.7"/>
<circle cx="608.17" cy="643.30" r="0.85" fill="#2d3038"/><circle cx="528.66" cy="641.30" r="0.85" fill="#2d3038"/><circle cx="613.90" cy="643.46" r="0.85" fill="#2d3038"/><circle cx="600.81" cy="644.15" r="0.85" fill="#2d3038"/><circle cx="582.54" cy="643.86" r="0.85" fill="#2d3038"/><circle cx="616.46" cy="641.90" r="0.85" fill="#2d3038"/><circle cx="553.69" cy="642.93" r="0.85" fill="#2d3038"/><circle cx="640.77" cy="643.86" r="0.85" fill="#2d3038"/><circle cx="559.74" cy="643.95" r="0.85" fill="#2d3038"/><circle cx="577.70" cy="644.69" r="0.85" fill="#2d3038"/><circle cx="540.97" cy="644.32" r="0.85" fill="#2d3038"/><circle cx="625.51" cy="644.77" r="0.85" fill="#2d3038"/><circle cx="599.08" cy="643.75" r="0.85" fill="#2d3038"/><circle cx="615.95" cy="643.75" r="0.85" fill="#2d3038"/><circle cx="602.02" cy="643.14" r="0.85" fill="#2d3038"/><circle cx="635.92" cy="643.89" r="0.85" fill="#2d3038"/><circle cx="650.37" cy="638.81" r="0.85" fill="#2d3038"/><circle cx="609.30" cy="644.39" r="0.85" fill="#2d3038"/><circle cx="657.05" cy="644.19" r="0.85" fill="#2d3038"/><circle cx="573.24" cy="643.54" r="0.85" fill="#2d3038"/><circle cx="612.27" cy="642.91" r="0.85" fill="#2d3038"/><circle cx="543.19" cy="643.21" r="0.85" fill="#2d3038"/><circle cx="626.02" cy="643.91" r="0.85" fill="#2d3038"/><circle cx="573.95" cy="643.86" r="0.85" fill="#2d3038"/><circle cx="640.26" cy="643.16" r="0.85" fill="#2d3038"/><circle cx="641.91" cy="643.89" r="0.85" fill="#2d3038"/><circle cx="639.23" cy="644.48" r="0.85" fill="#2d3038"/><circle cx="569.51" cy="643.05" r="0.85" fill="#2d3038"/><circle cx="642.02" cy="642.27" r="0.85" fill="#2d3038"/><circle cx="552.20" cy="644.54" r="0.85" fill="#2d3038"/><circle cx="586.92" cy="643.67" r="0.85" fill="#2d3038"/><circle cx="520.56" cy="644.09" r="0.85" fill="#2d3038"/><circle cx="577.81" cy="643.29" r="0.85" fill="#2d3038"/><circle cx="615.29" cy="643.18" r="0.85" fill="#2d3038"/><circle cx="591.14" cy="642.90" r="0.85" fill="#2d3038"/><circle cx="527.45" cy="643.07" r="0.85" fill="#2d3038"/><circle cx="627.64" cy="642.64" r="0.85" fill="#2d3038"/><circle cx="574.15" cy="642.63" r="0.85" fill="#2d3038"/><circle cx="575.06" cy="641.58" r="0.85" fill="#2d3038"/><circle cx="548.81" cy="643.33" r="0.85" fill="#2d3038"/><circle cx="542.40" cy="642.78" r="0.85" fill="#2d3038"/><circle cx="534.00" cy="644.33" r="0.85" fill="#2d3038"/><circle cx="523.52" cy="643.14" r="0.85" fill="#2d3038"/><circle cx="540.50" cy="640.57" r="0.85" fill="#2d3038"/><circle cx="570.25" cy="642.41" r="0.85" fill="#2d3038"/><circle cx="657.05" cy="642.48" r="0.85" fill="#2d3038"/><circle cx="584.31" cy="644.08" r="0.85" fill="#2d3038"/><circle cx="534.10" cy="642.52" r="0.85" fill="#2d3038"/><circle cx="634.38" cy="644.60" r="0.85" fill="#2d3038"/><circle cx="651.24" cy="644.49" r="0.85" fill="#2d3038"/><circle cx="540.23" cy="644.41" r="0.85" fill="#2d3038"/><circle cx="655.03" cy="644.69" r="0.85" fill="#2d3038"/><circle cx="639.14" cy="644.36" r="0.85" fill="#2d3038"/><circle cx="570.60" cy="643.54" r="0.85" fill="#2d3038"/><circle cx="543.05" cy="644.51" r="0.85" fill="#2d3038"/><circle cx="565.49" cy="642.71" r="0.85" fill="#2d3038"/><circle cx="550.78" cy="642.93" r="0.85" fill="#2d3038"/><circle cx="637.66" cy="640.21" r="0.85" fill="#2d3038"/><circle cx="631.24" cy="643.63" r="0.85" fill="#2d3038"/><circle cx="551.29" cy="642.25" r="0.85" fill="#2d3038"/><circle cx="591.43" cy="644.54" r="0.85" fill="#2d3038"/><circle cx="523.86" cy="644.47" r="0.85" fill="#2d3038"/><circle cx="558.56" cy="644.65" r="0.85" fill="#2d3038"/><circle cx="652.00" cy="642.18" r="0.85" fill="#2d3038"/><circle cx="649.31" cy="639.01" r="0.85" fill="#2d3038"/><circle cx="551.30" cy="644.48" r="0.85" fill="#2d3038"/><circle cx="547.15" cy="644.12" r="0.85" fill="#2d3038"/><circle cx="635.98" cy="642.50" r="0.85" fill="#2d3038"/><circle cx="586.17" cy="643.04" r="0.85" fill="#2d3038"/><circle cx="531.70" cy="642.28" r="0.85" fill="#2d3038"/><circle cx="645.55" cy="644.23" r="0.85" fill="#2d3038"/><circle cx="544.64" cy="642.01" r="0.85" fill="#2d3038"/><circle cx="565.89" cy="643.37" r="0.85" fill="#2d3038"/><circle cx="574.63" cy="640.46" r="0.85" fill="#2d3038"/><circle cx="575.39" cy="640.72" r="0.85" fill="#2d3038"/><circle cx="540.86" cy="643.90" r="0.85" fill="#2d3038"/><circle cx="631.30" cy="642.85" r="0.85" fill="#2d3038"/><circle cx="655.28" cy="642.25" r="0.85" fill="#2d3038"/><circle cx="610.70" cy="643.53" r="0.85" fill="#2d3038"/><circle cx="538.08" cy="637.83" r="0.85" fill="#2d3038"/><circle cx="609.66" cy="640.87" r="0.85" fill="#2d3038"/><circle cx="579.87" cy="644.14" r="0.85" fill="#2d3038"/><circle cx="634.01" cy="644.48" r="0.85" fill="#2d3038"/><circle cx="560.43" cy="643.53" r="0.85" fill="#2d3038"/><circle cx="553.19" cy="643.66" r="0.85" fill="#2d3038"/><circle cx="577.82" cy="640.12" r="0.85" fill="#2d3038"/><circle cx="568.82" cy="642.61" r="0.85" fill="#2d3038"/><circle cx="644.79" cy="644.21" r="0.85" fill="#2d3038"/><circle cx="646.65" cy="642.69" r="0.85" fill="#2d3038"/><circle cx="522.58" cy="644.78" r="0.85" fill="#2d3038"/><circle cx="580.74" cy="644.74" r="0.85" fill="#2d3038"/><circle cx="543.78" cy="644.66" r="0.85" fill="#2d3038"/><circle cx="620.08" cy="643.37" r="0.85" fill="#2d3038"/><circle cx="591.53" cy="644.27" r="0.85" fill="#2d3038"/><circle cx="596.65" cy="644.63" r="0.85" fill="#2d3038"/><circle cx="597.32" cy="644.01" r="0.85" fill="#2d3038"/><circle cx="554.29" cy="644.30" r="0.85" fill="#2d3038"/><circle cx="590.06" cy="641.90" r="0.85" fill="#2d3038"/><circle cx="597.52" cy="644.56" r="0.85" fill="#2d3038"/><circle cx="581.17" cy="641.03" r="0.85" fill="#2d3038"/><circle cx="589.77" cy="642.18" r="0.85" fill="#2d3038"/><circle cx="582.42" cy="644.60" r="0.85" fill="#2d3038"/><circle cx="593.59" cy="640.76" r="0.85" fill="#2d3038"/><circle cx="616.49" cy="644.24" r="0.85" fill="#2d3038"/><circle cx="640.96" cy="643.56" r="0.85" fill="#2d3038"/><circle cx="650.17" cy="644.33" r="0.85" fill="#2d3038"/><circle cx="538.92" cy="641.36" r="0.85" fill="#2d3038"/><circle cx="530.09" cy="643.52" r="0.85" fill="#2d3038"/><circle cx="628.18" cy="644.01" r="0.85" fill="#2d3038"/><circle cx="618.82" cy="644.20" r="0.85" fill="#2d3038"/><circle cx="611.12" cy="642.59" r="0.85" fill="#2d3038"/><circle cx="653.52" cy="637.51" r="0.85" fill="#2d3038"/><circle cx="574.96" cy="639.63" r="0.85" fill="#2d3038"/><circle cx="634.88" cy="644.39" r="0.85" fill="#2d3038"/><circle cx="542.28" cy="641.02" r="0.85" fill="#2d3038"/><circle cx="563.96" cy="643.94" r="0.85" fill="#2d3038"/><circle cx="619.66" cy="642.64" r="0.85" fill="#2d3038"/><circle cx="580.78" cy="642.40" r="0.85" fill="#2d3038"/><circle cx="606.10" cy="644.18" r="0.85" fill="#2d3038"/><circle cx="655.94" cy="644.75" r="0.85" fill="#2d3038"/><circle cx="628.79" cy="644.01" r="0.85" fill="#2d3038"/><circle cx="556.65" cy="644.66" r="0.85" fill="#2d3038"/><circle cx="525.46" cy="641.68" r="0.85" fill="#2d3038"/><circle cx="645.78" cy="643.46" r="0.85" fill="#2d3038"/><circle cx="555.69" cy="642.53" r="0.85" fill="#2d3038"/><circle cx="598.74" cy="641.70" r="0.85" fill="#2d3038"/><circle cx="616.66" cy="644.30" r="0.85" fill="#2d3038"/><circle cx="614.97" cy="644.49" r="0.85" fill="#2d3038"/><circle cx="578.69" cy="641.17" r="0.85" fill="#2d3038"/><circle cx="630.62" cy="643.02" r="0.85" fill="#2d3038"/><circle cx="531.56" cy="644.41" r="0.85" fill="#2d3038"/><circle cx="582.62" cy="644.30" r="0.85" fill="#2d3038"/><circle cx="566.80" cy="641.10" r="0.85" fill="#2d3038"/><circle cx="556.96" cy="643.52" r="0.85" fill="#2d3038"/><circle cx="537.83" cy="641.79" r="0.85" fill="#2d3038"/><circle cx="526.95" cy="642.18" r="0.85" fill="#2d3038"/><circle cx="562.09" cy="644.72" r="0.85" fill="#2d3038"/><circle cx="589.01" cy="643.39" r="0.85" fill="#2d3038"/><circle cx="544.55" cy="643.48" r="0.85" fill="#2d3038"/><circle cx="621.17" cy="644.53" r="0.85" fill="#2d3038"/><circle cx="596.04" cy="644.08" r="0.85" fill="#2d3038"/><circle cx="648.98" cy="639.02" r="0.85" fill="#2d3038"/><circle cx="579.64" cy="641.55" r="0.85" fill="#2d3038"/><circle cx="589.92" cy="644.70" r="0.85" fill="#2d3038"/><circle cx="614.91" cy="643.24" r="0.85" fill="#2d3038"/><circle cx="634.86" cy="644.63" r="0.85" fill="#2d3038"/><circle cx="617.53" cy="643.65" r="0.85" fill="#2d3038"/><circle cx="567.96" cy="643.48" r="0.85" fill="#2d3038"/><circle cx="527.51" cy="644.35" r="0.85" fill="#2d3038"/><circle cx="555.27" cy="644.32" r="0.85" fill="#2d3038"/><circle cx="542.53" cy="641.97" r="0.85" fill="#2d3038"/><circle cx="612.53" cy="643.14" r="0.85" fill="#2d3038"/><circle cx="558.91" cy="644.73" r="0.85" fill="#2d3038"/><circle cx="583.40" cy="643.38" r="0.85" fill="#2d3038"/><circle cx="541.74" cy="643.54" r="0.85" fill="#2d3038"/><circle cx="654.22" cy="644.35" r="0.85" fill="#2d3038"/><circle cx="595.50" cy="644.64" r="0.85" fill="#2d3038"/><circle cx="562.72" cy="640.36" r="0.85" fill="#2d3038"/><circle cx="569.21" cy="643.12" r="0.85" fill="#2d3038"/><circle cx="585.50" cy="644.79" r="0.85" fill="#2d3038"/><circle cx="589.38" cy="644.18" r="0.85" fill="#2d3038"/><circle cx="520.68" cy="642.87" r="0.85" fill="#2d3038"/><circle cx="556.46" cy="643.34" r="0.85" fill="#2d3038"/><circle cx="525.75" cy="641.50" r="0.85" fill="#2d3038"/><circle cx="552.13" cy="643.00" r="0.85" fill="#2d3038"/><circle cx="623.57" cy="643.72" r="0.85" fill="#2d3038"/><circle cx="610.74" cy="644.05" r="0.85" fill="#2d3038"/><circle cx="573.75" cy="641.36" r="0.85" fill="#2d3038"/><circle cx="565.01" cy="643.83" r="0.85" fill="#2d3038"/><circle cx="619.93" cy="644.71" r="0.85" fill="#2d3038"/><circle cx="608.76" cy="641.67" r="0.85" fill="#2d3038"/><circle cx="643.09" cy="643.92" r="0.85" fill="#2d3038"/><circle cx="621.27" cy="644.44" r="0.85" fill="#2d3038"/><circle cx="592.28" cy="643.93" r="0.85" fill="#2d3038"/><circle cx="589.60" cy="643.23" r="0.85" fill="#2d3038"/><circle cx="634.04" cy="642.14" r="0.85" fill="#2d3038"/><circle cx="600.60" cy="642.77" r="0.85" fill="#2d3038"/><circle cx="615.68" cy="643.18" r="0.85" fill="#2d3038"/><circle cx="551.73" cy="643.90" r="0.85" fill="#2d3038"/><circle cx="569.78" cy="644.62" r="0.85" fill="#2d3038"/><circle cx="534.48" cy="643.68" r="0.85" fill="#2d3038"/><circle cx="606.42" cy="642.92" r="0.85" fill="#2d3038"/><circle cx="613.93" cy="644.66" r="0.85" fill="#2d3038"/><circle cx="630.08" cy="644.79" r="0.85" fill="#2d3038"/><circle cx="623.26" cy="642.68" r="0.85" fill="#2d3038"/><circle cx="610.98" cy="644.76" r="0.85" fill="#2d3038"/><circle cx="529.11" cy="642.49" r="0.85" fill="#2d3038"/><circle cx="620.65" cy="643.50" r="0.85" fill="#2d3038"/><circle cx="548.32" cy="644.50" r="0.85" fill="#2d3038"/><circle cx="588.16" cy="640.14" r="0.85" fill="#2d3038"/><circle cx="572.79" cy="642.22" r="0.85" fill="#2d3038"/><circle cx="625.84" cy="644.46" r="0.85" fill="#2d3038"/><circle cx="605.14" cy="644.37" r="0.85" fill="#2d3038"/><circle cx="540.34" cy="640.01" r="0.85" fill="#2d3038"/><circle cx="562.01" cy="644.55" r="0.85" fill="#2d3038"/><circle cx="528.37" cy="640.74" r="0.85" fill="#2d3038"/><circle cx="615.52" cy="644.16" r="0.85" fill="#2d3038"/><circle cx="591.28" cy="643.53" r="0.85" fill="#2d3038"/><circle cx="584.12" cy="643.96" r="0.85" fill="#2d3038"/><circle cx="643.33" cy="640.00" r="0.85" fill="#2d3038"/><circle cx="649.20" cy="642.91" r="0.85" fill="#2d3038"/><circle cx="653.60" cy="644.59" r="0.85" fill="#2d3038"/><circle cx="557.07" cy="643.77" r="0.85" fill="#2d3038"/><circle cx="549.08" cy="640.80" r="0.85" fill="#2d3038"/><circle cx="600.24" cy="643.49" r="0.85" fill="#2d3038"/><circle cx="651.48" cy="639.20" r="0.85" fill="#2d3038"/><circle cx="590.21" cy="642.78" r="0.85" fill="#2d3038"/><circle cx="551.93" cy="643.06" r="0.85" fill="#2d3038"/><circle cx="643.88" cy="641.78" r="0.85" fill="#2d3038"/><circle cx="582.20" cy="644.77" r="0.85" fill="#2d3038"/><circle cx="561.67" cy="643.80" r="0.85" fill="#2d3038"/><circle cx="563.62" cy="643.58" r="0.85" fill="#2d3038"/><circle cx="635.95" cy="641.95" r="0.85" fill="#2d3038"/><circle cx="635.80" cy="644.77" r="0.85" fill="#2d3038"/><circle cx="536.57" cy="642.38" r="0.85" fill="#2d3038"/><circle cx="560.00" cy="643.59" r="0.85" fill="#2d3038"/><circle cx="571.37" cy="639.89" r="0.85" fill="#2d3038"/><circle cx="601.31" cy="640.89" r="0.85" fill="#2d3038"/><circle cx="569.78" cy="643.56" r="0.85" fill="#2d3038"/><circle cx="526.66" cy="639.56" r="0.85" fill="#2d3038"/><circle cx="559.42" cy="643.61" r="0.85" fill="#2d3038"/><circle cx="556.67" cy="644.29" r="0.85" fill="#2d3038"/><circle cx="590.51" cy="644.19" r="0.85" fill="#2d3038"/><circle cx="651.95" cy="643.26" r="0.85" fill="#2d3038"/><circle cx="632.05" cy="642.22" r="0.85" fill="#2d3038"/><circle cx="649.82" cy="642.02" r="0.85" fill="#2d3038"/><circle cx="619.30" cy="642.15" r="0.85" fill="#2d3038"/><circle cx="582.22" cy="643.95" r="0.85" fill="#2d3038"/><circle cx="623.87" cy="643.93" r="0.85" fill="#2d3038"/><circle cx="526.76" cy="643.69" r="0.85" fill="#2d3038"/><circle cx="537.57" cy="639.02" r="0.85" fill="#2d3038"/><circle cx="654.73" cy="644.53" r="0.85" fill="#2d3038"/><circle cx="555.90" cy="643.99" r="0.85" fill="#2d3038"/><circle cx="596.91" cy="643.60" r="0.85" fill="#2d3038"/><circle cx="574.42" cy="644.30" r="0.85" fill="#2d3038"/><circle cx="548.69" cy="643.92" r="0.85" fill="#2d3038"/><circle cx="645.02" cy="643.59" r="0.85" fill="#2d3038"/><circle cx="657.51" cy="644.78" r="0.85" fill="#2d3038"/><circle cx="582.09" cy="644.08" r="0.85" fill="#2d3038"/><circle cx="532.52" cy="642.48" r="0.85" fill="#2d3038"/><circle cx="553.00" cy="644.68" r="0.85" fill="#2d3038"/><circle cx="642.44" cy="642.58" r="0.85" fill="#2d3038"/><circle cx="576.96" cy="643.01" r="0.85" fill="#2d3038"/><circle cx="566.67" cy="643.73" r="0.85" fill="#2d3038"/><circle cx="528.56" cy="640.80" r="0.85" fill="#2d3038"/><circle cx="606.89" cy="640.38" r="0.85" fill="#2d3038"/><circle cx="639.07" cy="644.51" r="0.85" fill="#2d3038"/><circle cx="554.29" cy="643.47" r="0.85" fill="#2d3038"/><circle cx="575.17" cy="640.80" r="0.85" fill="#2d3038"/><circle cx="640.46" cy="642.61" r="0.85" fill="#2d3038"/><circle cx="617.91" cy="643.26" r="0.85" fill="#2d3038"/><circle cx="601.03" cy="643.62" r="0.85" fill="#2d3038"/><circle cx="520.02" cy="641.76" r="0.85" fill="#2d3038"/><circle cx="633.93" cy="642.33" r="0.85" fill="#2d3038"/><circle cx="638.05" cy="643.53" r="0.85" fill="#2d3038"/><circle cx="535.05" cy="641.27" r="0.85" fill="#2d3038"/><circle cx="614.13" cy="642.24" r="0.85" fill="#2d3038"/><circle cx="609.33" cy="643.82" r="0.85" fill="#2d3038"/><circle cx="625.54" cy="642.71" r="0.85" fill="#2d3038"/><circle cx="525.46" cy="644.23" r="0.85" fill="#2d3038"/><circle cx="552.10" cy="642.64" r="0.85" fill="#2d3038"/><circle cx="561.92" cy="643.61" r="0.85" fill="#2d3038"/><circle cx="537.66" cy="644.77" r="0.85" fill="#2d3038"/><circle cx="535.47" cy="639.05" r="0.85" fill="#2d3038"/><circle cx="600.44" cy="643.87" r="0.85" fill="#2d3038"/><circle cx="602.95" cy="644.01" r="0.85" fill="#2d3038"/><circle cx="521.44" cy="644.19" r="0.85" fill="#2d3038"/><circle cx="652.33" cy="643.00" r="0.85" fill="#2d3038"/><circle cx="641.96" cy="639.01" r="0.85" fill="#2d3038"/><circle cx="617.24" cy="644.61" r="0.85" fill="#2d3038"/><circle cx="562.42" cy="642.81" r="0.85" fill="#2d3038"/><circle cx="613.08" cy="644.53" r="0.85" fill="#2d3038"/><circle cx="577.96" cy="644.68" r="0.85" fill="#2d3038"/><circle cx="551.30" cy="642.26" r="0.85" fill="#2d3038"/><circle cx="524.71" cy="643.86" r="0.85" fill="#2d3038"/><circle cx="614.19" cy="643.28" r="0.85" fill="#2d3038"/><circle cx="547.33" cy="643.98" r="0.85" fill="#2d3038"/><circle cx="548.32" cy="642.12" r="0.85" fill="#2d3038"/><circle cx="653.84" cy="642.06" r="0.85" fill="#2d3038"/><circle cx="624.94" cy="641.86" r="0.85" fill="#2d3038"/><circle cx="560.70" cy="642.89" r="0.85" fill="#2d3038"/><circle cx="545.85" cy="641.35" r="0.85" fill="#2d3038"/><circle cx="611.81" cy="643.89" r="0.85" fill="#2d3038"/><circle cx="574.30" cy="644.50" r="0.85" fill="#2d3038"/><circle cx="549.39" cy="643.87" r="0.85" fill="#2d3038"/><circle cx="527.15" cy="641.89" r="0.85" fill="#2d3038"/><circle cx="643.95" cy="642.73" r="0.85" fill="#2d3038"/><circle cx="648.56" cy="641.55" r="0.85" fill="#2d3038"/><circle cx="649.15" cy="644.79" r="0.85" fill="#2d3038"/><circle cx="572.25" cy="644.36" r="0.85" fill="#2d3038"/><circle cx="571.60" cy="644.29" r="0.85" fill="#2d3038"/><circle cx="520.40" cy="643.89" r="0.85" fill="#2d3038"/><circle cx="558.61" cy="642.26" r="0.85" fill="#2d3038"/><circle cx="537.07" cy="641.37" r="0.85" fill="#2d3038"/><circle cx="548.62" cy="642.83" r="0.85" fill="#2d3038"/><circle cx="633.44" cy="642.31" r="0.85" fill="#2d3038"/><circle cx="579.68" cy="642.95" r="0.85" fill="#2d3038"/><circle cx="646.89" cy="642.09" r="0.85" fill="#2d3038"/><circle cx="643.79" cy="643.07" r="0.85" fill="#2d3038"/><circle cx="625.80" cy="644.47" r="0.85" fill="#2d3038"/><circle cx="525.61" cy="644.20" r="0.85" fill="#2d3038"/><circle cx="555.47" cy="644.67" r="0.85" fill="#2d3038"/><circle cx="623.13" cy="643.55" r="0.85" fill="#2d3038"/><circle cx="557.58" cy="643.87" r="0.85" fill="#2d3038"/><circle cx="652.16" cy="643.81" r="0.85" fill="#2d3038"/><circle cx="563.67" cy="643.90" r="0.85" fill="#2d3038"/><circle cx="558.04" cy="641.93" r="0.85" fill="#2d3038"/><circle cx="646.47" cy="644.73" r="0.85" fill="#2d3038"/><circle cx="650.17" cy="643.56" r="0.85" fill="#2d3038"/><circle cx="652.04" cy="644.61" r="0.85" fill="#2d3038"/><circle cx="573.34" cy="644.79" r="0.85" fill="#2d3038"/><circle cx="588.10" cy="642.98" r="0.85" fill="#2d3038"/><circle cx="648.08" cy="643.54" r="0.85" fill="#2d3038"/><circle cx="633.54" cy="641.99" r="0.85" fill="#2d3038"/><circle cx="626.65" cy="643.61" r="0.85" fill="#2d3038"/><circle cx="564.10" cy="643.85" r="0.85" fill="#2d3038"/><circle cx="569.94" cy="644.66" r="0.85" fill="#2d3038"/><circle cx="547.23" cy="644.12" r="0.85" fill="#2d3038"/><circle cx="554.13" cy="644.39" r="0.85" fill="#2d3038"/><circle cx="596.26" cy="644.62" r="0.85" fill="#2d3038"/><circle cx="564.95" cy="641.28" r="0.85" fill="#2d3038"/><circle cx="656.32" cy="644.36" r="0.85" fill="#2d3038"/><circle cx="556.56" cy="644.13" r="0.85" fill="#2d3038"/><circle cx="588.79" cy="644.41" r="0.85" fill="#2d3038"/><circle cx="617.95" cy="643.62" r="0.85" fill="#2d3038"/><circle cx="577.52" cy="644.39" r="0.85" fill="#2d3038"/><circle cx="613.03" cy="644.76" r="0.85" fill="#2d3038"/><circle cx="611.69" cy="641.48" r="0.85" fill="#2d3038"/><circle cx="536.72" cy="644.03" r="0.85" fill="#2d3038"/><circle cx="571.47" cy="643.60" r="0.85" fill="#2d3038"/><circle cx="621.85" cy="644.39" r="0.85" fill="#2d3038"/><circle cx="553.86" cy="643.57" r="0.85" fill="#2d3038"/><circle cx="541.16" cy="640.36" r="0.85" fill="#2d3038"/><circle cx="656.96" cy="643.30" r="0.85" fill="#2d3038"/><circle cx="590.01" cy="644.44" r="0.85" fill="#2d3038"/><circle cx="610.16" cy="641.71" r="0.85" fill="#2d3038"/><circle cx="656.75" cy="643.25" r="0.85" fill="#2d3038"/><circle cx="633.04" cy="643.64" r="0.85" fill="#2d3038"/><circle cx="636.00" cy="644.38" r="0.85" fill="#2d3038"/><circle cx="560.53" cy="644.55" r="0.85" fill="#2d3038"/><circle cx="536.45" cy="643.09" r="0.85" fill="#2d3038"/><circle cx="648.36" cy="636.36" r="0.85" fill="#2d3038"/><circle cx="581.98" cy="644.61" r="0.85" fill="#2d3038"/><circle cx="534.60" cy="641.84" r="0.85" fill="#2d3038"/><circle cx="605.55" cy="644.47" r="0.85" fill="#2d3038"/><circle cx="539.51" cy="641.03" r="0.85" fill="#2d3038"/><circle cx="602.72" cy="644.13" r="0.85" fill="#2d3038"/><circle cx="521.57" cy="643.86" r="0.85" fill="#2d3038"/><circle cx="565.16" cy="644.32" r="0.85" fill="#2d3038"/><circle cx="563.08" cy="643.81" r="0.85" fill="#2d3038"/><circle cx="548.07" cy="644.19" r="0.85" fill="#2d3038"/><circle cx="528.73" cy="639.97" r="0.85" fill="#2d3038"/><circle cx="595.92" cy="644.32" r="0.85" fill="#2d3038"/><circle cx="542.59" cy="644.23" r="0.85" fill="#2d3038"/><circle cx="576.55" cy="644.50" r="0.85" fill="#2d3038"/><circle cx="563.11" cy="643.36" r="0.85" fill="#2d3038"/><circle cx="598.18" cy="643.69" r="0.85" fill="#2d3038"/><circle cx="639.27" cy="643.41" r="0.85" fill="#2d3038"/><circle cx="657.53" cy="644.06" r="0.85" fill="#2d3038"/><circle cx="620.47" cy="643.94" r="0.85" fill="#2d3038"/><circle cx="548.11" cy="641.12" r="0.85" fill="#2d3038"/><circle cx="578.48" cy="644.66" r="0.85" fill="#2d3038"/><circle cx="576.06" cy="642.27" r="0.85" fill="#2d3038"/><circle cx="596.11" cy="643.52" r="0.85" fill="#2d3038"/><circle cx="608.41" cy="644.18" r="0.85" fill="#2d3038"/><circle cx="605.86" cy="644.40" r="0.85" fill="#2d3038"/><circle cx="571.18" cy="643.84" r="0.85" fill="#2d3038"/><circle cx="559.09" cy="644.77" r="0.85" fill="#2d3038"/><circle cx="591.92" cy="644.07" r="0.85" fill="#2d3038"/><circle cx="587.69" cy="644.43" r="0.85" fill="#2d3038"/><circle cx="631.06" cy="643.69" r="0.85" fill="#2d3038"/><circle cx="537.48" cy="644.57" r="0.85" fill="#2d3038"/><circle cx="654.63" cy="644.24" r="0.85" fill="#2d3038"/><circle cx="647.81" cy="640.42" r="0.85" fill="#2d3038"/><circle cx="605.61" cy="644.34" r="0.85" fill="#2d3038"/><circle cx="628.44" cy="643.90" r="0.85" fill="#2d3038"/><circle cx="550.65" cy="642.07" r="0.85" fill="#2d3038"/><circle cx="634.43" cy="642.93" r="0.85" fill="#2d3038"/><circle cx="545.25" cy="644.46" r="0.85" fill="#2d3038"/><circle cx="572.93" cy="643.10" r="0.85" fill="#2d3038"/><circle cx="536.98" cy="644.75" r="0.85" fill="#2d3038"/><circle cx="525.67" cy="642.05" r="0.85" fill="#2d3038"/><circle cx="624.53" cy="641.63" r="0.85" fill="#2d3038"/><circle cx="536.25" cy="644.02" r="0.85" fill="#2d3038"/><circle cx="595.91" cy="643.78" r="0.85" fill="#2d3038"/><circle cx="577.97" cy="643.75" r="0.85" fill="#2d3038"/><circle cx="578.75" cy="643.79" r="0.85" fill="#2d3038"/><circle cx="523.23" cy="643.23" r="0.85" fill="#2d3038"/><circle cx="605.41" cy="643.55" r="0.85" fill="#2d3038"/><circle cx="625.37" cy="644.72" r="0.85" fill="#2d3038"/><circle cx="627.64" cy="643.76" r="0.85" fill="#2d3038"/><circle cx="585.30" cy="644.52" r="0.85" fill="#2d3038"/><circle cx="534.78" cy="640.58" r="0.85" fill="#2d3038"/><circle cx="590.40" cy="643.49" r="0.85" fill="#2d3038"/><circle cx="525.63" cy="644.34" r="0.85" fill="#2d3038"/><circle cx="627.31" cy="644.26" r="0.85" fill="#2d3038"/><circle cx="590.58" cy="642.89" r="0.85" fill="#2d3038"/><circle cx="572.15" cy="644.12" r="0.85" fill="#2d3038"/><circle cx="651.22" cy="642.59" r="0.85" fill="#2d3038"/><circle cx="621.03" cy="642.25" r="0.85" fill="#2d3038"/><circle cx="632.47" cy="643.12" r="0.85" fill="#2d3038"/><circle cx="587.88" cy="640.26" r="0.85" fill="#2d3038"/><circle cx="652.02" cy="643.91" r="0.85" fill="#2d3038"/><circle cx="648.42" cy="642.21" r="0.85" fill="#2d3038"/><circle cx="624.35" cy="642.82" r="0.85" fill="#2d3038"/><circle cx="557.95" cy="641.74" r="0.85" fill="#2d3038"/><circle cx="632.56" cy="643.55" r="0.85" fill="#2d3038"/><circle cx="646.95" cy="641.50" r="0.85" fill="#2d3038"/><circle cx="589.83" cy="644.60" r="0.85" fill="#2d3038"/><circle cx="545.13" cy="639.30" r="0.85" fill="#2d3038"/><circle cx="613.80" cy="643.98" r="0.85" fill="#2d3038"/><circle cx="628.31" cy="644.16" r="0.85" fill="#2d3038"/><circle cx="535.88" cy="642.41" r="0.85" fill="#2d3038"/><circle cx="640.47" cy="644.33" r="0.85" fill="#2d3038"/><circle cx="600.05" cy="644.20" r="0.85" fill="#2d3038"/><circle cx="657.03" cy="644.26" r="0.85" fill="#2d3038"/><circle cx="606.91" cy="642.39" r="0.85" fill="#2d3038"/><circle cx="556.54" cy="642.91" r="0.85" fill="#2d3038"/><circle cx="656.69" cy="643.37" r="0.85" fill="#2d3038"/><circle cx="625.52" cy="644.04" r="0.85" fill="#2d3038"/><circle cx="581.03" cy="639.84" r="0.85" fill="#2d3038"/><circle cx="555.00" cy="642.27" r="0.85" fill="#2d3038"/><circle cx="608.21" cy="642.54" r="0.85" fill="#2d3038"/><circle cx="611.59" cy="644.57" r="0.85" fill="#2d3038"/><circle cx="563.15" cy="644.35" r="0.85" fill="#2d3038"/><circle cx="540.61" cy="644.79" r="0.85" fill="#2d3038"/><circle cx="579.65" cy="639.37" r="0.85" fill="#2d3038"/><circle cx="610.13" cy="644.51" r="0.85" fill="#2d3038"/><circle cx="523.08" cy="643.20" r="0.85" fill="#2d3038"/><circle cx="534.68" cy="644.77" r="0.85" fill="#2d3038"/><circle cx="550.95" cy="642.82" r="0.85" fill="#2d3038"/><circle cx="548.18" cy="643.66" r="0.85" fill="#2d3038"/><circle cx="606.10" cy="643.89" r="0.85" fill="#2d3038"/><circle cx="649.25" cy="643.41" r="0.85" fill="#2d3038"/><circle cx="533.22" cy="642.56" r="0.85" fill="#2d3038"/><circle cx="575.47" cy="641.05" r="0.85" fill="#2d3038"/><circle cx="609.00" cy="643.33" r="0.85" fill="#2d3038"/><circle cx="609.09" cy="644.19" r="0.85" fill="#2d3038"/><circle cx="581.24" cy="638.26" r="0.85" fill="#2d3038"/><circle cx="526.07" cy="643.73" r="0.85" fill="#2d3038"/><circle cx="576.03" cy="644.75" r="0.85" fill="#2d3038"/><circle cx="521.70" cy="644.21" r="0.85" fill="#2d3038"/><circle cx="596.03" cy="643.92" r="0.85" fill="#2d3038"/><circle cx="547.53" cy="644.46" r="0.85" fill="#2d3038"/><circle cx="589.96" cy="642.82" r="0.85" fill="#2d3038"/><circle cx="544.10" cy="640.01" r="0.85" fill="#2d3038"/><circle cx="526.69" cy="642.50" r="0.85" fill="#2d3038"/><circle cx="520.88" cy="642.88" r="0.85" fill="#2d3038"/><circle cx="636.53" cy="644.74" r="0.85" fill="#2d3038"/><circle cx="622.36" cy="642.89" r="0.85" fill="#2d3038"/><circle cx="582.44" cy="644.68" r="0.85" fill="#2d3038"/><circle cx="552.06" cy="644.00" r="0.85" fill="#2d3038"/><circle cx="525.36" cy="643.34" r="0.85" fill="#2d3038"/><circle cx="636.66" cy="642.35" r="0.85" fill="#2d3038"/><circle cx="618.21" cy="644.58" r="0.85" fill="#2d3038"/><circle cx="580.18" cy="642.64" r="0.85" fill="#2d3038"/><circle cx="592.21" cy="644.56" r="0.85" fill="#2d3038"/><circle cx="653.19" cy="638.14" r="0.85" fill="#2d3038"/><circle cx="522.10" cy="644.72" r="0.85" fill="#2d3038"/><circle cx="622.66" cy="643.55" r="0.85" fill="#2d3038"/><circle cx="650.37" cy="644.76" r="0.85" fill="#2d3038"/><circle cx="565.34" cy="643.28" r="0.85" fill="#2d3038"/><circle cx="553.01" cy="642.78" r="0.85" fill="#2d3038"/><circle cx="615.61" cy="643.47" r="0.85" fill="#2d3038"/><circle cx="611.80" cy="642.89" r="0.85" fill="#2d3038"/><circle cx="635.88" cy="644.55" r="0.85" fill="#2d3038"/><circle cx="616.27" cy="643.65" r="0.85" fill="#2d3038"/><circle cx="620.00" cy="643.37" r="0.85" fill="#2d3038"/><circle cx="598.71" cy="644.38" r="0.85" fill="#2d3038"/><circle cx="605.92" cy="643.70" r="0.85" fill="#2d3038"/><circle cx="530.74" cy="642.46" r="0.85" fill="#2d3038"/><circle cx="648.19" cy="643.07" r="0.85" fill="#2d3038"/><circle cx="523.97" cy="642.26" r="0.85" fill="#2d3038"/><circle cx="607.48" cy="644.12" r="0.85" fill="#2d3038"/><circle cx="616.19" cy="644.75" r="0.85" fill="#2d3038"/><circle cx="601.49" cy="644.17" r="0.85" fill="#2d3038"/><circle cx="570.15" cy="643.50" r="0.85" fill="#2d3038"/><circle cx="643.00" cy="637.74" r="0.85" fill="#2d3038"/><circle cx="646.19" cy="642.94" r="0.85" fill="#2d3038"/><circle cx="524.75" cy="644.52" r="0.85" fill="#2d3038"/><circle cx="636.98" cy="643.88" r="0.85" fill="#2d3038"/><circle cx="633.86" cy="642.55" r="0.85" fill="#2d3038"/><circle cx="607.15" cy="644.62" r="0.85" fill="#2d3038"/><circle cx="533.50" cy="644.04" r="0.85" fill="#2d3038"/><circle cx="548.29" cy="644.04" r="0.85" fill="#2d3038"/><circle cx="522.89" cy="643.17" r="0.85" fill="#2d3038"/><circle cx="555.42" cy="644.25" r="0.85" fill="#2d3038"/><circle cx="570.79" cy="642.14" r="0.85" fill="#2d3038"/><circle cx="564.27" cy="642.83" r="0.85" fill="#2d3038"/><circle cx="637.49" cy="644.35" r="0.85" fill="#2d3038"/><circle cx="605.32" cy="643.07" r="0.85" fill="#2d3038"/><circle cx="580.23" cy="644.46" r="0.85" fill="#2d3038"/><circle cx="567.86" cy="644.20" r="0.85" fill="#2d3038"/><circle cx="549.89" cy="642.76" r="0.85" fill="#2d3038"/><circle cx="638.99" cy="642.13" r="0.85" fill="#2d3038"/><circle cx="543.51" cy="641.15" r="0.85" fill="#2d3038"/><circle cx="625.18" cy="644.64" r="0.85" fill="#2d3038"/><circle cx="587.73" cy="644.78" r="0.85" fill="#2d3038"/><circle cx="587.82" cy="644.48" r="0.85" fill="#2d3038"/><circle cx="588.25" cy="643.75" r="0.85" fill="#2d3038"/><circle cx="567.91" cy="644.15" r="0.85" fill="#2d3038"/><circle cx="650.25" cy="642.13" r="0.85" fill="#2d3038"/><circle cx="616.53" cy="643.97" r="0.85" fill="#2d3038"/><circle cx="607.84" cy="644.79" r="0.85" fill="#2d3038"/><circle cx="531.16" cy="644.18" r="0.85" fill="#2d3038"/><circle cx="606.65" cy="642.23" r="0.85" fill="#2d3038"/><circle cx="569.08" cy="643.40" r="0.85" fill="#2d3038"/><circle cx="642.88" cy="639.55" r="0.85" fill="#2d3038"/><circle cx="523.47" cy="644.44" r="0.85" fill="#2d3038"/><circle cx="644.37" cy="643.51" r="0.85" fill="#2d3038"/><circle cx="572.34" cy="643.87" r="0.85" fill="#2d3038"/><circle cx="583.61" cy="643.97" r="0.85" fill="#2d3038"/><circle cx="593.35" cy="644.72" r="0.85" fill="#2d3038"/><circle cx="609.19" cy="641.94" r="0.85" fill="#2d3038"/><circle cx="568.09" cy="644.34" r="0.85" fill="#2d3038"/><circle cx="636.35" cy="643.92" r="0.85" fill="#2d3038"/><circle cx="611.37" cy="644.75" r="0.85" fill="#2d3038"/><circle cx="580.55" cy="643.76" r="0.85" fill="#2d3038"/><circle cx="599.93" cy="643.46" r="0.85" fill="#2d3038"/><circle cx="642.15" cy="642.02" r="0.85" fill="#2d3038"/><circle cx="589.57" cy="586.52" r="0.85" fill="#7a2424"/><circle cx="594.56" cy="583.77" r="0.85" fill="#7a2424"/><circle cx="588.24" cy="584.24" r="0.85" fill="#7a2424"/><circle cx="589.80" cy="585.61" r="0.85" fill="#7a2424"/><circle cx="588.28" cy="584.64" r="0.85" fill="#7a2424"/><circle cx="588.54" cy="587.88" r="0.85" fill="#7a2424"/><circle cx="593.50" cy="583.51" r="0.85" fill="#7a2424"/><circle cx="595.65" cy="583.51" r="0.85" fill="#7a2424"/><circle cx="590.33" cy="587.92" r="0.85" fill="#7a2424"/><circle cx="594.11" cy="586.67" r="0.85" fill="#7a2424"/><circle cx="590.80" cy="583.98" r="0.85" fill="#7a2424"/><circle cx="592.67" cy="583.53" r="0.85" fill="#7a2424"/><circle cx="588.70" cy="584.94" r="0.85" fill="#7a2424"/><circle cx="587.11" cy="585.00" r="0.85" fill="#7a2424"/><circle cx="594.08" cy="586.47" r="0.85" fill="#7a2424"/><circle cx="591.40" cy="586.16" r="0.85" fill="#7a2424"/><circle cx="591.06" cy="583.71" r="0.85" fill="#7a2424"/><circle cx="592.35" cy="585.02" r="0.85" fill="#7a2424"/><circle cx="593.62" cy="587.54" r="0.85" fill="#7a2424"/><circle cx="590.76" cy="585.87" r="0.85" fill="#7a2424"/><circle cx="593.69" cy="585.11" r="0.85" fill="#7a2424"/><circle cx="588.90" cy="586.61" r="0.85" fill="#7a2424"/><circle cx="594.90" cy="586.87" r="0.85" fill="#7a2424"/><circle cx="593.24" cy="587.26" r="0.85" fill="#7a2424"/><circle cx="593.05" cy="586.21" r="0.85" fill="#7a2424"/><circle cx="590.98" cy="584.57" r="0.85" fill="#7a2424"/><circle cx="592.58" cy="583.49" r="0.85" fill="#7a2424"/><circle cx="590.66" cy="586.91" r="0.85" fill="#7a2424"/><circle cx="593.36" cy="586.15" r="0.85" fill="#7a2424"/><circle cx="589.10" cy="585.12" r="0.85" fill="#7a2424"/><circle cx="590.99" cy="586.11" r="0.85" fill="#7a2424"/><circle cx="590.57" cy="586.38" r="0.85" fill="#7a2424"/><circle cx="595.36" cy="583.92" r="0.85" fill="#7a2424"/><circle cx="592.82" cy="586.89" r="0.85" fill="#7a2424"/><circle cx="590.38" cy="585.45" r="0.85" fill="#7a2424"/><circle cx="595.77" cy="583.19" r="0.85" fill="#7a2424"/><circle cx="591.80" cy="583.80" r="0.85" fill="#7a2424"/><circle cx="593.99" cy="587.70" r="0.85" fill="#7a2424"/><circle cx="591.58" cy="583.51" r="0.85" fill="#7a2424"/><circle cx="592.09" cy="585.71" r="0.85" fill="#7a2424"/><circle cx="593.40" cy="585.56" r="0.85" fill="#7a2424"/><circle cx="592.68" cy="587.14" r="0.85" fill="#7a2424"/><circle cx="591.60" cy="585.05" r="0.85" fill="#7a2424"/><circle cx="595.52" cy="584.05" r="0.85" fill="#7a2424"/><circle cx="593.10" cy="584.96" r="0.85" fill="#7a2424"/><circle cx="601.03" cy="586.31" r="0.85" fill="#8c6a34"/><circle cx="602.50" cy="586.89" r="0.85" fill="#8c6a34"/><circle cx="596.37" cy="586.69" r="0.85" fill="#8c6a34"/><circle cx="598.64" cy="586.03" r="0.85" fill="#8c6a34"/><circle cx="598.76" cy="587.05" r="0.85" fill="#8c6a34"/><circle cx="600.61" cy="586.88" r="0.85" fill="#8c6a34"/><circle cx="597.75" cy="586.56" r="0.85" fill="#8c6a34"/><circle cx="600.89" cy="588.35" r="0.85" fill="#8c6a34"/><circle cx="599.48" cy="586.55" r="0.85" fill="#8c6a34"/><circle cx="601.29" cy="586.98" r="0.85" fill="#8c6a34"/><circle cx="597.40" cy="586.32" r="0.85" fill="#8c6a34"/><circle cx="601.13" cy="588.02" r="0.85" fill="#8c6a34"/><circle cx="590.10" cy="595.81" r="0.85" fill="#7a2424"/><circle cx="589.72" cy="594.36" r="0.85" fill="#7a2424"/><circle cx="591.81" cy="595.12" r="0.85" fill="#7a2424"/><circle cx="590.12" cy="597.91" r="0.85" fill="#7a2424"/><circle cx="591.04" cy="595.81" r="0.85" fill="#7a2424"/><circle cx="588.33" cy="596.29" r="0.85" fill="#7a2424"/><circle cx="587.45" cy="598.00" r="0.85" fill="#7a2424"/><circle cx="588.64" cy="598.10" r="0.85" fill="#7a2424"/><circle cx="588.19" cy="595.26" r="0.85" fill="#7a2424"/><circle cx="588.12" cy="595.56" r="0.85" fill="#7a2424"/><circle cx="587.77" cy="593.02" r="0.85" fill="#7a2424"/><circle cx="590.55" cy="594.69" r="0.85" fill="#7a2424"/><circle cx="588.07" cy="594.81" r="0.85" fill="#7a2424"/><circle cx="589.29" cy="595.57" r="0.85" fill="#7a2424"/><circle cx="590.11" cy="596.96" r="0.85" fill="#7a2424"/><circle cx="588.68" cy="598.57" r="0.85" fill="#7a2424"/><circle cx="591.24" cy="593.34" r="0.85" fill="#7a2424"/><circle cx="591.11" cy="598.43" r="0.85" fill="#7a2424"/><circle cx="590.88" cy="593.84" r="0.85" fill="#7a2424"/><circle cx="591.12" cy="596.80" r="0.85" fill="#7a2424"/><circle cx="586.88" cy="593.07" r="0.85" fill="#7a2424"/><circle cx="591.75" cy="596.94" r="0.85" fill="#7a2424"/><circle cx="588.10" cy="593.61" r="0.85" fill="#7a2424"/><circle cx="587.54" cy="594.40" r="0.85" fill="#7a2424"/><circle cx="590.84" cy="595.08" r="0.85" fill="#7a2424"/><circle cx="587.59" cy="598.42" r="0.85" fill="#7a2424"/><circle cx="590.92" cy="594.01" r="0.85" fill="#7a2424"/><circle cx="591.43" cy="596.65" r="0.85" fill="#7a2424"/><circle cx="590.86" cy="597.01" r="0.85" fill="#7a2424"/><circle cx="591.45" cy="597.73" r="0.85" fill="#7a2424"/><circle cx="602.74" cy="593.79" r="0.85" fill="#8c6a34"/><circle cx="600.87" cy="595.12" r="0.85" fill="#8c6a34"/><circle cx="601.50" cy="594.75" r="0.85" fill="#8c6a34"/><circle cx="603.30" cy="595.22" r="0.85" fill="#8c6a34"/><circle cx="595.39" cy="593.94" r="0.85" fill="#8c6a34"/><circle cx="593.78" cy="594.97" r="0.85" fill="#8c6a34"/><circle cx="592.75" cy="594.87" r="0.85" fill="#8c6a34"/><circle cx="593.85" cy="594.97" r="0.85" fill="#8c6a34"/><circle cx="598.38" cy="595.16" r="0.85" fill="#8c6a34"/><circle cx="603.04" cy="593.03" r="0.85" fill="#8c6a34"/><circle cx="602.76" cy="594.87" r="0.85" fill="#8c6a34"/><circle cx="599.20" cy="595.66" r="0.85" fill="#8c6a34"/><circle cx="602.76" cy="594.50" r="0.85" fill="#8c6a34"/><circle cx="597.36" cy="596.84" r="0.85" fill="#8c6a34"/><circle cx="592.97" cy="595.55" r="0.85" fill="#8c6a34"/><circle cx="600.14" cy="593.11" r="0.85" fill="#8c6a34"/><circle cx="599.80" cy="595.73" r="0.85" fill="#8c6a34"/><circle cx="603.92" cy="594.32" r="0.85" fill="#8c6a34"/><circle cx="604.57" cy="595.04" r="0.85" fill="#8c6a34"/><circle cx="598.20" cy="596.59" r="0.85" fill="#8c6a34"/><circle cx="592.43" cy="595.87" r="0.85" fill="#8c6a34"/><circle cx="600.00" cy="594.35" r="0.85" fill="#8c6a34"/><circle cx="603.03" cy="594.46" r="0.85" fill="#8c6a34"/><circle cx="598.07" cy="595.10" r="0.85" fill="#8c6a34"/><circle cx="601.86" cy="593.84" r="0.85" fill="#8c6a34"/><circle cx="597.57" cy="594.69" r="0.85" fill="#8c6a34"/><circle cx="599.09" cy="596.31" r="0.85" fill="#8c6a34"/><circle cx="595.75" cy="596.31" r="0.85" fill="#8c6a34"/><circle cx="597.17" cy="595.01" r="0.85" fill="#8c6a34"/><circle cx="595.48" cy="595.03" r="0.85" fill="#8c6a34"/><circle cx="611.08" cy="597.20" r="0.85" fill="#4d7a35"/><circle cx="609.49" cy="593.64" r="0.85" fill="#4d7a35"/><circle cx="605.36" cy="593.29" r="0.85" fill="#4d7a35"/><circle cx="607.70" cy="596.98" r="0.85" fill="#4d7a35"/><circle cx="609.42" cy="590.44" r="0.85" fill="#4d7a35"/><circle cx="608.89" cy="599.74" r="0.85" fill="#4d7a35"/><circle cx="607.34" cy="590.55" r="0.85" fill="#4d7a35"/><circle cx="605.21" cy="590.07" r="0.85" fill="#4d7a35"/><circle cx="604.25" cy="600.14" r="0.85" fill="#4d7a35"/><circle cx="607.90" cy="597.24" r="0.85" fill="#4d7a35"/><circle cx="609.46" cy="600.01" r="0.85" fill="#4d7a35"/><circle cx="607.92" cy="596.78" r="0.85" fill="#4d7a35"/><circle cx="608.05" cy="597.66" r="0.85" fill="#4d7a35"/><circle cx="607.79" cy="597.49" r="0.85" fill="#4d7a35"/><circle cx="604.45" cy="597.34" r="0.85" fill="#4d7a35"/><circle cx="606.58" cy="598.39" r="0.85" fill="#4d7a35"/><circle cx="603.48" cy="591.99" r="0.85" fill="#4d7a35"/><circle cx="602.92" cy="598.52" r="0.85" fill="#4d7a35"/><circle cx="610.55" cy="597.21" r="0.85" fill="#4d7a35"/><circle cx="605.81" cy="599.05" r="0.85" fill="#4d7a35"/><circle cx="609.44" cy="596.18" r="0.85" fill="#4d7a35"/><circle cx="604.84" cy="593.32" r="0.85" fill="#4d7a35"/><circle cx="606.27" cy="593.50" r="0.85" fill="#4d7a35"/><circle cx="606.35" cy="597.06" r="0.85" fill="#4d7a35"/><circle cx="610.72" cy="590.60" r="0.85" fill="#4d7a35"/><circle cx="607.54" cy="590.43" r="0.85" fill="#4d7a35"/><circle cx="603.63" cy="598.91" r="0.85" fill="#4d7a35"/><circle cx="607.61" cy="600.10" r="0.85" fill="#4d7a35"/><circle cx="606.48" cy="590.16" r="0.85" fill="#4d7a35"/><circle cx="605.97" cy="596.51" r="0.85" fill="#4d7a35"/><circle cx="610.76" cy="600.79" r="0.85" fill="#4d7a35"/><circle cx="606.74" cy="594.54" r="0.85" fill="#4d7a35"/><circle cx="603.49" cy="597.09" r="0.85" fill="#4d7a35"/><circle cx="604.45" cy="591.67" r="0.85" fill="#4d7a35"/><circle cx="602.74" cy="590.05" r="0.85" fill="#4d7a35"/><circle cx="614.72" cy="625.52" r="0.85" fill="#4d7a35"/><circle cx="611.23" cy="605.46" r="0.85" fill="#2d3038"/><circle cx="615.28" cy="626.63" r="0.85" fill="#4f7d8c"/><circle cx="617.10" cy="636.63" r="0.85" fill="#4f7d8c"/><circle cx="614.98" cy="626.86" r="0.85" fill="#2d3038"/><circle cx="614.99" cy="614.01" r="0.85" fill="#4d7a35"/><circle cx="614.71" cy="624.80" r="0.85" fill="#4d7a35"/><circle cx="612.97" cy="611.96" r="0.85" fill="#2d3038"/><circle cx="614.63" cy="622.07" r="0.85" fill="#2d3038"/><circle cx="613.22" cy="616.10" r="0.85" fill="#4d7a35"/><circle cx="613.57" cy="611.04" r="0.85" fill="#2d3038"/><circle cx="614.74" cy="615.17" r="0.85" fill="#2d3038"/><circle cx="616.55" cy="628.68" r="0.85" fill="#4d7a35"/><circle cx="615.53" cy="622.29" r="0.85" fill="#2d3038"/><circle cx="617.56" cy="632.19" r="0.85" fill="#4f7d8c"/><circle cx="614.55" cy="620.47" r="0.85" fill="#4f7d8c"/><circle cx="613.77" cy="611.49" r="0.85" fill="#4f7d8c"/><circle cx="616.04" cy="629.10" r="0.85" fill="#2d3038"/><circle cx="611.69" cy="608.23" r="0.85" fill="#4d7a35"/><circle cx="611.80" cy="608.89" r="0.85" fill="#4f7d8c"/><circle cx="613.40" cy="608.16" r="0.85" fill="#2d3038"/><circle cx="612.11" cy="610.23" r="0.85" fill="#2d3038"/><circle cx="612.60" cy="605.99" r="0.85" fill="#4f7d8c"/><circle cx="611.76" cy="608.46" r="0.85" fill="#4f7d8c"/><circle cx="617.65" cy="635.02" r="0.85" fill="#2d3038"/><circle cx="612.96" cy="615.30" r="0.85" fill="#4d7a35"/><circle cx="612.44" cy="606.97" r="0.85" fill="#2d3038"/><circle cx="614.29" cy="614.52" r="0.85" fill="#4f7d8c"/><circle cx="611.93" cy="601.30" r="0.85" fill="#2d3038"/><circle cx="613.56" cy="611.41" r="0.85" fill="#4d7a35"/><circle cx="617.40" cy="636.90" r="0.85" fill="#2d3038"/><circle cx="615.94" cy="621.24" r="0.85" fill="#4d7a35"/><circle cx="613.13" cy="608.87" r="0.85" fill="#4d7a35"/><circle cx="612.92" cy="605.24" r="0.85" fill="#4f7d8c"/><circle cx="613.13" cy="606.82" r="0.85" fill="#2d3038"/><circle cx="617.02" cy="629.46" r="0.85" fill="#2d3038"/><circle cx="616.44" cy="633.26" r="0.85" fill="#2d3038"/><circle cx="610.05" cy="601.73" r="0.85" fill="#2d3038"/><circle cx="614.98" cy="616.64" r="0.85" fill="#2d3038"/><circle cx="617.91" cy="635.02" r="0.85" fill="#2d3038"/><circle cx="615.07" cy="620.11" r="0.85" fill="#2d3038"/><circle cx="612.71" cy="604.08" r="0.85" fill="#4f7d8c"/><circle cx="617.27" cy="638.46" r="0.85" fill="#2d3038"/><circle cx="616.50" cy="637.09" r="0.85" fill="#4d7a35"/><circle cx="615.69" cy="632.44" r="0.85" fill="#2d3038"/><circle cx="610.07" cy="601.55" r="0.85" fill="#4f7d8c"/><circle cx="615.09" cy="624.30" r="0.85" fill="#4d7a35"/><circle cx="613.72" cy="614.76" r="0.85" fill="#2d3038"/><circle cx="613.31" cy="614.83" r="0.85" fill="#4f7d8c"/><circle cx="618.30" cy="635.52" r="0.85" fill="#4f7d8c"/><circle cx="615.67" cy="630.67" r="0.85" fill="#4d7a35"/><circle cx="618.39" cy="637.53" r="0.85" fill="#4f7d8c"/><circle cx="617.44" cy="629.90" r="0.85" fill="#2d3038"/><circle cx="617.12" cy="631.88" r="0.85" fill="#2d3038"/><circle cx="612.28" cy="608.27" r="0.85" fill="#2d3038"/><circle cx="587.48" cy="610.64" r="0.85" fill="#2d3038"/><circle cx="585.75" cy="629.84" r="0.85" fill="#2d3038"/><circle cx="595.78" cy="607.64" r="0.85" fill="#2d3038"/><circle cx="602.19" cy="612.39" r="0.85" fill="#2d3038"/><circle cx="592.92" cy="608.07" r="0.85" fill="#2d3038"/><circle cx="590.08" cy="634.74" r="0.85" fill="#2d3038"/><circle cx="591.36" cy="608.54" r="0.85" fill="#2d3038"/><circle cx="594.52" cy="614.40" r="0.85" fill="#2d3038"/><circle cx="602.84" cy="606.45" r="0.85" fill="#2d3038"/><circle cx="604.37" cy="604.22" r="0.85" fill="#2d3038"/><circle cx="602.68" cy="628.06" r="0.85" fill="#2d3038"/><circle cx="588.87" cy="620.62" r="0.85" fill="#2d3038"/><circle cx="590.38" cy="612.05" r="0.85" fill="#2d3038"/><circle cx="588.67" cy="616.21" r="0.85" fill="#2d3038"/><circle cx="604.62" cy="640.93" r="0.85" fill="#2d3038"/><circle cx="603.29" cy="605.81" r="0.85" fill="#2d3038"/><circle cx="590.45" cy="636.95" r="0.85" fill="#2d3038"/><circle cx="585.76" cy="630.33" r="0.85" fill="#2d3038"/><circle cx="590.53" cy="640.17" r="0.85" fill="#2d3038"/><circle cx="584.92" cy="633.47" r="0.85" fill="#2d3038"/><circle cx="591.49" cy="607.47" r="0.85" fill="#2d3038"/><circle cx="584.64" cy="634.46" r="0.85" fill="#2d3038"/><circle cx="595.24" cy="609.25" r="0.85" fill="#2d3038"/><circle cx="593.39" cy="637.57" r="0.85" fill="#2d3038"/><circle cx="589.01" cy="624.28" r="0.85" fill="#2d3038"/><circle cx="590.85" cy="619.44" r="0.85" fill="#7a2424"/><circle cx="592.43" cy="623.69" r="0.85" fill="#7a2424"/><circle cx="590.99" cy="618.63" r="0.85" fill="#7a2424"/><circle cx="590.72" cy="622.87" r="0.85" fill="#7a2424"/><circle cx="591.74" cy="620.19" r="0.85" fill="#7a2424"/><circle cx="591.02" cy="622.90" r="0.85" fill="#7a2424"/><circle cx="592.27" cy="624.49" r="0.85" fill="#7a2424"/><circle cx="591.96" cy="619.62" r="0.85" fill="#7a2424"/><circle cx="583.66" cy="625.19" r="0.85" fill="#8c6a34"/><circle cx="584.52" cy="624.99" r="0.85" fill="#8c6a34"/><circle cx="583.64" cy="626.59" r="0.85" fill="#8c6a34"/><circle cx="584.34" cy="627.15" r="0.85" fill="#8c6a34"/><circle cx="585.66" cy="620.87" r="0.85" fill="#8c6a34"/><circle cx="583.54" cy="628.38" r="0.85" fill="#8c6a34"/><circle cx="531.65" cy="643.16" r="0.85" fill="#2d3038"/><circle cx="526.29" cy="635.95" r="0.85" fill="#2d3038"/><circle cx="540.71" cy="637.85" r="0.85" fill="#2d3038"/><circle cx="523.67" cy="637.90" r="0.85" fill="#2d3038"/><circle cx="534.67" cy="634.05" r="0.85" fill="#2d3038"/><circle cx="532.76" cy="638.68" r="0.85" fill="#2d3038"/><circle cx="532.65" cy="635.27" r="0.85" fill="#2d3038"/><circle cx="537.72" cy="642.57" r="0.85" fill="#2d3038"/><circle cx="541.57" cy="637.37" r="0.85" fill="#2d3038"/><circle cx="537.64" cy="638.00" r="0.85" fill="#2d3038"/><circle cx="538.66" cy="634.64" r="0.85" fill="#2d3038"/><circle cx="541.76" cy="644.02" r="0.85" fill="#2d3038"/><circle cx="532.12" cy="639.39" r="0.85" fill="#2d3038"/><circle cx="533.03" cy="639.64" r="0.85" fill="#2d3038"/><circle cx="520.03" cy="644.16" r="0.85" fill="#2d3038"/><circle cx="525.20" cy="635.92" r="0.85" fill="#2d3038"/><circle cx="522.12" cy="636.63" r="0.85" fill="#2d3038"/><circle cx="540.34" cy="634.32" r="0.85" fill="#2d3038"/><circle cx="521.96" cy="641.34" r="0.85" fill="#2d3038"/><circle cx="524.47" cy="634.19" r="0.85" fill="#2d3038"/><circle cx="534.78" cy="640.05" r="0.85" fill="#2d3038"/><circle cx="532.83" cy="641.38" r="0.85" fill="#2d3038"/><circle cx="522.12" cy="643.13" r="0.85" fill="#2d3038"/><circle cx="537.79" cy="634.47" r="0.85" fill="#2d3038"/><circle cx="522.64" cy="639.18" r="0.85" fill="#2d3038"/><circle cx="532.27" cy="636.94" r="0.85" fill="#2d3038"/><circle cx="522.61" cy="638.26" r="0.85" fill="#2d3038"/><circle cx="522.99" cy="640.21" r="0.85" fill="#2d3038"/><circle cx="541.46" cy="635.55" r="0.85" fill="#2d3038"/><circle cx="534.11" cy="641.84" r="0.85" fill="#2d3038"/><circle cx="523.69" cy="642.67" r="0.85" fill="#2d3038"/><circle cx="543.41" cy="638.08" r="0.85" fill="#2d3038"/><circle cx="530.22" cy="642.82" r="0.85" fill="#2d3038"/><circle cx="532.90" cy="638.15" r="0.85" fill="#2d3038"/><circle cx="543.50" cy="642.16" r="0.85" fill="#2d3038"/><circle cx="528.13" cy="636.52" r="0.85" fill="#2d3038"/><circle cx="528.04" cy="638.57" r="0.85" fill="#2d3038"/><circle cx="544.52" cy="642.45" r="0.85" fill="#2d3038"/><circle cx="542.78" cy="642.56" r="0.85" fill="#2d3038"/><circle cx="541.11" cy="634.56" r="0.85" fill="#2d3038"/><circle cx="532.69" cy="644.06" r="0.85" fill="#2d3038"/><circle cx="543.33" cy="636.62" r="0.85" fill="#2d3038"/><circle cx="530.26" cy="640.64" r="0.85" fill="#2d3038"/><circle cx="528.79" cy="639.57" r="0.85" fill="#2d3038"/><circle cx="521.27" cy="638.55" r="0.85" fill="#2d3038"/><circle cx="532.37" cy="634.22" r="0.85" fill="#2d3038"/><circle cx="523.05" cy="644.18" r="0.85" fill="#2d3038"/><circle cx="539.30" cy="643.84" r="0.85" fill="#2d3038"/><circle cx="535.65" cy="642.50" r="0.85" fill="#2d3038"/><circle cx="542.05" cy="643.29" r="0.85" fill="#2d3038"/><circle cx="520.38" cy="640.74" r="0.85" fill="#2d3038"/><circle cx="526.28" cy="641.12" r="0.85" fill="#2d3038"/><circle cx="526.47" cy="639.69" r="0.85" fill="#2d3038"/><circle cx="543.07" cy="640.52" r="0.85" fill="#2d3038"/><circle cx="525.89" cy="639.46" r="0.85" fill="#2d3038"/><circle cx="530.56" cy="643.98" r="0.85" fill="#2d3038"/><circle cx="526.83" cy="637.21" r="0.85" fill="#2d3038"/><circle cx="536.01" cy="635.26" r="0.85" fill="#2d3038"/><circle cx="534.65" cy="644.04" r="0.85" fill="#2d3038"/><circle cx="532.60" cy="636.82" r="0.85" fill="#2d3038"/><circle cx="643.46" cy="640.54" r="0.85" fill="#2d3038"/><circle cx="638.37" cy="637.05" r="0.85" fill="#2d3038"/><circle cx="638.10" cy="638.50" r="0.85" fill="#2d3038"/><circle cx="642.50" cy="638.45" r="0.85" fill="#2d3038"/><circle cx="639.89" cy="636.75" r="0.85" fill="#2d3038"/><circle cx="644.74" cy="643.14" r="0.85" fill="#2d3038"/><circle cx="645.76" cy="640.85" r="0.85" fill="#2d3038"/><circle cx="646.41" cy="637.71" r="0.85" fill="#2d3038"/><circle cx="647.37" cy="639.92" r="0.85" fill="#2d3038"/><circle cx="644.77" cy="641.21" r="0.85" fill="#2d3038"/><circle cx="643.50" cy="638.64" r="0.85" fill="#2d3038"/><circle cx="639.88" cy="637.88" r="0.85" fill="#2d3038"/><circle cx="644.20" cy="639.26" r="0.85" fill="#2d3038"/><circle cx="645.37" cy="636.10" r="0.85" fill="#2d3038"/><circle cx="641.64" cy="643.33" r="0.85" fill="#2d3038"/><circle cx="639.82" cy="640.73" r="0.85" fill="#2d3038"/><circle cx="643.86" cy="638.42" r="0.85" fill="#2d3038"/><circle cx="651.80" cy="638.51" r="0.85" fill="#2d3038"/><circle cx="648.35" cy="637.35" r="0.85" fill="#2d3038"/><circle cx="637.07" cy="643.41" r="0.85" fill="#2d3038"/><circle cx="643.04" cy="636.53" r="0.85" fill="#2d3038"/><circle cx="642.21" cy="639.74" r="0.85" fill="#2d3038"/><circle cx="647.77" cy="636.93" r="0.85" fill="#2d3038"/><circle cx="639.60" cy="644.15" r="0.85" fill="#2d3038"/><circle cx="647.82" cy="637.31" r="0.85" fill="#2d3038"/><circle cx="558.78" cy="640.29" r="0.85" fill="#2d3038"/><circle cx="569.61" cy="642.01" r="0.85" fill="#2d3038"/><circle cx="575.20" cy="643.34" r="0.85" fill="#2d3038"/><circle cx="564.57" cy="642.80" r="0.85" fill="#2d3038"/><circle cx="571.78" cy="642.94" r="0.85" fill="#2d3038"/><circle cx="563.21" cy="643.10" r="0.85" fill="#2d3038"/><circle cx="570.67" cy="643.95" r="0.85" fill="#2d3038"/><circle cx="552.07" cy="643.66" r="0.85" fill="#2d3038"/><circle cx="548.14" cy="642.98" r="0.85" fill="#2d3038"/><circle cx="566.75" cy="641.24" r="0.85" fill="#2d3038"/><circle cx="578.81" cy="641.72" r="0.85" fill="#2d3038"/><circle cx="561.37" cy="643.09" r="0.85" fill="#2d3038"/><circle cx="575.93" cy="641.95" r="0.85" fill="#2d3038"/><circle cx="560.15" cy="640.94" r="0.85" fill="#2d3038"/><circle cx="562.65" cy="642.70" r="0.85" fill="#2d3038"/><circle cx="557.37" cy="640.54" r="0.85" fill="#2d3038"/><circle cx="565.77" cy="640.50" r="0.85" fill="#2d3038"/><circle cx="558.30" cy="643.12" r="0.85" fill="#2d3038"/><circle cx="575.19" cy="641.25" r="0.85" fill="#2d3038"/><circle cx="562.21" cy="639.20" r="0.85" fill="#2d3038"/>
<rect x="519.0" y="569.8" width="140.2" height="78.0" fill="none" stroke="#4d4d4d" stroke-width="1.0"/>
<rect x="519.00" y="654.10" width="140.20" height="79.10" fill="#f1f1f1" stroke="#4d4d4d" stroke-width="1.0"/>
<line x1="527.10" y1="729.70" x2="527.10" y2="710.60" stroke="#3a62c0" stroke-width="1.1"/>
<line x1="542.80" y1="729.70" x2="542.80" y2="713.80" stroke="#3a62c0" stroke-width="1.1"/>
<line x1="550.70" y1="729.70" x2="550.70" y2="708.40" stroke="#3a62c0" stroke-width="1.1"/>
<line x1="554.70" y1="729.70" x2="554.70" y2="712.20" stroke="#3a62c0" stroke-width="1.1"/>
<line x1="569.80" y1="729.70" x2="569.80" y2="707.50" stroke="#3a62c0" stroke-width="1.1"/>
<line x1="578.30" y1="729.70" x2="578.30" y2="709.10" stroke="#3a62c0" stroke-width="1.1"/>
<line x1="581.40" y1="729.70" x2="581.40" y2="707.50" stroke="#3a62c0" stroke-width="1.1"/>
<line x1="594.90" y1="729.70" x2="594.90" y2="722.20" stroke="#3a62c0" stroke-width="1.1"/>
<line x1="600.30" y1="729.70" x2="600.30" y2="720.00" stroke="#3a62c0" stroke-width="1.1"/>
<line x1="615.00" y1="729.70" x2="615.00" y2="718.50" stroke="#3a62c0" stroke-width="1.1"/>
<line x1="619.10" y1="729.70" x2="619.10" y2="715.30" stroke="#3a62c0" stroke-width="1.1"/>
<line x1="626.00" y1="729.70" x2="626.00" y2="722.20" stroke="#3a62c0" stroke-width="1.1"/>
<line x1="648.90" y1="729.70" x2="648.90" y2="683.90" stroke="#3a62c0" stroke-width="1.1"/>
<line x1="519.50" y1="729.60" x2="658.50" y2="729.60" stroke="#4a6fb8" stroke-width="0.6" opacity="0.7"/>
<circle cx="561.96" cy="726.96" r="0.85" fill="#2d3038"/><circle cx="600.26" cy="726.43" r="0.85" fill="#2d3038"/><circle cx="532.13" cy="727.02" r="0.85" fill="#2d3038"/><circle cx="635.67" cy="727.82" r="0.85" fill="#2d3038"/><circle cx="652.31" cy="728.12" r="0.85" fill="#2d3038"/><circle cx="521.48" cy="726.48" r="0.85" fill="#2d3038"/><circle cx="526.55" cy="726.33" r="0.85" fill="#2d3038"/><circle cx="626.74" cy="727.73" r="0.85" fill="#2d3038"/><circle cx="594.31" cy="726.03" r="0.85" fill="#2d3038"/><circle cx="591.38" cy="728.77" r="0.85" fill="#2d3038"/><circle cx="614.56" cy="727.14" r="0.85" fill="#2d3038"/><circle cx="602.07" cy="727.42" r="0.85" fill="#2d3038"/><circle cx="568.45" cy="725.54" r="0.85" fill="#2d3038"/><circle cx="592.48" cy="727.69" r="0.85" fill="#2d3038"/><circle cx="533.66" cy="727.16" r="0.85" fill="#2d3038"/><circle cx="599.22" cy="727.15" r="0.85" fill="#2d3038"/><circle cx="641.42" cy="726.22" r="0.85" fill="#2d3038"/><circle cx="606.20" cy="728.21" r="0.85" fill="#2d3038"/><circle cx="657.47" cy="727.24" r="0.85" fill="#2d3038"/><circle cx="632.59" cy="726.45" r="0.85" fill="#2d3038"/><circle cx="543.56" cy="726.17" r="0.85" fill="#2d3038"/><circle cx="590.74" cy="723.02" r="0.85" fill="#2d3038"/><circle cx="535.25" cy="726.03" r="0.85" fill="#2d3038"/><circle cx="656.65" cy="726.64" r="0.85" fill="#2d3038"/><circle cx="642.56" cy="723.98" r="0.85" fill="#2d3038"/><circle cx="589.67" cy="728.16" r="0.85" fill="#2d3038"/><circle cx="545.96" cy="727.47" r="0.85" fill="#2d3038"/><circle cx="568.74" cy="725.85" r="0.85" fill="#2d3038"/><circle cx="657.14" cy="728.36" r="0.85" fill="#2d3038"/><circle cx="576.78" cy="728.29" r="0.85" fill="#2d3038"/><circle cx="562.33" cy="728.73" r="0.85" fill="#2d3038"/><circle cx="562.02" cy="728.61" r="0.85" fill="#2d3038"/><circle cx="636.22" cy="725.88" r="0.85" fill="#2d3038"/><circle cx="547.14" cy="727.04" r="0.85" fill="#2d3038"/><circle cx="596.35" cy="728.47" r="0.85" fill="#2d3038"/><circle cx="593.35" cy="725.51" r="0.85" fill="#2d3038"/><circle cx="657.60" cy="726.69" r="0.85" fill="#2d3038"/><circle cx="536.77" cy="721.95" r="0.85" fill="#2d3038"/><circle cx="534.72" cy="727.67" r="0.85" fill="#2d3038"/><circle cx="633.59" cy="727.97" r="0.85" fill="#2d3038"/><circle cx="604.59" cy="728.51" r="0.85" fill="#2d3038"/><circle cx="521.72" cy="728.03" r="0.85" fill="#2d3038"/><circle cx="626.34" cy="727.19" r="0.85" fill="#2d3038"/><circle cx="568.83" cy="725.54" r="0.85" fill="#2d3038"/><circle cx="543.38" cy="728.69" r="0.85" fill="#2d3038"/><circle cx="600.35" cy="727.76" r="0.85" fill="#2d3038"/><circle cx="568.15" cy="726.65" r="0.85" fill="#2d3038"/><circle cx="527.55" cy="728.10" r="0.85" fill="#2d3038"/><circle cx="600.41" cy="726.41" r="0.85" fill="#2d3038"/><circle cx="605.58" cy="728.18" r="0.85" fill="#2d3038"/><circle cx="554.41" cy="723.70" r="0.85" fill="#2d3038"/><circle cx="637.95" cy="727.35" r="0.85" fill="#2d3038"/><circle cx="563.44" cy="725.40" r="0.85" fill="#2d3038"/><circle cx="561.91" cy="726.30" r="0.85" fill="#2d3038"/><circle cx="603.15" cy="726.20" r="0.85" fill="#2d3038"/><circle cx="651.06" cy="725.15" r="0.85" fill="#2d3038"/><circle cx="619.15" cy="728.45" r="0.85" fill="#2d3038"/><circle cx="640.79" cy="726.86" r="0.85" fill="#2d3038"/><circle cx="629.40" cy="728.74" r="0.85" fill="#2d3038"/><circle cx="569.46" cy="727.39" r="0.85" fill="#2d3038"/><circle cx="545.74" cy="726.93" r="0.85" fill="#2d3038"/><circle cx="535.85" cy="728.46" r="0.85" fill="#2d3038"/><circle cx="573.21" cy="728.11" r="0.85" fill="#2d3038"/><circle cx="537.01" cy="728.32" r="0.85" fill="#2d3038"/><circle cx="568.47" cy="728.75" r="0.85" fill="#2d3038"/><circle cx="559.13" cy="727.31" r="0.85" fill="#2d3038"/><circle cx="552.73" cy="725.49" r="0.85" fill="#2d3038"/><circle cx="567.12" cy="728.06" r="0.85" fill="#2d3038"/><circle cx="541.51" cy="722.30" r="0.85" fill="#2d3038"/><circle cx="537.64" cy="727.83" r="0.85" fill="#2d3038"/><circle cx="635.41" cy="728.34" r="0.85" fill="#2d3038"/><circle cx="568.70" cy="727.53" r="0.85" fill="#2d3038"/><circle cx="619.70" cy="724.66" r="0.85" fill="#2d3038"/><circle cx="548.71" cy="724.76" r="0.85" fill="#2d3038"/><circle cx="651.23" cy="727.15" r="0.85" fill="#2d3038"/><circle cx="538.07" cy="728.75" r="0.85" fill="#2d3038"/><circle cx="555.98" cy="726.34" r="0.85" fill="#2d3038"/><circle cx="570.78" cy="727.00" r="0.85" fill="#2d3038"/><circle cx="553.98" cy="727.57" r="0.85" fill="#2d3038"/><circle cx="640.39" cy="724.15" r="0.85" fill="#2d3038"/><circle cx="594.88" cy="728.30" r="0.85" fill="#2d3038"/><circle cx="573.10" cy="724.89" r="0.85" fill="#2d3038"/><circle cx="610.74" cy="727.00" r="0.85" fill="#2d3038"/><circle cx="573.81" cy="727.98" r="0.85" fill="#2d3038"/><circle cx="531.87" cy="721.59" r="0.85" fill="#2d3038"/><circle cx="535.04" cy="724.79" r="0.85" fill="#2d3038"/><circle cx="569.88" cy="726.87" r="0.85" fill="#2d3038"/><circle cx="529.10" cy="726.06" r="0.85" fill="#2d3038"/><circle cx="537.41" cy="728.41" r="0.85" fill="#2d3038"/><circle cx="645.43" cy="726.97" r="0.85" fill="#2d3038"/><circle cx="641.82" cy="726.99" r="0.85" fill="#2d3038"/><circle cx="613.79" cy="727.87" r="0.85" fill="#2d3038"/><circle cx="611.58" cy="727.39" r="0.85" fill="#2d3038"/><circle cx="610.95" cy="726.90" r="0.85" fill="#2d3038"/><circle cx="616.50" cy="728.76" r="0.85" fill="#2d3038"/><circle cx="568.59" cy="724.36" r="0.85" fill="#2d3038"/><circle cx="606.78" cy="728.33" r="0.85" fill="#2d3038"/><circle cx="645.95" cy="727.77" r="0.85" fill="#2d3038"/><circle cx="618.34" cy="728.17" r="0.85" fill="#2d3038"/><circle cx="542.36" cy="725.46" r="0.85" fill="#2d3038"/><circle cx="572.54" cy="726.88" r="0.85" fill="#2d3038"/><circle cx="608.09" cy="728.32" r="0.85" fill="#2d3038"/><circle cx="544.79" cy="727.21" r="0.85" fill="#2d3038"/><circle cx="555.15" cy="726.28" r="0.85" fill="#2d3038"/><circle cx="580.02" cy="722.93" r="0.85" fill="#2d3038"/><circle cx="627.15" cy="726.85" r="0.85" fill="#2d3038"/><circle cx="559.51" cy="724.46" r="0.85" fill="#2d3038"/><circle cx="603.82" cy="727.60" r="0.85" fill="#2d3038"/><circle cx="526.53" cy="728.76" r="0.85" fill="#2d3038"/><circle cx="549.00" cy="727.69" r="0.85" fill="#2d3038"/><circle cx="646.20" cy="728.80" r="0.85" fill="#2d3038"/><circle cx="574.32" cy="727.83" r="0.85" fill="#2d3038"/><circle cx="623.16" cy="727.92" r="0.85" fill="#2d3038"/><circle cx="532.41" cy="727.16" r="0.85" fill="#2d3038"/><circle cx="578.51" cy="725.62" r="0.85" fill="#2d3038"/><circle cx="634.54" cy="727.31" r="0.85" fill="#2d3038"/><circle cx="606.68" cy="728.07" r="0.85" fill="#2d3038"/><circle cx="616.36" cy="728.58" r="0.85" fill="#2d3038"/><circle cx="579.11" cy="718.84" r="0.85" fill="#2d3038"/><circle cx="526.03" cy="728.41" r="0.85" fill="#2d3038"/><circle cx="631.19" cy="728.60" r="0.85" fill="#2d3038"/><circle cx="653.78" cy="725.92" r="0.85" fill="#2d3038"/><circle cx="595.06" cy="728.80" r="0.85" fill="#2d3038"/><circle cx="569.38" cy="728.00" r="0.85" fill="#2d3038"/><circle cx="576.81" cy="723.73" r="0.85" fill="#2d3038"/><circle cx="612.51" cy="726.91" r="0.85" fill="#2d3038"/><circle cx="552.83" cy="728.66" r="0.85" fill="#2d3038"/><circle cx="581.41" cy="726.04" r="0.85" fill="#2d3038"/><circle cx="568.50" cy="727.34" r="0.85" fill="#2d3038"/><circle cx="539.58" cy="724.26" r="0.85" fill="#2d3038"/><circle cx="566.03" cy="727.65" r="0.85" fill="#2d3038"/><circle cx="624.95" cy="726.15" r="0.85" fill="#2d3038"/><circle cx="543.35" cy="727.25" r="0.85" fill="#2d3038"/><circle cx="625.73" cy="726.12" r="0.85" fill="#2d3038"/><circle cx="634.70" cy="727.37" r="0.85" fill="#2d3038"/><circle cx="569.75" cy="727.55" r="0.85" fill="#2d3038"/><circle cx="548.49" cy="727.07" r="0.85" fill="#2d3038"/><circle cx="547.20" cy="728.11" r="0.85" fill="#2d3038"/><circle cx="581.83" cy="727.26" r="0.85" fill="#2d3038"/><circle cx="570.09" cy="727.48" r="0.85" fill="#2d3038"/><circle cx="543.20" cy="728.50" r="0.85" fill="#2d3038"/><circle cx="623.56" cy="728.65" r="0.85" fill="#2d3038"/><circle cx="531.59" cy="727.48" r="0.85" fill="#2d3038"/><circle cx="535.01" cy="722.51" r="0.85" fill="#2d3038"/><circle cx="579.93" cy="722.35" r="0.85" fill="#2d3038"/><circle cx="608.94" cy="726.13" r="0.85" fill="#2d3038"/><circle cx="606.63" cy="725.74" r="0.85" fill="#2d3038"/><circle cx="554.69" cy="727.48" r="0.85" fill="#2d3038"/><circle cx="553.95" cy="728.45" r="0.85" fill="#2d3038"/><circle cx="626.87" cy="728.38" r="0.85" fill="#2d3038"/><circle cx="635.86" cy="728.38" r="0.85" fill="#2d3038"/><circle cx="608.06" cy="727.39" r="0.85" fill="#2d3038"/><circle cx="636.71" cy="727.55" r="0.85" fill="#2d3038"/><circle cx="628.28" cy="728.18" r="0.85" fill="#2d3038"/><circle cx="634.59" cy="728.70" r="0.85" fill="#2d3038"/><circle cx="545.47" cy="726.76" r="0.85" fill="#2d3038"/><circle cx="564.18" cy="726.83" r="0.85" fill="#2d3038"/><circle cx="570.96" cy="726.67" r="0.85" fill="#2d3038"/><circle cx="634.73" cy="728.76" r="0.85" fill="#2d3038"/><circle cx="598.23" cy="728.14" r="0.85" fill="#2d3038"/><circle cx="606.69" cy="727.28" r="0.85" fill="#2d3038"/><circle cx="644.92" cy="725.55" r="0.85" fill="#2d3038"/><circle cx="588.22" cy="727.46" r="0.85" fill="#2d3038"/><circle cx="561.34" cy="728.80" r="0.85" fill="#2d3038"/><circle cx="600.19" cy="725.74" r="0.85" fill="#2d3038"/><circle cx="542.58" cy="727.11" r="0.85" fill="#2d3038"/><circle cx="653.83" cy="728.25" r="0.85" fill="#2d3038"/><circle cx="546.33" cy="728.45" r="0.85" fill="#2d3038"/><circle cx="520.39" cy="726.36" r="0.85" fill="#2d3038"/><circle cx="628.59" cy="725.01" r="0.85" fill="#2d3038"/><circle cx="578.71" cy="728.10" r="0.85" fill="#2d3038"/><circle cx="578.13" cy="725.50" r="0.85" fill="#2d3038"/><circle cx="580.54" cy="726.64" r="0.85" fill="#2d3038"/><circle cx="542.70" cy="721.12" r="0.85" fill="#2d3038"/><circle cx="597.75" cy="727.93" r="0.85" fill="#2d3038"/><circle cx="531.74" cy="723.49" r="0.85" fill="#2d3038"/><circle cx="654.04" cy="724.94" r="0.85" fill="#2d3038"/><circle cx="654.46" cy="726.31" r="0.85" fill="#2d3038"/><circle cx="652.73" cy="721.20" r="0.85" fill="#2d3038"/><circle cx="604.06" cy="725.94" r="0.85" fill="#2d3038"/><circle cx="560.99" cy="723.69" r="0.85" fill="#2d3038"/><circle cx="586.34" cy="726.35" r="0.85" fill="#2d3038"/><circle cx="609.34" cy="728.16" r="0.85" fill="#2d3038"/><circle cx="642.14" cy="724.91" r="0.85" fill="#2d3038"/><circle cx="613.66" cy="727.88" r="0.85" fill="#2d3038"/><circle cx="611.15" cy="728.49" r="0.85" fill="#2d3038"/><circle cx="571.34" cy="726.72" r="0.85" fill="#2d3038"/><circle cx="593.14" cy="727.64" r="0.85" fill="#2d3038"/><circle cx="597.94" cy="727.90" r="0.85" fill="#2d3038"/><circle cx="544.91" cy="728.12" r="0.85" fill="#2d3038"/><circle cx="595.64" cy="725.32" r="0.85" fill="#2d3038"/><circle cx="554.98" cy="725.84" r="0.85" fill="#2d3038"/><circle cx="533.11" cy="727.09" r="0.85" fill="#2d3038"/><circle cx="596.45" cy="728.46" r="0.85" fill="#2d3038"/><circle cx="551.26" cy="727.79" r="0.85" fill="#2d3038"/><circle cx="590.82" cy="728.30" r="0.85" fill="#2d3038"/><circle cx="601.21" cy="726.74" r="0.85" fill="#2d3038"/><circle cx="530.14" cy="727.67" r="0.85" fill="#2d3038"/><circle cx="639.16" cy="725.35" r="0.85" fill="#2d3038"/><circle cx="624.45" cy="727.67" r="0.85" fill="#2d3038"/><circle cx="535.82" cy="718.95" r="0.85" fill="#2d3038"/><circle cx="574.09" cy="728.58" r="0.85" fill="#2d3038"/><circle cx="543.63" cy="725.94" r="0.85" fill="#2d3038"/><circle cx="538.88" cy="728.07" r="0.85" fill="#2d3038"/><circle cx="527.94" cy="723.78" r="0.85" fill="#2d3038"/><circle cx="549.41" cy="726.59" r="0.85" fill="#2d3038"/><circle cx="561.39" cy="728.16" r="0.85" fill="#2d3038"/><circle cx="642.63" cy="726.47" r="0.85" fill="#2d3038"/><circle cx="640.35" cy="724.07" r="0.85" fill="#2d3038"/><circle cx="543.18" cy="726.83" r="0.85" fill="#2d3038"/><circle cx="567.11" cy="728.50" r="0.85" fill="#2d3038"/><circle cx="633.94" cy="725.35" r="0.85" fill="#2d3038"/><circle cx="536.94" cy="726.18" r="0.85" fill="#2d3038"/><circle cx="619.61" cy="726.12" r="0.85" fill="#2d3038"/><circle cx="526.00" cy="727.96" r="0.85" fill="#2d3038"/><circle cx="630.82" cy="728.16" r="0.85" fill="#2d3038"/><circle cx="535.59" cy="723.19" r="0.85" fill="#2d3038"/><circle cx="581.65" cy="727.25" r="0.85" fill="#2d3038"/><circle cx="600.23" cy="728.44" r="0.85" fill="#2d3038"/><circle cx="535.24" cy="728.49" r="0.85" fill="#2d3038"/><circle cx="545.57" cy="727.01" r="0.85" fill="#2d3038"/><circle cx="572.55" cy="728.17" r="0.85" fill="#2d3038"/><circle cx="539.91" cy="726.78" r="0.85" fill="#2d3038"/><circle cx="631.53" cy="726.79" r="0.85" fill="#2d3038"/><circle cx="650.93" cy="723.12" r="0.85" fill="#2d3038"/><circle cx="640.48" cy="728.62" r="0.85" fill="#2d3038"/><circle cx="524.89" cy="727.05" r="0.85" fill="#2d3038"/><circle cx="613.77" cy="724.94" r="0.85" fill="#2d3038"/><circle cx="574.17" cy="727.47" r="0.85" fill="#2d3038"/><circle cx="636.63" cy="728.60" r="0.85" fill="#2d3038"/><circle cx="574.29" cy="726.60" r="0.85" fill="#2d3038"/><circle cx="530.47" cy="723.87" r="0.85" fill="#2d3038"/><circle cx="643.37" cy="725.39" r="0.85" fill="#2d3038"/><circle cx="584.55" cy="728.44" r="0.85" fill="#2d3038"/><circle cx="599.63" cy="727.17" r="0.85" fill="#2d3038"/><circle cx="520.83" cy="727.41" r="0.85" fill="#2d3038"/><circle cx="599.92" cy="728.57" r="0.85" fill="#2d3038"/><circle cx="583.40" cy="728.40" r="0.85" fill="#2d3038"/><circle cx="656.12" cy="727.56" r="0.85" fill="#2d3038"/><circle cx="612.59" cy="728.44" r="0.85" fill="#2d3038"/><circle cx="557.63" cy="728.41" r="0.85" fill="#2d3038"/><circle cx="556.17" cy="726.13" r="0.85" fill="#2d3038"/><circle cx="598.52" cy="723.14" r="0.85" fill="#2d3038"/><circle cx="656.92" cy="727.79" r="0.85" fill="#2d3038"/><circle cx="524.71" cy="725.15" r="0.85" fill="#2d3038"/><circle cx="640.39" cy="727.34" r="0.85" fill="#2d3038"/><circle cx="607.37" cy="727.36" r="0.85" fill="#2d3038"/><circle cx="558.86" cy="727.17" r="0.85" fill="#2d3038"/><circle cx="629.75" cy="725.02" r="0.85" fill="#2d3038"/><circle cx="614.02" cy="724.92" r="0.85" fill="#2d3038"/><circle cx="561.95" cy="728.49" r="0.85" fill="#2d3038"/><circle cx="590.23" cy="725.05" r="0.85" fill="#2d3038"/><circle cx="607.66" cy="727.09" r="0.85" fill="#2d3038"/><circle cx="576.02" cy="723.57" r="0.85" fill="#2d3038"/><circle cx="564.60" cy="726.18" r="0.85" fill="#2d3038"/><circle cx="570.69" cy="728.61" r="0.85" fill="#2d3038"/><circle cx="553.59" cy="728.60" r="0.85" fill="#2d3038"/><circle cx="538.72" cy="720.26" r="0.85" fill="#2d3038"/><circle cx="582.53" cy="726.00" r="0.85" fill="#2d3038"/><circle cx="561.73" cy="727.80" r="0.85" fill="#2d3038"/><circle cx="543.31" cy="721.42" r="0.85" fill="#2d3038"/><circle cx="596.08" cy="728.01" r="0.85" fill="#2d3038"/><circle cx="649.37" cy="726.02" r="0.85" fill="#2d3038"/><circle cx="531.04" cy="719.68" r="0.85" fill="#2d3038"/><circle cx="656.27" cy="726.34" r="0.85" fill="#2d3038"/><circle cx="579.10" cy="725.70" r="0.85" fill="#2d3038"/><circle cx="529.35" cy="721.00" r="0.85" fill="#2d3038"/><circle cx="523.18" cy="728.32" r="0.85" fill="#2d3038"/><circle cx="542.71" cy="724.67" r="0.85" fill="#2d3038"/><circle cx="547.65" cy="725.24" r="0.85" fill="#2d3038"/><circle cx="639.24" cy="727.89" r="0.85" fill="#2d3038"/><circle cx="621.28" cy="727.58" r="0.85" fill="#2d3038"/><circle cx="652.91" cy="728.05" r="0.85" fill="#2d3038"/><circle cx="640.82" cy="726.64" r="0.85" fill="#2d3038"/><circle cx="545.97" cy="724.24" r="0.85" fill="#2d3038"/><circle cx="647.36" cy="725.08" r="0.85" fill="#2d3038"/><circle cx="623.41" cy="727.41" r="0.85" fill="#2d3038"/><circle cx="613.70" cy="726.92" r="0.85" fill="#2d3038"/><circle cx="566.61" cy="726.58" r="0.85" fill="#2d3038"/><circle cx="526.27" cy="727.96" r="0.85" fill="#2d3038"/><circle cx="566.16" cy="725.71" r="0.85" fill="#2d3038"/><circle cx="555.47" cy="728.69" r="0.85" fill="#2d3038"/><circle cx="583.95" cy="723.60" r="0.85" fill="#2d3038"/><circle cx="597.85" cy="728.35" r="0.85" fill="#2d3038"/><circle cx="656.28" cy="725.83" r="0.85" fill="#2d3038"/><circle cx="619.93" cy="727.71" r="0.85" fill="#2d3038"/><circle cx="565.42" cy="727.69" r="0.85" fill="#2d3038"/><circle cx="539.69" cy="728.06" r="0.85" fill="#2d3038"/><circle cx="532.40" cy="727.86" r="0.85" fill="#2d3038"/><circle cx="601.21" cy="726.59" r="0.85" fill="#2d3038"/><circle cx="596.59" cy="727.09" r="0.85" fill="#2d3038"/><circle cx="565.66" cy="726.20" r="0.85" fill="#2d3038"/><circle cx="622.27" cy="728.62" r="0.85" fill="#2d3038"/><circle cx="625.34" cy="725.19" r="0.85" fill="#2d3038"/><circle cx="627.09" cy="727.36" r="0.85" fill="#2d3038"/><circle cx="654.88" cy="725.12" r="0.85" fill="#2d3038"/><circle cx="582.54" cy="728.31" r="0.85" fill="#2d3038"/><circle cx="649.85" cy="725.14" r="0.85" fill="#2d3038"/><circle cx="585.66" cy="726.58" r="0.85" fill="#2d3038"/><circle cx="570.02" cy="725.52" r="0.85" fill="#2d3038"/><circle cx="656.55" cy="728.27" r="0.85" fill="#2d3038"/><circle cx="532.41" cy="722.78" r="0.85" fill="#2d3038"/><circle cx="528.30" cy="719.06" r="0.85" fill="#2d3038"/><circle cx="570.45" cy="728.77" r="0.85" fill="#2d3038"/><circle cx="540.61" cy="727.15" r="0.85" fill="#2d3038"/><circle cx="542.37" cy="719.54" r="0.85" fill="#2d3038"/><circle cx="553.48" cy="726.12" r="0.85" fill="#2d3038"/><circle cx="607.79" cy="728.50" r="0.85" fill="#2d3038"/><circle cx="567.50" cy="728.01" r="0.85" fill="#2d3038"/><circle cx="564.69" cy="726.38" r="0.85" fill="#2d3038"/><circle cx="644.68" cy="721.52" r="0.85" fill="#2d3038"/><circle cx="575.46" cy="726.46" r="0.85" fill="#2d3038"/><circle cx="528.28" cy="726.63" r="0.85" fill="#2d3038"/><circle cx="650.40" cy="727.88" r="0.85" fill="#2d3038"/><circle cx="550.92" cy="728.78" r="0.85" fill="#2d3038"/><circle cx="579.86" cy="724.70" r="0.85" fill="#2d3038"/><circle cx="624.77" cy="727.59" r="0.85" fill="#2d3038"/><circle cx="657.21" cy="727.29" r="0.85" fill="#2d3038"/><circle cx="549.89" cy="727.59" r="0.85" fill="#2d3038"/><circle cx="639.10" cy="728.23" r="0.85" fill="#2d3038"/><circle cx="639.96" cy="728.39" r="0.85" fill="#2d3038"/><circle cx="633.55" cy="725.00" r="0.85" fill="#2d3038"/><circle cx="558.99" cy="727.50" r="0.85" fill="#2d3038"/><circle cx="642.95" cy="721.92" r="0.85" fill="#2d3038"/><circle cx="602.47" cy="725.91" r="0.85" fill="#2d3038"/><circle cx="641.83" cy="722.25" r="0.85" fill="#2d3038"/><circle cx="569.73" cy="727.95" r="0.85" fill="#2d3038"/><circle cx="545.16" cy="724.30" r="0.85" fill="#2d3038"/><circle cx="657.29" cy="728.65" r="0.85" fill="#2d3038"/><circle cx="535.40" cy="728.31" r="0.85" fill="#2d3038"/><circle cx="521.30" cy="727.69" r="0.85" fill="#2d3038"/><circle cx="621.57" cy="728.11" r="0.85" fill="#2d3038"/><circle cx="533.46" cy="723.72" r="0.85" fill="#2d3038"/><circle cx="646.75" cy="725.77" r="0.85" fill="#2d3038"/><circle cx="641.71" cy="723.04" r="0.85" fill="#2d3038"/><circle cx="615.15" cy="728.72" r="0.85" fill="#2d3038"/><circle cx="525.23" cy="727.14" r="0.85" fill="#2d3038"/><circle cx="534.47" cy="721.64" r="0.85" fill="#2d3038"/><circle cx="563.68" cy="727.96" r="0.85" fill="#2d3038"/><circle cx="587.26" cy="728.00" r="0.85" fill="#2d3038"/><circle cx="538.74" cy="727.50" r="0.85" fill="#2d3038"/><circle cx="540.42" cy="728.17" r="0.85" fill="#2d3038"/><circle cx="589.10" cy="727.17" r="0.85" fill="#2d3038"/><circle cx="588.48" cy="727.41" r="0.85" fill="#2d3038"/><circle cx="646.78" cy="727.87" r="0.85" fill="#2d3038"/><circle cx="641.88" cy="727.51" r="0.85" fill="#2d3038"/><circle cx="557.67" cy="728.01" r="0.85" fill="#2d3038"/><circle cx="529.51" cy="722.84" r="0.85" fill="#2d3038"/><circle cx="576.32" cy="722.37" r="0.85" fill="#2d3038"/><circle cx="610.13" cy="728.04" r="0.85" fill="#2d3038"/><circle cx="595.07" cy="725.45" r="0.85" fill="#2d3038"/><circle cx="655.57" cy="727.74" r="0.85" fill="#2d3038"/><circle cx="640.62" cy="725.19" r="0.85" fill="#2d3038"/><circle cx="654.27" cy="726.53" r="0.85" fill="#2d3038"/><circle cx="573.42" cy="727.03" r="0.85" fill="#2d3038"/><circle cx="539.74" cy="727.25" r="0.85" fill="#2d3038"/><circle cx="520.72" cy="724.72" r="0.85" fill="#2d3038"/><circle cx="555.14" cy="725.52" r="0.85" fill="#2d3038"/><circle cx="604.31" cy="727.58" r="0.85" fill="#2d3038"/><circle cx="547.38" cy="721.34" r="0.85" fill="#2d3038"/><circle cx="628.19" cy="728.19" r="0.85" fill="#2d3038"/><circle cx="615.80" cy="728.40" r="0.85" fill="#2d3038"/><circle cx="564.76" cy="727.04" r="0.85" fill="#2d3038"/><circle cx="563.56" cy="726.50" r="0.85" fill="#2d3038"/><circle cx="654.08" cy="725.00" r="0.85" fill="#2d3038"/><circle cx="637.78" cy="728.78" r="0.85" fill="#2d3038"/><circle cx="590.40" cy="722.58" r="0.85" fill="#2d3038"/><circle cx="552.35" cy="724.73" r="0.85" fill="#2d3038"/><circle cx="606.87" cy="728.71" r="0.85" fill="#2d3038"/><circle cx="618.28" cy="726.56" r="0.85" fill="#2d3038"/><circle cx="574.31" cy="725.68" r="0.85" fill="#2d3038"/><circle cx="613.45" cy="728.28" r="0.85" fill="#2d3038"/><circle cx="564.45" cy="726.82" r="0.85" fill="#2d3038"/><circle cx="550.81" cy="726.72" r="0.85" fill="#2d3038"/><circle cx="604.53" cy="728.33" r="0.85" fill="#2d3038"/><circle cx="585.31" cy="723.80" r="0.85" fill="#2d3038"/><circle cx="619.58" cy="726.22" r="0.85" fill="#2d3038"/><circle cx="550.53" cy="728.44" r="0.85" fill="#2d3038"/><circle cx="539.61" cy="726.28" r="0.85" fill="#2d3038"/><circle cx="592.79" cy="727.56" r="0.85" fill="#2d3038"/><circle cx="632.24" cy="728.70" r="0.85" fill="#2d3038"/><circle cx="633.42" cy="727.39" r="0.85" fill="#2d3038"/><circle cx="583.52" cy="726.07" r="0.85" fill="#2d3038"/><circle cx="643.38" cy="725.48" r="0.85" fill="#2d3038"/><circle cx="525.97" cy="725.62" r="0.85" fill="#2d3038"/><circle cx="536.98" cy="722.98" r="0.85" fill="#2d3038"/><circle cx="534.19" cy="726.23" r="0.85" fill="#2d3038"/><circle cx="582.49" cy="725.56" r="0.85" fill="#2d3038"/><circle cx="532.14" cy="722.61" r="0.85" fill="#2d3038"/><circle cx="582.01" cy="724.04" r="0.85" fill="#2d3038"/><circle cx="586.01" cy="727.64" r="0.85" fill="#2d3038"/><circle cx="540.68" cy="725.11" r="0.85" fill="#2d3038"/><circle cx="570.64" cy="727.12" r="0.85" fill="#2d3038"/><circle cx="571.17" cy="728.58" r="0.85" fill="#2d3038"/><circle cx="566.93" cy="728.48" r="0.85" fill="#2d3038"/><circle cx="547.72" cy="728.51" r="0.85" fill="#2d3038"/><circle cx="527.97" cy="723.92" r="0.85" fill="#2d3038"/><circle cx="553.37" cy="725.51" r="0.85" fill="#2d3038"/><circle cx="635.11" cy="726.06" r="0.85" fill="#2d3038"/><circle cx="638.53" cy="727.03" r="0.85" fill="#2d3038"/><circle cx="547.83" cy="725.20" r="0.85" fill="#2d3038"/><circle cx="571.28" cy="726.91" r="0.85" fill="#2d3038"/><circle cx="526.06" cy="726.75" r="0.85" fill="#2d3038"/><circle cx="560.74" cy="728.02" r="0.85" fill="#2d3038"/><circle cx="576.29" cy="726.30" r="0.85" fill="#2d3038"/><circle cx="573.18" cy="725.44" r="0.85" fill="#2d3038"/><circle cx="599.86" cy="727.47" r="0.85" fill="#2d3038"/><circle cx="654.05" cy="728.12" r="0.85" fill="#2d3038"/><circle cx="618.24" cy="726.44" r="0.85" fill="#2d3038"/><circle cx="565.46" cy="726.36" r="0.85" fill="#2d3038"/><circle cx="529.77" cy="728.72" r="0.85" fill="#2d3038"/><circle cx="588.53" cy="726.56" r="0.85" fill="#2d3038"/><circle cx="644.38" cy="728.78" r="0.85" fill="#2d3038"/><circle cx="583.83" cy="728.28" r="0.85" fill="#2d3038"/><circle cx="583.78" cy="727.53" r="0.85" fill="#2d3038"/><circle cx="585.36" cy="726.79" r="0.85" fill="#2d3038"/><circle cx="642.87" cy="726.32" r="0.85" fill="#2d3038"/><circle cx="633.80" cy="727.82" r="0.85" fill="#2d3038"/><circle cx="612.51" cy="728.66" r="0.85" fill="#2d3038"/><circle cx="525.60" cy="726.48" r="0.85" fill="#2d3038"/><circle cx="596.43" cy="728.33" r="0.85" fill="#2d3038"/><circle cx="536.30" cy="723.02" r="0.85" fill="#2d3038"/><circle cx="632.81" cy="728.01" r="0.85" fill="#2d3038"/><circle cx="623.96" cy="728.21" r="0.85" fill="#2d3038"/><circle cx="597.89" cy="725.54" r="0.85" fill="#2d3038"/><circle cx="618.13" cy="727.63" r="0.85" fill="#2d3038"/><circle cx="586.63" cy="725.49" r="0.85" fill="#2d3038"/><circle cx="577.67" cy="727.61" r="0.85" fill="#2d3038"/><circle cx="657.74" cy="726.90" r="0.85" fill="#2d3038"/><circle cx="540.08" cy="720.15" r="0.85" fill="#2d3038"/><circle cx="520.83" cy="726.97" r="0.85" fill="#2d3038"/><circle cx="556.20" cy="728.67" r="0.85" fill="#2d3038"/><circle cx="563.20" cy="728.66" r="0.85" fill="#2d3038"/><circle cx="596.69" cy="724.26" r="0.85" fill="#2d3038"/><circle cx="590.52" cy="728.15" r="0.85" fill="#2d3038"/><circle cx="562.02" cy="728.44" r="0.85" fill="#2d3038"/><circle cx="639.61" cy="727.35" r="0.85" fill="#2d3038"/><circle cx="555.48" cy="724.52" r="0.85" fill="#2d3038"/><circle cx="547.88" cy="726.11" r="0.85" fill="#2d3038"/><circle cx="584.06" cy="727.89" r="0.85" fill="#2d3038"/><circle cx="587.48" cy="726.91" r="0.85" fill="#2d3038"/><circle cx="630.60" cy="727.70" r="0.85" fill="#2d3038"/><circle cx="547.64" cy="723.01" r="0.85" fill="#2d3038"/><circle cx="593.56" cy="727.38" r="0.85" fill="#2d3038"/><circle cx="576.43" cy="722.08" r="0.85" fill="#2d3038"/><circle cx="560.23" cy="728.00" r="0.85" fill="#2d3038"/><circle cx="618.06" cy="727.81" r="0.85" fill="#2d3038"/><circle cx="582.74" cy="725.89" r="0.85" fill="#2d3038"/><circle cx="649.01" cy="721.15" r="0.85" fill="#2d3038"/><circle cx="608.22" cy="727.20" r="0.85" fill="#2d3038"/><circle cx="526.76" cy="728.22" r="0.85" fill="#2d3038"/><circle cx="544.86" cy="728.13" r="0.85" fill="#2d3038"/><circle cx="597.43" cy="727.96" r="0.85" fill="#2d3038"/><circle cx="612.99" cy="726.24" r="0.85" fill="#2d3038"/><circle cx="613.14" cy="728.36" r="0.85" fill="#2d3038"/><circle cx="635.69" cy="727.28" r="0.85" fill="#2d3038"/><circle cx="540.12" cy="725.46" r="0.85" fill="#2d3038"/><circle cx="628.23" cy="728.03" r="0.85" fill="#2d3038"/><circle cx="651.22" cy="720.11" r="0.85" fill="#2d3038"/><circle cx="614.66" cy="727.08" r="0.85" fill="#2d3038"/><circle cx="541.37" cy="719.26" r="0.85" fill="#2d3038"/><circle cx="560.52" cy="727.57" r="0.85" fill="#2d3038"/><circle cx="552.11" cy="727.05" r="0.85" fill="#2d3038"/><circle cx="597.36" cy="727.81" r="0.85" fill="#2d3038"/><circle cx="541.25" cy="727.07" r="0.85" fill="#2d3038"/><circle cx="540.96" cy="727.73" r="0.85" fill="#2d3038"/><circle cx="655.25" cy="728.34" r="0.85" fill="#2d3038"/><circle cx="572.44" cy="728.43" r="0.85" fill="#2d3038"/><circle cx="608.43" cy="728.32" r="0.85" fill="#2d3038"/><circle cx="532.92" cy="725.96" r="0.85" fill="#2d3038"/><circle cx="620.50" cy="725.67" r="0.85" fill="#2d3038"/><circle cx="535.78" cy="727.33" r="0.85" fill="#2d3038"/><circle cx="536.85" cy="722.03" r="0.85" fill="#2d3038"/><circle cx="592.63" cy="725.26" r="0.85" fill="#2d3038"/><circle cx="560.12" cy="726.59" r="0.85" fill="#2d3038"/><circle cx="588.52" cy="725.68" r="0.85" fill="#2d3038"/><circle cx="648.32" cy="726.60" r="0.85" fill="#2d3038"/><circle cx="602.49" cy="727.34" r="0.85" fill="#2d3038"/><circle cx="594.62" cy="727.73" r="0.85" fill="#2d3038"/><circle cx="557.42" cy="728.14" r="0.85" fill="#2d3038"/><circle cx="643.24" cy="727.87" r="0.85" fill="#2d3038"/><circle cx="524.47" cy="727.44" r="0.85" fill="#2d3038"/><circle cx="602.63" cy="726.74" r="0.85" fill="#2d3038"/><circle cx="650.33" cy="728.37" r="0.85" fill="#2d3038"/><circle cx="526.91" cy="721.86" r="0.85" fill="#2d3038"/><circle cx="544.68" cy="726.63" r="0.85" fill="#2d3038"/><circle cx="561.16" cy="726.14" r="0.85" fill="#2d3038"/><circle cx="533.20" cy="727.56" r="0.85" fill="#2d3038"/><circle cx="628.74" cy="726.70" r="0.85" fill="#2d3038"/><circle cx="524.65" cy="727.36" r="0.85" fill="#2d3038"/><circle cx="590.84" cy="726.09" r="0.85" fill="#2d3038"/><circle cx="538.21" cy="726.90" r="0.85" fill="#2d3038"/><circle cx="568.70" cy="726.41" r="0.85" fill="#2d3038"/><circle cx="542.62" cy="719.57" r="0.85" fill="#2d3038"/><circle cx="565.77" cy="726.25" r="0.85" fill="#2d3038"/><circle cx="586.27" cy="724.90" r="0.85" fill="#2d3038"/><circle cx="540.57" cy="720.61" r="0.85" fill="#2d3038"/><circle cx="593.97" cy="726.17" r="0.85" fill="#2d3038"/><circle cx="536.23" cy="727.46" r="0.85" fill="#2d3038"/><circle cx="589.94" cy="728.52" r="0.85" fill="#2d3038"/><circle cx="570.63" cy="728.05" r="0.85" fill="#2d3038"/><circle cx="548.08" cy="726.59" r="0.85" fill="#2d3038"/><circle cx="537.54" cy="728.50" r="0.85" fill="#2d3038"/><circle cx="642.90" cy="718.17" r="0.85" fill="#2d3038"/><circle cx="587.40" cy="728.04" r="0.85" fill="#2d3038"/><circle cx="615.08" cy="725.92" r="0.85" fill="#2d3038"/><circle cx="551.64" cy="728.80" r="0.85" fill="#2d3038"/><circle cx="556.46" cy="727.48" r="0.85" fill="#2d3038"/><circle cx="524.27" cy="726.63" r="0.85" fill="#2d3038"/><circle cx="560.29" cy="727.08" r="0.85" fill="#2d3038"/><circle cx="642.89" cy="722.10" r="0.85" fill="#2d3038"/><circle cx="628.19" cy="727.28" r="0.85" fill="#2d3038"/><circle cx="618.09" cy="727.21" r="0.85" fill="#2d3038"/><circle cx="602.69" cy="728.14" r="0.85" fill="#2d3038"/><circle cx="655.65" cy="725.72" r="0.85" fill="#2d3038"/><circle cx="615.47" cy="727.98" r="0.85" fill="#2d3038"/><circle cx="632.42" cy="726.51" r="0.85" fill="#2d3038"/><circle cx="583.73" cy="725.30" r="0.85" fill="#2d3038"/><circle cx="647.08" cy="723.37" r="0.85" fill="#2d3038"/><circle cx="576.18" cy="725.95" r="0.85" fill="#2d3038"/><circle cx="593.68" cy="667.38" r="0.85" fill="#7a2424"/><circle cx="588.62" cy="666.21" r="0.85" fill="#7a2424"/><circle cx="588.52" cy="665.69" r="0.85" fill="#7a2424"/><circle cx="589.21" cy="666.16" r="0.85" fill="#7a2424"/><circle cx="595.79" cy="668.49" r="0.85" fill="#7a2424"/><circle cx="594.19" cy="666.68" r="0.85" fill="#7a2424"/><circle cx="591.63" cy="667.73" r="0.85" fill="#7a2424"/><circle cx="595.20" cy="667.63" r="0.85" fill="#7a2424"/><circle cx="592.84" cy="665.70" r="0.85" fill="#7a2424"/><circle cx="592.74" cy="667.96" r="0.85" fill="#7a2424"/><circle cx="594.14" cy="665.32" r="0.85" fill="#7a2424"/><circle cx="593.54" cy="666.22" r="0.85" fill="#7a2424"/><circle cx="588.71" cy="668.38" r="0.85" fill="#7a2424"/><circle cx="593.15" cy="667.61" r="0.85" fill="#7a2424"/><circle cx="588.47" cy="667.90" r="0.85" fill="#7a2424"/><circle cx="595.45" cy="668.17" r="0.85" fill="#7a2424"/><circle cx="593.78" cy="667.91" r="0.85" fill="#7a2424"/><circle cx="594.28" cy="667.07" r="0.85" fill="#7a2424"/><circle cx="591.09" cy="667.89" r="0.85" fill="#7a2424"/><circle cx="594.12" cy="668.05" r="0.85" fill="#7a2424"/><circle cx="589.90" cy="668.36" r="0.85" fill="#7a2424"/><circle cx="591.93" cy="668.31" r="0.85" fill="#7a2424"/><circle cx="588.31" cy="668.39" r="0.85" fill="#7a2424"/><circle cx="594.15" cy="665.88" r="0.85" fill="#7a2424"/><circle cx="594.59" cy="665.81" r="0.85" fill="#7a2424"/><circle cx="589.02" cy="666.60" r="0.85" fill="#7a2424"/><circle cx="589.36" cy="666.72" r="0.85" fill="#7a2424"/><circle cx="595.20" cy="667.40" r="0.85" fill="#7a2424"/><circle cx="593.48" cy="666.37" r="0.85" fill="#7a2424"/><circle cx="594.12" cy="667.78" r="0.85" fill="#7a2424"/><circle cx="593.24" cy="668.30" r="0.85" fill="#7a2424"/><circle cx="594.48" cy="666.42" r="0.85" fill="#7a2424"/><circle cx="588.06" cy="667.28" r="0.85" fill="#7a2424"/><circle cx="594.58" cy="666.19" r="0.85" fill="#7a2424"/><circle cx="592.48" cy="667.93" r="0.85" fill="#7a2424"/><circle cx="600.70" cy="683.02" r="0.85" fill="#8c6a34"/><circle cx="594.68" cy="683.08" r="0.85" fill="#8c6a34"/><circle cx="587.19" cy="687.06" r="0.85" fill="#8c6a34"/><circle cx="593.29" cy="686.02" r="0.85" fill="#8c6a34"/><circle cx="594.06" cy="684.68" r="0.85" fill="#8c6a34"/><circle cx="589.23" cy="684.77" r="0.85" fill="#8c6a34"/><circle cx="601.72" cy="686.10" r="0.85" fill="#8c6a34"/><circle cx="590.78" cy="683.44" r="0.85" fill="#8c6a34"/><circle cx="590.37" cy="686.51" r="0.85" fill="#8c6a34"/><circle cx="593.75" cy="686.30" r="0.85" fill="#8c6a34"/><circle cx="600.98" cy="683.60" r="0.85" fill="#8c6a34"/><circle cx="598.52" cy="683.21" r="0.85" fill="#8c6a34"/><circle cx="601.29" cy="683.92" r="0.85" fill="#8c6a34"/><circle cx="590.38" cy="687.79" r="0.85" fill="#8c6a34"/><circle cx="592.17" cy="684.12" r="0.85" fill="#8c6a34"/><circle cx="602.62" cy="686.05" r="0.85" fill="#8c6a34"/><circle cx="602.70" cy="684.97" r="0.85" fill="#8c6a34"/><circle cx="594.89" cy="687.78" r="0.85" fill="#8c6a34"/><circle cx="595.03" cy="687.94" r="0.85" fill="#8c6a34"/><circle cx="588.75" cy="687.15" r="0.85" fill="#8c6a34"/><circle cx="588.21" cy="685.64" r="0.85" fill="#8c6a34"/><circle cx="585.01" cy="683.88" r="0.85" fill="#8c6a34"/><circle cx="603.71" cy="685.27" r="0.85" fill="#8c6a34"/><circle cx="601.03" cy="684.25" r="0.85" fill="#8c6a34"/><circle cx="591.98" cy="683.50" r="0.85" fill="#8c6a34"/><circle cx="595.94" cy="687.31" r="0.85" fill="#8c6a34"/><circle cx="595.17" cy="684.88" r="0.85" fill="#8c6a34"/><circle cx="603.39" cy="687.47" r="0.85" fill="#8c6a34"/><circle cx="598.19" cy="683.38" r="0.85" fill="#8c6a34"/><circle cx="597.36" cy="685.22" r="0.85" fill="#8c6a34"/><circle cx="611.99" cy="674.99" r="0.85" fill="#4d7a35"/><circle cx="609.08" cy="676.48" r="0.85" fill="#4d7a35"/><circle cx="606.28" cy="675.87" r="0.85" fill="#4d7a35"/><circle cx="609.23" cy="677.99" r="0.85" fill="#4d7a35"/><circle cx="607.48" cy="675.00" r="0.85" fill="#4d7a35"/><circle cx="612.17" cy="673.31" r="0.85" fill="#4d7a35"/><circle cx="610.78" cy="676.76" r="0.85" fill="#4d7a35"/><circle cx="608.06" cy="675.46" r="0.85" fill="#4d7a35"/><circle cx="609.96" cy="677.90" r="0.85" fill="#4d7a35"/><circle cx="609.74" cy="677.12" r="0.85" fill="#4d7a35"/><circle cx="602.94" cy="674.79" r="0.85" fill="#4d7a35"/><circle cx="603.94" cy="678.24" r="0.85" fill="#4d7a35"/><circle cx="611.34" cy="673.79" r="0.85" fill="#4d7a35"/><circle cx="608.36" cy="676.17" r="0.85" fill="#4d7a35"/><circle cx="603.06" cy="675.16" r="0.85" fill="#4d7a35"/><circle cx="609.92" cy="676.53" r="0.85" fill="#4d7a35"/><circle cx="605.35" cy="677.19" r="0.85" fill="#4d7a35"/><circle cx="605.45" cy="675.99" r="0.85" fill="#4d7a35"/><circle cx="606.72" cy="678.38" r="0.85" fill="#4d7a35"/><circle cx="608.96" cy="677.43" r="0.85" fill="#4d7a35"/><circle cx="609.23" cy="675.09" r="0.85" fill="#4d7a35"/><circle cx="612.04" cy="676.90" r="0.85" fill="#4d7a35"/><circle cx="609.37" cy="674.53" r="0.85" fill="#4d7a35"/><circle cx="604.19" cy="676.16" r="0.85" fill="#4d7a35"/><circle cx="610.69" cy="677.37" r="0.85" fill="#4d7a35"/><circle cx="606.00" cy="673.77" r="0.85" fill="#4d7a35"/><circle cx="607.66" cy="677.83" r="0.85" fill="#4d7a35"/><circle cx="604.19" cy="677.06" r="0.85" fill="#4d7a35"/><circle cx="612.74" cy="681.04" r="0.85" fill="#2d3038"/><circle cx="619.47" cy="699.89" r="0.85" fill="#4f7d8c"/><circle cx="614.85" cy="683.81" r="0.85" fill="#2d3038"/><circle cx="618.26" cy="699.49" r="0.85" fill="#2d3038"/><circle cx="614.48" cy="687.37" r="0.85" fill="#2d3038"/><circle cx="613.81" cy="681.52" r="0.85" fill="#4d7a35"/><circle cx="617.13" cy="691.24" r="0.85" fill="#4f7d8c"/><circle cx="614.04" cy="684.38" r="0.85" fill="#4d7a35"/><circle cx="616.73" cy="694.18" r="0.85" fill="#4d7a35"/><circle cx="615.20" cy="689.50" r="0.85" fill="#2d3038"/><circle cx="613.98" cy="687.51" r="0.85" fill="#2d3038"/><circle cx="615.53" cy="684.87" r="0.85" fill="#4f7d8c"/><circle cx="619.10" cy="696.97" r="0.85" fill="#4d7a35"/><circle cx="618.35" cy="697.63" r="0.85" fill="#4f7d8c"/><circle cx="617.63" cy="692.19" r="0.85" fill="#4f7d8c"/><circle cx="617.17" cy="696.12" r="0.85" fill="#2d3038"/><circle cx="614.80" cy="685.99" r="0.85" fill="#4f7d8c"/><circle cx="616.13" cy="694.07" r="0.85" fill="#4d7a35"/><circle cx="617.65" cy="691.58" r="0.85" fill="#2d3038"/><circle cx="617.79" cy="691.73" r="0.85" fill="#4f7d8c"/><circle cx="618.37" cy="697.24" r="0.85" fill="#4d7a35"/><circle cx="614.05" cy="683.51" r="0.85" fill="#4f7d8c"/><circle cx="613.47" cy="682.41" r="0.85" fill="#4f7d8c"/><circle cx="619.25" cy="698.85" r="0.85" fill="#4d7a35"/><circle cx="617.27" cy="698.24" r="0.85" fill="#4d7a35"/><circle cx="615.75" cy="690.06" r="0.85" fill="#2d3038"/><circle cx="617.22" cy="690.53" r="0.85" fill="#2d3038"/><circle cx="617.87" cy="693.35" r="0.85" fill="#2d3038"/><circle cx="612.20" cy="679.25" r="0.85" fill="#2d3038"/><circle cx="613.43" cy="683.54" r="0.85" fill="#4d7a35"/><circle cx="612.87" cy="683.79" r="0.85" fill="#4f7d8c"/><circle cx="613.06" cy="679.38" r="0.85" fill="#4f7d8c"/><circle cx="615.11" cy="685.39" r="0.85" fill="#4f7d8c"/><circle cx="614.23" cy="682.20" r="0.85" fill="#4f7d8c"/><circle cx="612.78" cy="683.73" r="0.85" fill="#2d3038"/><circle cx="613.92" cy="687.19" r="0.85" fill="#4f7d8c"/><circle cx="615.85" cy="690.49" r="0.85" fill="#4d7a35"/><circle cx="614.47" cy="684.23" r="0.85" fill="#2d3038"/><circle cx="618.32" cy="701.12" r="0.85" fill="#4f7d8c"/><circle cx="616.67" cy="691.63" r="0.85" fill="#4d7a35"/><circle cx="587.55" cy="705.47" r="0.85" fill="#2d3038"/><circle cx="586.08" cy="686.12" r="0.85" fill="#2d3038"/><circle cx="598.13" cy="682.29" r="0.85" fill="#2d3038"/><circle cx="600.69" cy="679.71" r="0.85" fill="#2d3038"/><circle cx="598.46" cy="712.98" r="0.85" fill="#2d3038"/><circle cx="597.82" cy="712.25" r="0.85" fill="#2d3038"/><circle cx="587.74" cy="711.49" r="0.85" fill="#2d3038"/><circle cx="599.59" cy="691.74" r="0.85" fill="#2d3038"/><circle cx="598.62" cy="679.99" r="0.85" fill="#2d3038"/><circle cx="597.75" cy="705.36" r="0.85" fill="#2d3038"/><circle cx="584.29" cy="694.22" r="0.85" fill="#2d3038"/><circle cx="591.77" cy="714.92" r="0.85" fill="#2d3038"/><circle cx="595.93" cy="711.14" r="0.85" fill="#2d3038"/><circle cx="594.00" cy="702.98" r="0.85" fill="#2d3038"/><circle cx="595.67" cy="703.31" r="0.85" fill="#2d3038"/><circle cx="589.87" cy="694.25" r="0.85" fill="#2d3038"/><circle cx="585.96" cy="710.79" r="0.85" fill="#2d3038"/><circle cx="596.86" cy="697.10" r="0.85" fill="#2d3038"/><circle cx="584.55" cy="709.67" r="0.85" fill="#2d3038"/><circle cx="598.37" cy="693.75" r="0.85" fill="#2d3038"/><circle cx="599.96" cy="694.65" r="0.85" fill="#2d3038"/><circle cx="600.45" cy="699.90" r="0.85" fill="#2d3038"/><circle cx="585.54" cy="693.52" r="0.85" fill="#2d3038"/><circle cx="589.92" cy="717.58" r="0.85" fill="#2d3038"/><circle cx="602.16" cy="715.55" r="0.85" fill="#2d3038"/><circle cx="593.83" cy="689.80" r="0.85" fill="#2d3038"/><circle cx="591.23" cy="694.21" r="0.85" fill="#2d3038"/><circle cx="596.21" cy="719.31" r="0.85" fill="#2d3038"/><circle cx="587.59" cy="690.97" r="0.85" fill="#2d3038"/><circle cx="599.16" cy="701.32" r="0.85" fill="#2d3038"/><circle cx="593.52" cy="717.04" r="0.85" fill="#2d3038"/><circle cx="586.77" cy="717.64" r="0.85" fill="#2d3038"/><circle cx="589.80" cy="714.98" r="0.85" fill="#2d3038"/><circle cx="586.22" cy="717.05" r="0.85" fill="#2d3038"/><circle cx="590.84" cy="714.60" r="0.85" fill="#2d3038"/><circle cx="593.95" cy="717.91" r="0.85" fill="#2d3038"/><circle cx="585.95" cy="717.23" r="0.85" fill="#2d3038"/><circle cx="587.24" cy="716.50" r="0.85" fill="#2d3038"/><circle cx="595.05" cy="717.50" r="0.85" fill="#2d3038"/><circle cx="588.72" cy="716.46" r="0.85" fill="#2d3038"/><circle cx="590.08" cy="717.19" r="0.85" fill="#2d3038"/><circle cx="594.94" cy="714.53" r="0.85" fill="#2d3038"/><circle cx="587.25" cy="715.74" r="0.85" fill="#2d3038"/><circle cx="594.69" cy="714.84" r="0.85" fill="#2d3038"/><circle cx="594.65" cy="717.81" r="0.85" fill="#2d3038"/><circle cx="589.84" cy="716.50" r="0.85" fill="#2d3038"/><circle cx="595.13" cy="716.90" r="0.85" fill="#2d3038"/><circle cx="595.05" cy="717.17" r="0.85" fill="#2d3038"/><circle cx="591.27" cy="717.02" r="0.85" fill="#2d3038"/><circle cx="594.48" cy="715.09" r="0.85" fill="#2d3038"/><circle cx="592.17" cy="717.52" r="0.85" fill="#2d3038"/><circle cx="595.89" cy="717.01" r="0.85" fill="#2d3038"/><circle cx="590.17" cy="717.58" r="0.85" fill="#2d3038"/><circle cx="591.66" cy="714.91" r="0.85" fill="#2d3038"/><circle cx="590.48" cy="715.84" r="0.85" fill="#2d3038"/><circle cx="588.50" cy="702.00" r="0.85" fill="#8c6a34"/><circle cx="589.45" cy="690.07" r="0.85" fill="#8c6a34"/><circle cx="587.83" cy="701.18" r="0.85" fill="#8c6a34"/><circle cx="586.12" cy="701.08" r="0.85" fill="#8c6a34"/><circle cx="588.24" cy="693.64" r="0.85" fill="#8c6a34"/><circle cx="589.54" cy="693.00" r="0.85" fill="#8c6a34"/><circle cx="585.00" cy="697.00" r="0.85" fill="#8c6a34"/><circle cx="587.01" cy="704.12" r="0.85" fill="#8c6a34"/><circle cx="543.97" cy="726.85" r="0.85" fill="#2d3038"/><circle cx="520.63" cy="723.79" r="0.85" fill="#2d3038"/><circle cx="534.24" cy="721.79" r="0.85" fill="#2d3038"/><circle cx="520.55" cy="722.55" r="0.85" fill="#2d3038"/><circle cx="531.71" cy="729.39" r="0.85" fill="#2d3038"/><circle cx="538.87" cy="728.35" r="0.85" fill="#2d3038"/><circle cx="521.96" cy="718.01" r="0.85" fill="#2d3038"/><circle cx="532.99" cy="724.62" r="0.85" fill="#2d3038"/><circle cx="527.74" cy="723.14" r="0.85" fill="#2d3038"/><circle cx="543.90" cy="721.34" r="0.85" fill="#2d3038"/><circle cx="541.91" cy="717.01" r="0.85" fill="#2d3038"/><circle cx="520.26" cy="725.08" r="0.85" fill="#2d3038"/><circle cx="521.68" cy="723.86" r="0.85" fill="#2d3038"/><circle cx="535.13" cy="727.09" r="0.85" fill="#2d3038"/><circle cx="533.21" cy="725.88" r="0.85" fill="#2d3038"/><circle cx="536.37" cy="724.61" r="0.85" fill="#2d3038"/><circle cx="531.16" cy="725.39" r="0.85" fill="#2d3038"/><circle cx="533.78" cy="718.92" r="0.85" fill="#2d3038"/><circle cx="524.28" cy="723.10" r="0.85" fill="#2d3038"/><circle cx="540.85" cy="718.92" r="0.85" fill="#2d3038"/><circle cx="537.56" cy="726.30" r="0.85" fill="#2d3038"/><circle cx="536.63" cy="729.77" r="0.85" fill="#2d3038"/><circle cx="535.12" cy="717.21" r="0.85" fill="#2d3038"/><circle cx="532.75" cy="725.49" r="0.85" fill="#2d3038"/><circle cx="521.74" cy="719.35" r="0.85" fill="#2d3038"/><circle cx="541.97" cy="729.77" r="0.85" fill="#2d3038"/><circle cx="521.79" cy="719.84" r="0.85" fill="#2d3038"/><circle cx="527.38" cy="720.14" r="0.85" fill="#2d3038"/><circle cx="532.10" cy="724.07" r="0.85" fill="#2d3038"/><circle cx="528.04" cy="718.69" r="0.85" fill="#2d3038"/><circle cx="521.51" cy="716.61" r="0.85" fill="#2d3038"/><circle cx="536.91" cy="726.74" r="0.85" fill="#2d3038"/><circle cx="524.95" cy="721.40" r="0.85" fill="#2d3038"/><circle cx="544.59" cy="728.93" r="0.85" fill="#2d3038"/><circle cx="534.15" cy="718.95" r="0.85" fill="#2d3038"/><circle cx="538.84" cy="726.53" r="0.85" fill="#2d3038"/><circle cx="521.54" cy="716.30" r="0.85" fill="#2d3038"/><circle cx="521.00" cy="726.21" r="0.85" fill="#2d3038"/><circle cx="536.59" cy="717.89" r="0.85" fill="#2d3038"/><circle cx="542.73" cy="727.22" r="0.85" fill="#2d3038"/><circle cx="520.90" cy="724.66" r="0.85" fill="#2d3038"/><circle cx="526.98" cy="719.58" r="0.85" fill="#2d3038"/><circle cx="522.92" cy="727.03" r="0.85" fill="#2d3038"/><circle cx="541.08" cy="716.40" r="0.85" fill="#2d3038"/><circle cx="529.25" cy="718.27" r="0.85" fill="#2d3038"/><circle cx="523.65" cy="729.25" r="0.85" fill="#2d3038"/><circle cx="536.23" cy="722.63" r="0.85" fill="#2d3038"/><circle cx="535.39" cy="726.55" r="0.85" fill="#2d3038"/><circle cx="538.64" cy="720.56" r="0.85" fill="#2d3038"/><circle cx="539.99" cy="716.18" r="0.85" fill="#2d3038"/><circle cx="650.45" cy="716.15" r="0.85" fill="#2d3038"/><circle cx="650.53" cy="716.49" r="0.85" fill="#2d3038"/><circle cx="653.79" cy="709.04" r="0.85" fill="#2d3038"/><circle cx="653.25" cy="714.01" r="0.85" fill="#2d3038"/><circle cx="648.11" cy="710.67" r="0.85" fill="#2d3038"/><circle cx="645.94" cy="709.74" r="0.85" fill="#2d3038"/><circle cx="654.22" cy="717.93" r="0.85" fill="#2d3038"/><circle cx="648.04" cy="710.35" r="0.85" fill="#2d3038"/><circle cx="645.46" cy="718.62" r="0.85" fill="#2d3038"/><circle cx="646.54" cy="710.12" r="0.85" fill="#2d3038"/><circle cx="651.96" cy="714.14" r="0.85" fill="#2d3038"/><circle cx="655.01" cy="728.56" r="0.85" fill="#2d3038"/><circle cx="650.23" cy="725.30" r="0.85" fill="#2d3038"/><circle cx="651.58" cy="722.60" r="0.85" fill="#2d3038"/><circle cx="646.62" cy="724.86" r="0.85" fill="#2d3038"/><circle cx="654.63" cy="724.00" r="0.85" fill="#2d3038"/><circle cx="649.18" cy="711.48" r="0.85" fill="#2d3038"/><circle cx="655.37" cy="721.82" r="0.85" fill="#2d3038"/><circle cx="651.37" cy="712.50" r="0.85" fill="#2d3038"/><circle cx="655.38" cy="714.97" r="0.85" fill="#2d3038"/><circle cx="648.69" cy="716.18" r="0.85" fill="#2d3038"/><circle cx="655.53" cy="710.93" r="0.85" fill="#2d3038"/><circle cx="654.39" cy="722.46" r="0.85" fill="#2d3038"/><circle cx="651.42" cy="722.78" r="0.85" fill="#2d3038"/><circle cx="652.89" cy="711.98" r="0.85" fill="#2d3038"/><circle cx="550.22" cy="720.68" r="0.85" fill="#2d3038"/><circle cx="560.52" cy="720.78" r="0.85" fill="#2d3038"/><circle cx="571.35" cy="725.36" r="0.85" fill="#2d3038"/><circle cx="550.35" cy="720.74" r="0.85" fill="#2d3038"/><circle cx="565.83" cy="727.22" r="0.85" fill="#2d3038"/><circle cx="568.75" cy="725.10" r="0.85" fill="#2d3038"/><circle cx="576.09" cy="729.21" r="0.85" fill="#2d3038"/><circle cx="562.40" cy="729.00" r="0.85" fill="#2d3038"/><circle cx="556.16" cy="723.95" r="0.85" fill="#2d3038"/><circle cx="570.30" cy="721.73" r="0.85" fill="#2d3038"/><circle cx="579.66" cy="728.78" r="0.85" fill="#2d3038"/><circle cx="575.56" cy="724.61" r="0.85" fill="#2d3038"/><circle cx="558.33" cy="722.06" r="0.85" fill="#2d3038"/><circle cx="560.42" cy="727.84" r="0.85" fill="#2d3038"/><circle cx="551.41" cy="722.09" r="0.85" fill="#2d3038"/><circle cx="559.22" cy="723.36" r="0.85" fill="#2d3038"/><circle cx="568.00" cy="728.46" r="0.85" fill="#2d3038"/><circle cx="550.32" cy="720.89" r="0.85" fill="#2d3038"/><circle cx="573.04" cy="726.62" r="0.85" fill="#2d3038"/><circle cx="557.98" cy="722.63" r="0.85" fill="#2d3038"/><circle cx="604.96" cy="718.59" r="0.85" fill="#2d3038"/><circle cx="621.57" cy="709.26" r="0.85" fill="#2d3038"/><circle cx="609.33" cy="709.96" r="0.85" fill="#2d3038"/><circle cx="616.26" cy="709.37" r="0.85" fill="#2d3038"/><circle cx="610.21" cy="713.90" r="0.85" fill="#2d3038"/><circle cx="623.55" cy="728.59" r="0.85" fill="#2d3038"/><circle cx="611.46" cy="719.93" r="0.85" fill="#2d3038"/><circle cx="607.70" cy="716.13" r="0.85" fill="#2d3038"/><circle cx="619.48" cy="716.15" r="0.85" fill="#2d3038"/><circle cx="607.49" cy="722.59" r="0.85" fill="#2d3038"/><circle cx="622.32" cy="728.00" r="0.85" fill="#2d3038"/><circle cx="607.48" cy="724.74" r="0.85" fill="#2d3038"/><circle cx="623.58" cy="708.66" r="0.85" fill="#2d3038"/><circle cx="617.62" cy="727.51" r="0.85" fill="#2d3038"/><circle cx="620.02" cy="726.77" r="0.85" fill="#2d3038"/>
<rect x="519.0" y="654.1" width="140.6" height="79.1" fill="none" stroke="#4d4d4d" stroke-width="1.0"/>
<rect x="522.40" y="572.40" width="20.10" height="39.80" fill="white" stroke="#555" stroke-width="0.8"/>
<text x="528.70" y="578.40" font-size="7.0" fill="#231f20" text-anchor="start">r</text>
<text x="531.80" y="576.00" font-size="4.5" fill="#231f20" text-anchor="start">2</text>
<rect x="524.10" y="580.30" width="3.70" height="6.10" fill="#d7191c"/>
<rect x="524.10" y="586.40" width="3.70" height="6.10" fill="#f2a31f"/>
<rect x="524.10" y="592.50" width="3.70" height="5.70" fill="#4ca02c"/>
<rect x="524.10" y="598.20" width="3.70" height="6.10" fill="#8bc9ec"/>
<rect x="524.10" y="604.30" width="3.70" height="6.60" fill="#1b2b63"/>
<line x1="527.80" y1="586.40" x2="529.80" y2="586.40" stroke="#333" stroke-width="0.6"/>
<text x="529.60" y="589.30" font-size="8.0" fill="#231f20" text-anchor="start">0.8</text>
<line x1="527.80" y1="592.50" x2="529.80" y2="592.50" stroke="#333" stroke-width="0.6"/>
<text x="529.60" y="595.40" font-size="8.0" fill="#231f20" text-anchor="start">0.6</text>
<line x1="527.80" y1="598.20" x2="529.80" y2="598.20" stroke="#333" stroke-width="0.6"/>
<text x="529.60" y="601.10" font-size="8.0" fill="#231f20" text-anchor="start">0.4</text>
<line x1="527.80" y1="604.30" x2="529.80" y2="604.30" stroke="#333" stroke-width="0.6"/>
<text x="529.60" y="607.20" font-size="8.0" fill="#231f20" text-anchor="start">0.2</text>
<rect x="522.40" y="656.70" width="20.10" height="39.80" fill="white" stroke="#555" stroke-width="0.8"/>
<text x="528.70" y="662.70" font-size="7.0" fill="#231f20" text-anchor="start">r</text>
<text x="531.80" y="660.30" font-size="4.5" fill="#231f20" text-anchor="start">2</text>
<rect x="524.10" y="664.60" width="3.70" height="6.10" fill="#d7191c"/>
<rect x="524.10" y="670.70" width="3.70" height="6.10" fill="#f2a31f"/>
<rect x="524.10" y="676.80" width="3.70" height="5.70" fill="#4ca02c"/>
<rect x="524.10" y="682.50" width="3.70" height="6.10" fill="#8bc9ec"/>
<rect x="524.10" y="688.60" width="3.70" height="6.60" fill="#1b2b63"/>
<line x1="527.80" y1="670.70" x2="529.80" y2="670.70" stroke="#333" stroke-width="0.6"/>
<text x="529.60" y="673.60" font-size="8.0" fill="#231f20" text-anchor="start">0.8</text>
<line x1="527.80" y1="676.80" x2="529.80" y2="676.80" stroke="#333" stroke-width="0.6"/>
<text x="529.60" y="679.70" font-size="8.0" fill="#231f20" text-anchor="start">0.6</text>
<line x1="527.80" y1="682.50" x2="529.80" y2="682.50" stroke="#333" stroke-width="0.6"/>
<text x="529.60" y="685.40" font-size="8.0" fill="#231f20" text-anchor="start">0.4</text>
<line x1="527.80" y1="688.60" x2="529.80" y2="688.60" stroke="#333" stroke-width="0.6"/>
<text x="529.60" y="691.50" font-size="8.0" fill="#231f20" text-anchor="start">0.2</text>
<text x="547.80" y="588.60" font-size="7.7" fill="#231f20" text-anchor="start">GWAS</text>
<text x="547.80" y="673.00" font-size="7.7" fill="#231f20" text-anchor="start">GWAS</text>
<text x="592.00" y="578.40" font-size="7.7" fill="#231f20" text-anchor="middle">rs6939196</text>
<text x="594.00" y="662.60" font-size="7.7" fill="#231f20" text-anchor="middle">rs6939196</text>
<text x="620.70" y="673.00" font-size="7.7" fill="#231f20" text-anchor="start">PP4=0.87</text>
<line x1="516.80" y1="570.00" x2="519.00" y2="570.00" stroke="#4d4d4d" stroke-width="0.8"/>
<text x="516.20" y="573.20" font-size="9.3" fill="#231f20" text-anchor="end">35</text>
<line x1="516.80" y1="591.10" x2="519.00" y2="591.10" stroke="#4d4d4d" stroke-width="0.8"/>
<text x="516.20" y="594.30" font-size="9.3" fill="#231f20" text-anchor="end">25</text>
<line x1="516.80" y1="612.10" x2="519.00" y2="612.10" stroke="#4d4d4d" stroke-width="0.8"/>
<text x="516.20" y="615.30" font-size="9.3" fill="#231f20" text-anchor="end">15</text>
<line x1="516.80" y1="634.10" x2="519.00" y2="634.10" stroke="#4d4d4d" stroke-width="0.8"/>
<text x="516.20" y="637.30" font-size="9.3" fill="#231f20" text-anchor="end">5</text>
<line x1="516.80" y1="665.10" x2="519.00" y2="665.10" stroke="#4d4d4d" stroke-width="0.8"/>
<text x="516.20" y="668.30" font-size="9.3" fill="#231f20" text-anchor="end">10</text>
<line x1="516.80" y1="677.84" x2="519.00" y2="677.84" stroke="#4d4d4d" stroke-width="0.8"/>
<text x="516.20" y="681.04" font-size="9.3" fill="#231f20" text-anchor="end">8</text>
<line x1="516.80" y1="690.58" x2="519.00" y2="690.58" stroke="#4d4d4d" stroke-width="0.8"/>
<text x="516.20" y="693.78" font-size="9.3" fill="#231f20" text-anchor="end">6</text>
<line x1="516.80" y1="703.32" x2="519.00" y2="703.32" stroke="#4d4d4d" stroke-width="0.8"/>
<text x="516.20" y="706.52" font-size="9.3" fill="#231f20" text-anchor="end">4</text>
<line x1="516.80" y1="716.06" x2="519.00" y2="716.06" stroke="#4d4d4d" stroke-width="0.8"/>
<text x="516.20" y="719.26" font-size="9.3" fill="#231f20" text-anchor="end">2</text>
<line x1="516.80" y1="728.80" x2="519.00" y2="728.80" stroke="#4d4d4d" stroke-width="0.8"/>
<text x="516.20" y="732.00" font-size="9.3" fill="#231f20" text-anchor="end">0</text>
<line x1="659.20" y1="570.00" x2="661.60" y2="570.00" stroke="#4a6fb8" stroke-width="0.8"/>
<text x="662.20" y="573.10" font-size="8.6" fill="#4a6fb8" text-anchor="start">100</text>
<line x1="659.20" y1="586.40" x2="661.60" y2="586.40" stroke="#4a6fb8" stroke-width="0.8"/>
<text x="662.20" y="589.50" font-size="8.6" fill="#4a6fb8" text-anchor="start">80</text>
<line x1="659.20" y1="601.10" x2="661.60" y2="601.10" stroke="#4a6fb8" stroke-width="0.8"/>
<text x="662.20" y="604.20" font-size="8.6" fill="#4a6fb8" text-anchor="start">60</text>
<line x1="659.20" y1="615.60" x2="661.60" y2="615.60" stroke="#4a6fb8" stroke-width="0.8"/>
<text x="662.20" y="618.70" font-size="8.6" fill="#4a6fb8" text-anchor="start">40</text>
<line x1="659.20" y1="630.30" x2="661.60" y2="630.30" stroke="#4a6fb8" stroke-width="0.8"/>
<text x="662.20" y="633.40" font-size="8.6" fill="#4a6fb8" text-anchor="start">20</text>
<line x1="659.20" y1="644.50" x2="661.60" y2="644.50" stroke="#4a6fb8" stroke-width="0.8"/>
<text x="662.20" y="647.60" font-size="8.6" fill="#4a6fb8" text-anchor="start">0</text>
<line x1="659.60" y1="657.90" x2="662.00" y2="657.90" stroke="#4a6fb8" stroke-width="0.8"/>
<text x="662.40" y="661.00" font-size="8.6" fill="#4a6fb8" text-anchor="start">100</text>
<line x1="659.60" y1="672.00" x2="662.00" y2="672.00" stroke="#4a6fb8" stroke-width="0.8"/>
<text x="662.40" y="675.10" font-size="8.6" fill="#4a6fb8" text-anchor="start">80</text>
<line x1="659.60" y1="686.10" x2="662.00" y2="686.10" stroke="#4a6fb8" stroke-width="0.8"/>
<text x="662.40" y="689.20" font-size="8.6" fill="#4a6fb8" text-anchor="start">60</text>
<line x1="659.60" y1="700.60" x2="662.00" y2="700.60" stroke="#4a6fb8" stroke-width="0.8"/>
<text x="662.40" y="703.70" font-size="8.6" fill="#4a6fb8" text-anchor="start">40</text>
<line x1="659.60" y1="714.70" x2="662.00" y2="714.70" stroke="#4a6fb8" stroke-width="0.8"/>
<text x="662.40" y="717.80" font-size="8.6" fill="#4a6fb8" text-anchor="start">20</text>
<line x1="659.60" y1="728.80" x2="662.00" y2="728.80" stroke="#4a6fb8" stroke-width="0.8"/>
<text x="662.40" y="731.90" font-size="8.6" fill="#4a6fb8" text-anchor="start">0</text>
<text x="503.3" y="647.6" font-size="9.7" fill="#231f20" text-anchor="middle" transform="rotate(-90 503.3 647.6)">-log<tspan font-size="6.8" dy="2.2">10</tspan><tspan dy="-2.2">(P-value)</tspan></text>
<text x="678.00" y="647.00" font-size="7.6" fill="#4a6fb8" text-anchor="middle" transform="rotate(90 678.00 647.00)">Recombination rate (cM/Mb)</text>
<line x1="580.50" y1="733.20" x2="580.50" y2="739.50" stroke="#e3141e" stroke-width="0.9"/>
<text x="594.30" y="746.00" font-size="9.5" fill="#231f20" text-anchor="middle" font-style="italic">LTR2B_dup15-chr6</text>
<line x1="521.80" y1="748.90" x2="659.90" y2="748.90" stroke="#3a3a3a" stroke-width="1.1"/>
<line x1="524.90" y1="748.90" x2="524.90" y2="751.50" stroke="#3a3a3a" stroke-width="0.9"/>
<text x="524.90" y="761.60" font-size="9.5" fill="#231f20" text-anchor="middle">166.6</text>
<line x1="558.50" y1="748.90" x2="558.50" y2="751.50" stroke="#3a3a3a" stroke-width="0.9"/>
<text x="558.50" y="761.60" font-size="9.5" fill="#231f20" text-anchor="middle">166.8</text>
<line x1="592.40" y1="748.90" x2="592.40" y2="751.50" stroke="#3a3a3a" stroke-width="0.9"/>
<text x="592.40" y="761.60" font-size="9.5" fill="#231f20" text-anchor="middle">167</text>
<line x1="626.00" y1="748.90" x2="626.00" y2="751.50" stroke="#3a3a3a" stroke-width="0.9"/>
<text x="626.00" y="761.60" font-size="9.5" fill="#231f20" text-anchor="middle">167.2</text>
<text x="557.90" y="772.00" font-size="7.6" fill="#231f20" text-anchor="start">Position on chr6 (Mb)</text>
<text x="638.90" y="773.30" font-size="9.5" fill="#231f20" text-anchor="start">hg38</text>
<text x="473.70" y="812.30" font-size="13" fill="#231f20" text-anchor="start">g</text>
<text x="591.60" y="810.00" font-size="9.0" fill="#231f20" text-anchor="middle">CD4-T</text>
<rect x="530.60" y="813.90" width="123.00" height="120.50" fill="white" stroke="#3f3f3f" stroke-width="1.0"/>
<line x1="527.80" y1="836.50" x2="530.60" y2="836.50" stroke="#3f3f3f" stroke-width="0.8"/>
<text x="526.80" y="839.70" font-size="8.8" fill="#231f20" text-anchor="end">0.4</text>
<line x1="527.80" y1="859.10" x2="530.60" y2="859.10" stroke="#3f3f3f" stroke-width="0.8"/>
<text x="526.80" y="862.30" font-size="8.8" fill="#231f20" text-anchor="end">0.3</text>
<line x1="527.80" y1="882.00" x2="530.60" y2="882.00" stroke="#3f3f3f" stroke-width="0.8"/>
<text x="526.80" y="885.20" font-size="8.8" fill="#231f20" text-anchor="end">0.2</text>
<line x1="527.80" y1="904.90" x2="530.60" y2="904.90" stroke="#3f3f3f" stroke-width="0.8"/>
<text x="526.80" y="908.10" font-size="8.8" fill="#231f20" text-anchor="end">0.1</text>
<line x1="527.80" y1="927.50" x2="530.60" y2="927.50" stroke="#3f3f3f" stroke-width="0.8"/>
<text x="526.80" y="930.70" font-size="8.8" fill="#231f20" text-anchor="end">0.0</text>
<text x="581.40" y="829.30" font-size="9.2" fill="#231f20" text-anchor="start">P-value = 0.04</text>
<line x1="562.00" y1="820.20" x2="562.00" y2="887.30" stroke="#555" stroke-width="0.9"/>
<line x1="545.30" y1="820.20" x2="574.20" y2="820.20" stroke="#555" stroke-width="0.9"/>
<line x1="545.30" y1="887.30" x2="574.20" y2="887.30" stroke="#555" stroke-width="0.9"/>
<rect x="536.90" y="844.30" width="49.90" height="27.40" fill="#94afd1" stroke="#555" stroke-width="0.9"/>
<line x1="536.90" y1="854.40" x2="586.80" y2="854.40" stroke="#555" stroke-width="1.0"/>
<line x1="623.20" y1="864.10" x2="623.20" y2="928.10" stroke="#555" stroke-width="0.9"/>
<line x1="610.60" y1="864.10" x2="634.80" y2="864.10" stroke="#555" stroke-width="0.9"/>
<line x1="610.60" y1="928.10" x2="634.80" y2="928.10" stroke="#555" stroke-width="0.9"/>
<rect x="598.70" y="881.10" width="48.60" height="21.30" fill="#94afd1" stroke="#555" stroke-width="0.9"/>
<line x1="598.70" y1="889.90" x2="647.30" y2="889.90" stroke="#555" stroke-width="1.0"/>
<circle cx="555.40" cy="820.20" r="2.10" fill="#5e5e5e" opacity="0.9"/>
<circle cx="564.20" cy="842.10" r="2.10" fill="#5e5e5e" opacity="0.9"/>
<circle cx="556.60" cy="848.40" r="2.10" fill="#5e5e5e" opacity="0.9"/>
<circle cx="564.20" cy="859.40" r="2.10" fill="#5e5e5e" opacity="0.9"/>
<circle cx="556.30" cy="875.10" r="2.10" fill="#5e5e5e" opacity="0.9"/>
<circle cx="563.50" cy="887.30" r="2.10" fill="#5e5e5e" opacity="0.9"/>
<circle cx="616.90" cy="864.10" r="2.10" fill="#5e5e5e" opacity="0.9"/>
<circle cx="626.30" cy="886.70" r="2.10" fill="#5e5e5e" opacity="0.9"/>
<circle cx="625.40" cy="893.60" r="2.10" fill="#5e5e5e" opacity="0.9"/>
<circle cx="626.90" cy="928.10" r="2.10" fill="#5e5e5e" opacity="0.9"/>
<text x="562.00" y="943.60" font-size="9.0" fill="#231f20" text-anchor="middle">Normal</text>
<text x="623.20" y="943.60" font-size="9.0" fill="#231f20" text-anchor="middle">CD</text>
<text x="498.30" y="874.50" font-size="9.4" fill="#231f20" text-anchor="middle" transform="rotate(-90 498.30 874.50)">Expression of</text>
<text x="509.00" y="874.50" font-size="8.3" fill="#231f20" text-anchor="middle" font-style="italic" transform="rotate(-90 509.00 874.50)">LTR2B_dup15-chr6</text>
</svg>
</body></html>
